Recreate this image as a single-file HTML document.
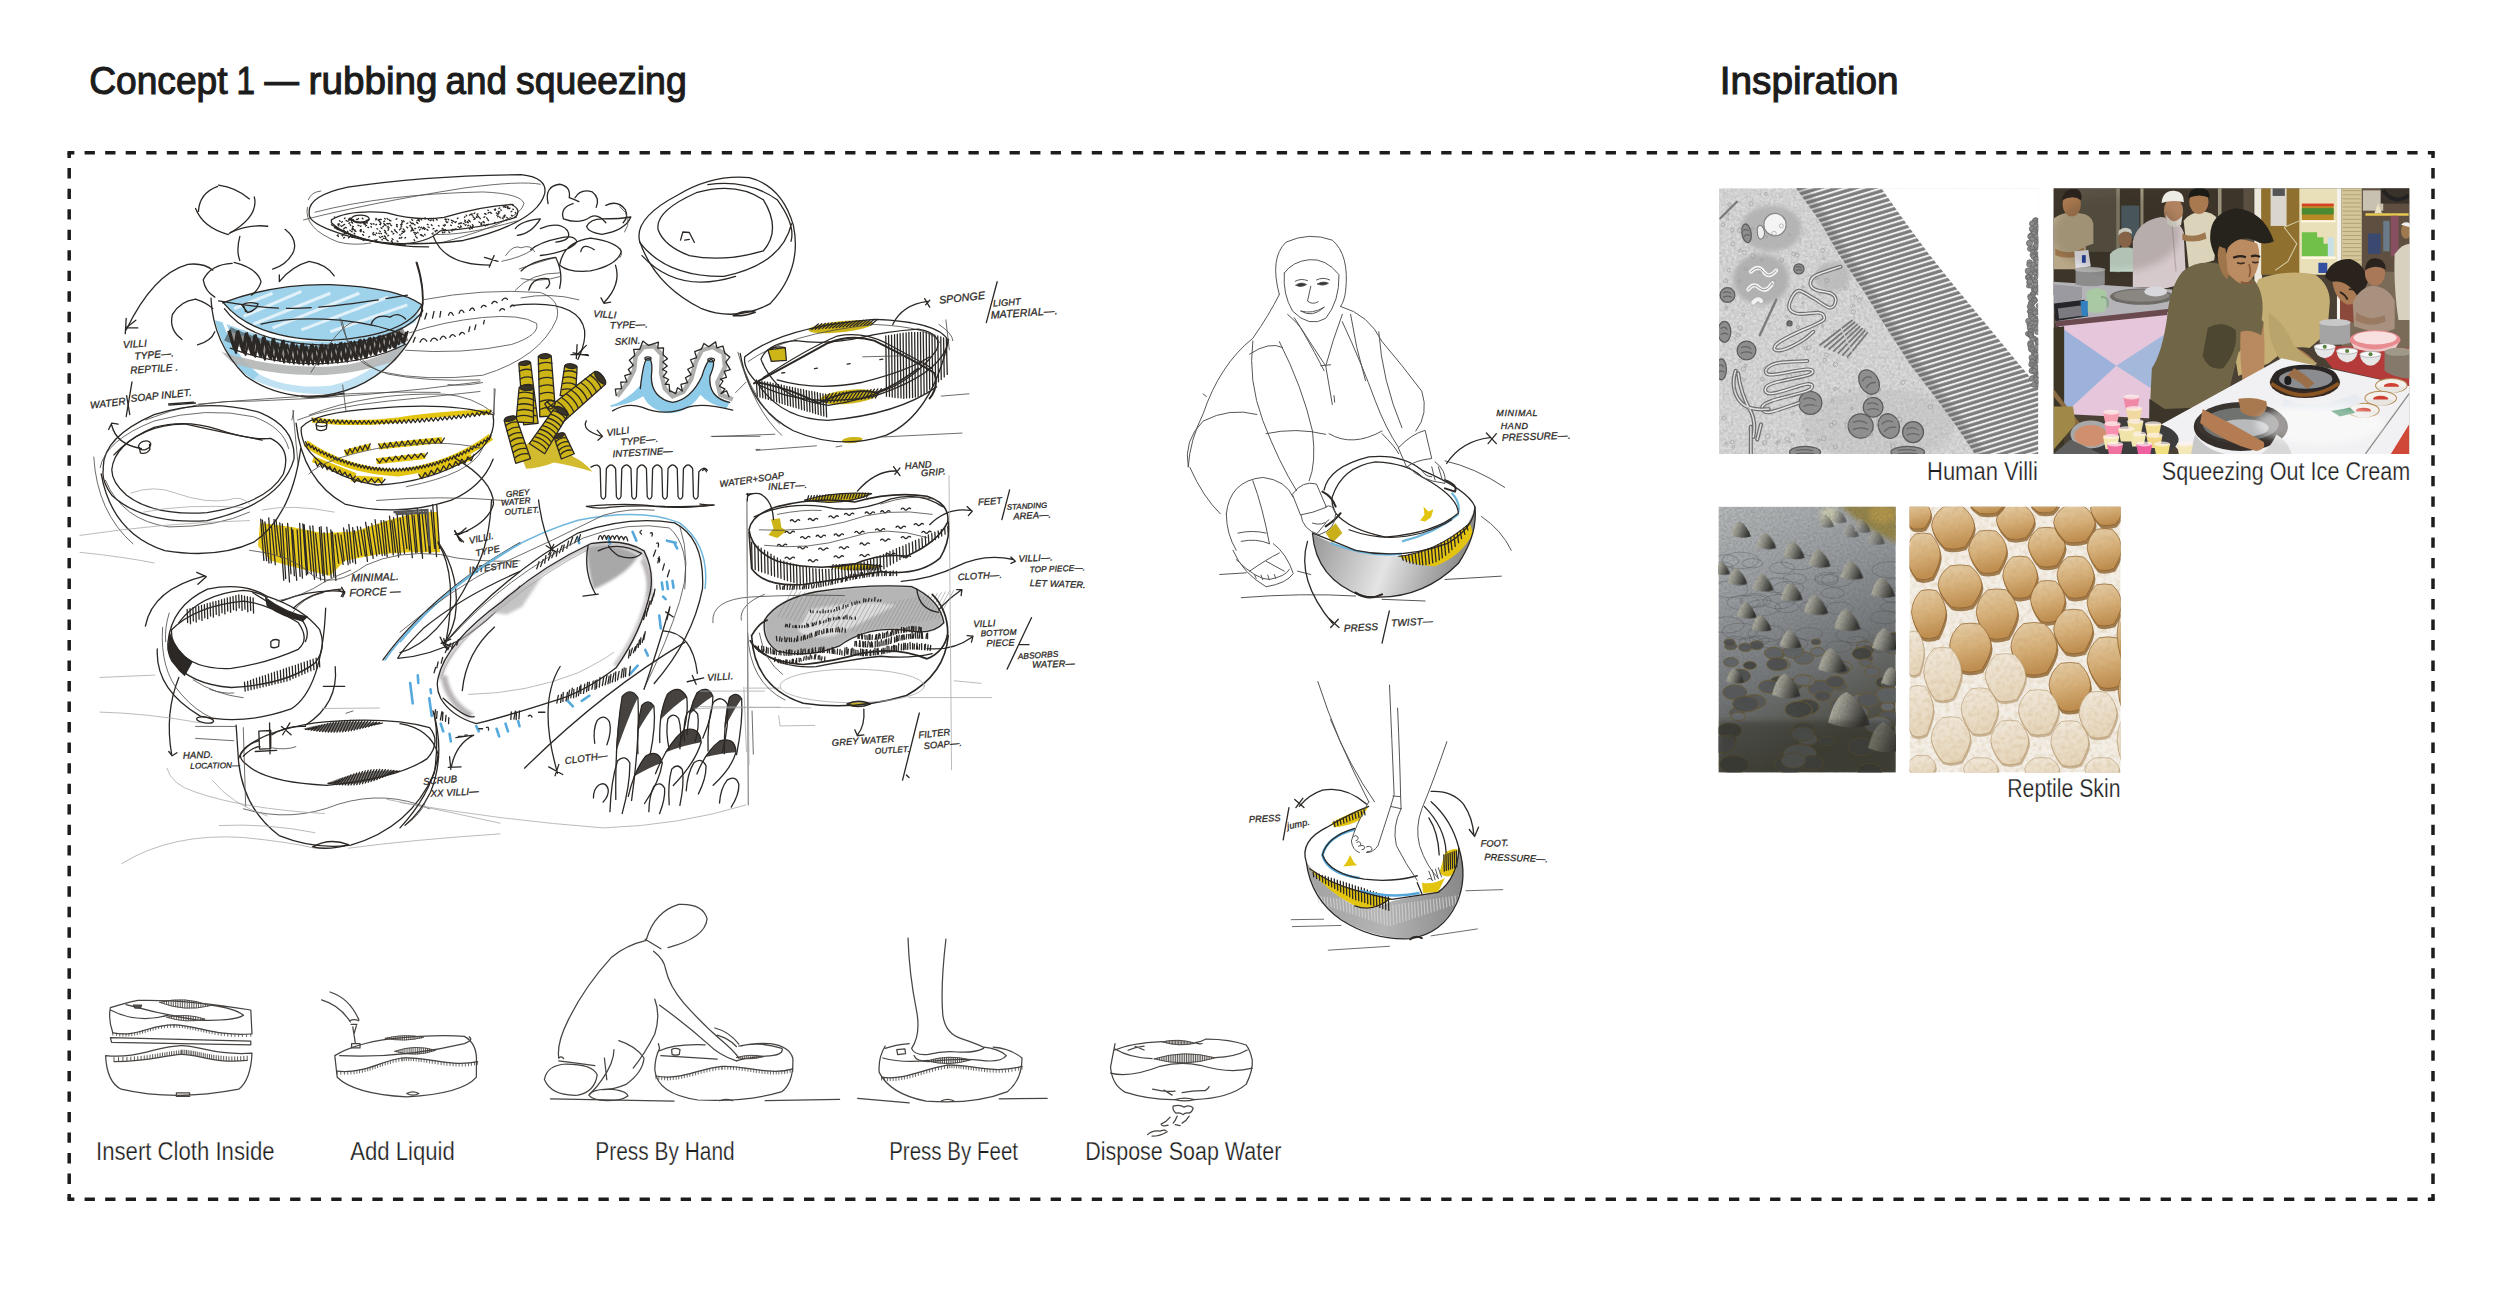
<!DOCTYPE html>
<html lang="en"><head><meta charset="utf-8"><title>Concept 1 — rubbing and squeezing</title>
<style>
html,body{margin:0;padding:0;background:#fff;}
body{width:2500px;height:1298px;overflow:hidden;font-family:"Liberation Sans",sans-serif;}
svg{display:block;}
text{font-family:"Liberation Sans",sans-serif;}
.h{font-size:39px;fill:#1c1c1c;stroke:#1c1c1c;stroke-width:1.1px;}
.c{font-size:25px;fill:#1e1e1e;stroke:#fff;stroke-width:0.25px;paint-order:fill stroke;}
.ink{fill:none;stroke:#2b2724;stroke-width:1.3;stroke-linecap:round;stroke-linejoin:round;}
.thin{fill:none;stroke:#4a4744;stroke-width:0.8;stroke-linecap:round;stroke-linejoin:round;}
.pencil{fill:none;stroke:#a4a4a4;stroke-width:0.75;stroke-linecap:round;stroke-linejoin:round;}
.pen{fill:none;stroke:#555;stroke-width:1;stroke-linecap:round;stroke-linejoin:round;}
.sk *{vector-effect:non-scaling-stroke;}
.blue{fill:#8ecbe8;stroke:none;}
.yel{fill:#cdb417;stroke:none;}
.yel2{fill:#e6c612;stroke:none;}
.gry{fill:#b4b6b6;stroke:none;}
.hw{font-family:"Liberation Sans",sans-serif;font-style:italic;fill:#2e2b28;stroke:#2e2b28;stroke-width:0.3px;letter-spacing:0.5px;}
</style></head><body>
<svg width="2500" height="1298" viewBox="0 0 2500 1298">
<rect x="0" y="0" width="2500" height="1298" fill="#ffffff"/>
<g id="frame" fill="none" stroke="#1c1c1c" stroke-width="3.5">
<path d="M69.2 152.8 H2433" stroke-dasharray="10.3 10.2548" stroke-dashoffset="5.15"/>
<path d="M69.2 1199.2 H2433" stroke-dasharray="10.3 10.2548" stroke-dashoffset="5.15"/>
<path d="M69.2 152.8 V1199.2" stroke-dasharray="10.4 10.118" stroke-dashoffset="5.2"/>
<path d="M2433 152.8 V1199.2" stroke-dasharray="10.4 10.118" stroke-dashoffset="5.2"/>
<path d="M67.45 152.8h3.5M2431.25 152.8h3.5M67.45 1199.2h3.5M2431.25 1199.2h3.5" stroke-dasharray="none"/>
</g>
<text class="h"><tspan x="89.2" y="94.4" textLength="138.4" lengthAdjust="spacingAndGlyphs">Concept</tspan> <tspan x="236.5" textLength="18.5" lengthAdjust="spacingAndGlyphs">1</tspan> <tspan x="264.4" textLength="34.4" lengthAdjust="spacingAndGlyphs">—</tspan> <tspan x="308.5" textLength="129" lengthAdjust="spacingAndGlyphs">rubbing</tspan> <tspan x="445.6" textLength="61.5" lengthAdjust="spacingAndGlyphs">and</tspan> <tspan x="516" textLength="170.8" lengthAdjust="spacingAndGlyphs">squeezing</tspan></text>
<text class="h" x="1719.7" y="94.4" textLength="179" lengthAdjust="spacingAndGlyphs">Inspiration</text>
<g class="c">
<text x="1927" y="480" textLength="110.8" lengthAdjust="spacingAndGlyphs">Human Villi</text>
<text x="2161.8" y="480" textLength="248.4" lengthAdjust="spacingAndGlyphs">Squeezing Out Ice Cream</text>
<text x="2007.3" y="796.5" textLength="113.2" lengthAdjust="spacingAndGlyphs">Reptile Skin</text>
<text x="96" y="1159.8" textLength="178.6" lengthAdjust="spacingAndGlyphs">Insert Cloth Inside</text>
<text x="350.2" y="1159.8" textLength="104.5" lengthAdjust="spacingAndGlyphs">Add Liquid</text>
<text x="595.3" y="1159.8" textLength="139.4" lengthAdjust="spacingAndGlyphs">Press By Hand</text>
<text x="889.2" y="1159.8" textLength="128.8" lengthAdjust="spacingAndGlyphs">Press By Feet</text>
<text x="1085.2" y="1159.8" textLength="196.1" lengthAdjust="spacingAndGlyphs">Dispose Soap Water</text>
</g>

<defs>
<clipPath id="cpV"><rect x="75" y="72" width="1255" height="1045"/></clipPath>
<filter id="fNoiseV" x="0" y="0" width="100%" height="100%"><feTurbulence type="fractalNoise" baseFrequency="0.09" numOctaves="3" seed="4"/><feColorMatrix type="matrix" values="0 0 0 0 0.45  0 0 0 0 0.45  0 0 0 0 0.45  0.9 0.9 0 0 -0.62"/></filter>
<filter id="fBlurV"><feGaussianBlur stdDeviation="3"/></filter>
<filter id="fBlurV2"><feGaussianBlur stdDeviation="8"/></filter>
<pattern id="pStripe" width="40" height="20.5" patternUnits="userSpaceOnUse" patternTransform="rotate(-17)">
<rect width="40" height="20.5" fill="#7b7b7b"/><rect y="6.5" width="40" height="8" fill="#f0f0f0"/></pattern>
<clipPath id="cpBand"><path d="M370 60 L470 200 L545 330 L640 470 L720 600 L830 770 L930 900 L1010 1010 L1090 1130 L1340 1130 L1340 865 L1240 745 L1120 600 L1000 455 L900 330 L800 195 L705 60Z"/></clipPath>
</defs>
<g transform="translate(1700,170) scale(0.25424)" clip-path="url(#cpV)">
<rect x="75" y="72" width="1255" height="1045" fill="#dcdcdc"/>
<g filter="url(#fBlurV2)"><ellipse cx="280" cy="230" rx="120" ry="90" fill="#b5b5b5"/><ellipse cx="240" cy="430" rx="110" ry="100" fill="#b0b0b0"/><ellipse cx="520" cy="420" rx="70" ry="60" fill="#c0c0c0"/><ellipse cx="700" cy="1000" rx="300" ry="140" fill="#cfcfcf"/></g>
<rect x="75" y="72" width="1255" height="1045" filter="url(#fNoiseV)"/>
<path d="M690 60 L1340 60 L1340 880 L1240 750 L1120 605 L1000 460 L900 335 L800 200Z" fill="#ffffff"/>
<g clip-path="url(#cpBand)"><rect x="300" y="0" width="1100" height="1200" fill="url(#pStripe)"/>
<path d="M370 60 L470 200 L545 330 L640 470 L720 600 L830 770 L930 900 L1010 1010 L1090 1130" fill="none" stroke="#666" stroke-width="70" opacity="0.35" filter="url(#fBlurV2)"/>
</g>
<circle cx="1323" cy="199" r="10" fill="#8a8a8a" stroke="#666" stroke-width="3"/>
<circle cx="1321" cy="196" r="8" fill="#8a8a8a" stroke="#666" stroke-width="3"/>
<circle cx="1317" cy="198" r="9" fill="#8a8a8a" stroke="#666" stroke-width="3"/>
<circle cx="1320" cy="214" r="10" fill="#8a8a8a" stroke="#666" stroke-width="3"/>
<circle cx="1314" cy="208" r="11" fill="#8a8a8a" stroke="#666" stroke-width="3"/>
<circle cx="1307" cy="211" r="11" fill="#8a8a8a" stroke="#666" stroke-width="3"/>
<circle cx="1333" cy="225" r="10" fill="#8a8a8a" stroke="#666" stroke-width="3"/>
<circle cx="1326" cy="217" r="11" fill="#8a8a8a" stroke="#666" stroke-width="3"/>
<circle cx="1321" cy="224" r="12" fill="#8a8a8a" stroke="#666" stroke-width="3"/>
<circle cx="1306" cy="232" r="11" fill="#8a8a8a" stroke="#666" stroke-width="3"/>
<circle cx="1321" cy="237" r="12" fill="#8a8a8a" stroke="#666" stroke-width="3"/>
<circle cx="1332" cy="229" r="9" fill="#8a8a8a" stroke="#666" stroke-width="3"/>
<circle cx="1319" cy="245" r="9" fill="#8a8a8a" stroke="#666" stroke-width="3"/>
<circle cx="1317" cy="243" r="9" fill="#8a8a8a" stroke="#666" stroke-width="3"/>
<circle cx="1314" cy="245" r="12" fill="#8a8a8a" stroke="#666" stroke-width="3"/>
<circle cx="1304" cy="259" r="12" fill="#8a8a8a" stroke="#666" stroke-width="3"/>
<circle cx="1312" cy="252" r="11" fill="#8a8a8a" stroke="#666" stroke-width="3"/>
<circle cx="1302" cy="259" r="10" fill="#8a8a8a" stroke="#666" stroke-width="3"/>
<circle cx="1328" cy="269" r="10" fill="#8a8a8a" stroke="#666" stroke-width="3"/>
<circle cx="1325" cy="262" r="11" fill="#8a8a8a" stroke="#666" stroke-width="3"/>
<circle cx="1300" cy="262" r="11" fill="#8a8a8a" stroke="#666" stroke-width="3"/>
<circle cx="1330" cy="275" r="11" fill="#8a8a8a" stroke="#666" stroke-width="3"/>
<circle cx="1306" cy="272" r="10" fill="#8a8a8a" stroke="#666" stroke-width="3"/>
<circle cx="1334" cy="279" r="9" fill="#8a8a8a" stroke="#666" stroke-width="3"/>
<circle cx="1296" cy="288" r="12" fill="#8a8a8a" stroke="#666" stroke-width="3"/>
<circle cx="1323" cy="284" r="10" fill="#8a8a8a" stroke="#666" stroke-width="3"/>
<circle cx="1334" cy="285" r="10" fill="#8a8a8a" stroke="#666" stroke-width="3"/>
<circle cx="1329" cy="294" r="11" fill="#8a8a8a" stroke="#666" stroke-width="3"/>
<circle cx="1323" cy="304" r="12" fill="#8a8a8a" stroke="#666" stroke-width="3"/>
<circle cx="1321" cy="299" r="10" fill="#8a8a8a" stroke="#666" stroke-width="3"/>
<circle cx="1312" cy="311" r="10" fill="#8a8a8a" stroke="#666" stroke-width="3"/>
<circle cx="1298" cy="310" r="10" fill="#8a8a8a" stroke="#666" stroke-width="3"/>
<circle cx="1307" cy="307" r="9" fill="#8a8a8a" stroke="#666" stroke-width="3"/>
<circle cx="1312" cy="321" r="8" fill="#8a8a8a" stroke="#666" stroke-width="3"/>
<circle cx="1317" cy="322" r="8" fill="#8a8a8a" stroke="#666" stroke-width="3"/>
<circle cx="1308" cy="322" r="8" fill="#8a8a8a" stroke="#666" stroke-width="3"/>
<circle cx="1316" cy="334" r="9" fill="#8a8a8a" stroke="#666" stroke-width="3"/>
<circle cx="1306" cy="334" r="8" fill="#8a8a8a" stroke="#666" stroke-width="3"/>
<circle cx="1332" cy="334" r="12" fill="#8a8a8a" stroke="#666" stroke-width="3"/>
<circle cx="1318" cy="344" r="9" fill="#8a8a8a" stroke="#666" stroke-width="3"/>
<circle cx="1321" cy="341" r="9" fill="#8a8a8a" stroke="#666" stroke-width="3"/>
<circle cx="1312" cy="341" r="10" fill="#8a8a8a" stroke="#666" stroke-width="3"/>
<circle cx="1334" cy="355" r="11" fill="#8a8a8a" stroke="#666" stroke-width="3"/>
<circle cx="1321" cy="351" r="11" fill="#8a8a8a" stroke="#666" stroke-width="3"/>
<circle cx="1324" cy="351" r="10" fill="#8a8a8a" stroke="#666" stroke-width="3"/>
<circle cx="1330" cy="363" r="9" fill="#8a8a8a" stroke="#666" stroke-width="3"/>
<circle cx="1297" cy="364" r="11" fill="#8a8a8a" stroke="#666" stroke-width="3"/>
<circle cx="1327" cy="363" r="11" fill="#8a8a8a" stroke="#666" stroke-width="3"/>
<circle cx="1313" cy="373" r="8" fill="#8a8a8a" stroke="#666" stroke-width="3"/>
<circle cx="1309" cy="373" r="11" fill="#8a8a8a" stroke="#666" stroke-width="3"/>
<circle cx="1294" cy="373" r="9" fill="#8a8a8a" stroke="#666" stroke-width="3"/>
<circle cx="1304" cy="390" r="9" fill="#8a8a8a" stroke="#666" stroke-width="3"/>
<circle cx="1329" cy="385" r="11" fill="#8a8a8a" stroke="#666" stroke-width="3"/>
<circle cx="1322" cy="385" r="10" fill="#8a8a8a" stroke="#666" stroke-width="3"/>
<circle cx="1317" cy="402" r="9" fill="#8a8a8a" stroke="#666" stroke-width="3"/>
<circle cx="1335" cy="402" r="12" fill="#8a8a8a" stroke="#666" stroke-width="3"/>
<circle cx="1291" cy="397" r="12" fill="#8a8a8a" stroke="#666" stroke-width="3"/>
<circle cx="1324" cy="411" r="11" fill="#8a8a8a" stroke="#666" stroke-width="3"/>
<circle cx="1301" cy="409" r="9" fill="#8a8a8a" stroke="#666" stroke-width="3"/>
<circle cx="1318" cy="406" r="8" fill="#8a8a8a" stroke="#666" stroke-width="3"/>
<circle cx="1321" cy="423" r="8" fill="#8a8a8a" stroke="#666" stroke-width="3"/>
<circle cx="1292" cy="422" r="12" fill="#8a8a8a" stroke="#666" stroke-width="3"/>
<circle cx="1292" cy="424" r="10" fill="#8a8a8a" stroke="#666" stroke-width="3"/>
<circle cx="1304" cy="428" r="9" fill="#8a8a8a" stroke="#666" stroke-width="3"/>
<circle cx="1307" cy="431" r="10" fill="#8a8a8a" stroke="#666" stroke-width="3"/>
<circle cx="1296" cy="432" r="9" fill="#8a8a8a" stroke="#666" stroke-width="3"/>
<circle cx="1296" cy="442" r="11" fill="#8a8a8a" stroke="#666" stroke-width="3"/>
<circle cx="1319" cy="439" r="10" fill="#8a8a8a" stroke="#666" stroke-width="3"/>
<circle cx="1298" cy="439" r="11" fill="#8a8a8a" stroke="#666" stroke-width="3"/>
<circle cx="1292" cy="456" r="8" fill="#8a8a8a" stroke="#666" stroke-width="3"/>
<circle cx="1301" cy="457" r="8" fill="#8a8a8a" stroke="#666" stroke-width="3"/>
<circle cx="1320" cy="451" r="10" fill="#8a8a8a" stroke="#666" stroke-width="3"/>
<circle cx="1312" cy="467" r="8" fill="#8a8a8a" stroke="#666" stroke-width="3"/>
<circle cx="1332" cy="460" r="8" fill="#8a8a8a" stroke="#666" stroke-width="3"/>
<circle cx="1332" cy="469" r="11" fill="#8a8a8a" stroke="#666" stroke-width="3"/>
<circle cx="1313" cy="473" r="9" fill="#8a8a8a" stroke="#666" stroke-width="3"/>
<circle cx="1319" cy="476" r="10" fill="#8a8a8a" stroke="#666" stroke-width="3"/>
<circle cx="1319" cy="472" r="9" fill="#8a8a8a" stroke="#666" stroke-width="3"/>
<circle cx="1310" cy="488" r="10" fill="#8a8a8a" stroke="#666" stroke-width="3"/>
<circle cx="1331" cy="483" r="9" fill="#8a8a8a" stroke="#666" stroke-width="3"/>
<circle cx="1308" cy="489" r="10" fill="#8a8a8a" stroke="#666" stroke-width="3"/>
<circle cx="1302" cy="496" r="9" fill="#8a8a8a" stroke="#666" stroke-width="3"/>
<circle cx="1309" cy="499" r="10" fill="#8a8a8a" stroke="#666" stroke-width="3"/>
<circle cx="1298" cy="497" r="9" fill="#8a8a8a" stroke="#666" stroke-width="3"/>
<circle cx="1300" cy="504" r="10" fill="#8a8a8a" stroke="#666" stroke-width="3"/>
<circle cx="1314" cy="512" r="12" fill="#8a8a8a" stroke="#666" stroke-width="3"/>
<circle cx="1316" cy="512" r="11" fill="#8a8a8a" stroke="#666" stroke-width="3"/>
<circle cx="1313" cy="515" r="11" fill="#8a8a8a" stroke="#666" stroke-width="3"/>
<circle cx="1304" cy="523" r="11" fill="#8a8a8a" stroke="#666" stroke-width="3"/>
<circle cx="1304" cy="521" r="10" fill="#8a8a8a" stroke="#666" stroke-width="3"/>
<circle cx="1308" cy="525" r="9" fill="#8a8a8a" stroke="#666" stroke-width="3"/>
<circle cx="1300" cy="525" r="8" fill="#8a8a8a" stroke="#666" stroke-width="3"/>
<circle cx="1331" cy="534" r="9" fill="#8a8a8a" stroke="#666" stroke-width="3"/>
<circle cx="1298" cy="537" r="11" fill="#8a8a8a" stroke="#666" stroke-width="3"/>
<circle cx="1305" cy="544" r="12" fill="#8a8a8a" stroke="#666" stroke-width="3"/>
<circle cx="1309" cy="544" r="8" fill="#8a8a8a" stroke="#666" stroke-width="3"/>
<circle cx="1308" cy="554" r="8" fill="#8a8a8a" stroke="#666" stroke-width="3"/>
<circle cx="1295" cy="556" r="8" fill="#8a8a8a" stroke="#666" stroke-width="3"/>
<circle cx="1318" cy="553" r="11" fill="#8a8a8a" stroke="#666" stroke-width="3"/>
<circle cx="1327" cy="560" r="10" fill="#8a8a8a" stroke="#666" stroke-width="3"/>
<circle cx="1300" cy="562" r="9" fill="#8a8a8a" stroke="#666" stroke-width="3"/>
<circle cx="1317" cy="562" r="10" fill="#8a8a8a" stroke="#666" stroke-width="3"/>
<circle cx="1313" cy="579" r="10" fill="#8a8a8a" stroke="#666" stroke-width="3"/>
<circle cx="1302" cy="571" r="11" fill="#8a8a8a" stroke="#666" stroke-width="3"/>
<circle cx="1302" cy="576" r="10" fill="#8a8a8a" stroke="#666" stroke-width="3"/>
<circle cx="1304" cy="589" r="9" fill="#8a8a8a" stroke="#666" stroke-width="3"/>
<circle cx="1330" cy="587" r="12" fill="#8a8a8a" stroke="#666" stroke-width="3"/>
<circle cx="1310" cy="584" r="11" fill="#8a8a8a" stroke="#666" stroke-width="3"/>
<circle cx="1323" cy="593" r="10" fill="#8a8a8a" stroke="#666" stroke-width="3"/>
<circle cx="1321" cy="593" r="11" fill="#8a8a8a" stroke="#666" stroke-width="3"/>
<circle cx="1292" cy="594" r="11" fill="#8a8a8a" stroke="#666" stroke-width="3"/>
<circle cx="1295" cy="608" r="9" fill="#8a8a8a" stroke="#666" stroke-width="3"/>
<circle cx="1325" cy="602" r="10" fill="#8a8a8a" stroke="#666" stroke-width="3"/>
<circle cx="1317" cy="604" r="9" fill="#8a8a8a" stroke="#666" stroke-width="3"/>
<circle cx="1300" cy="614" r="12" fill="#8a8a8a" stroke="#666" stroke-width="3"/>
<circle cx="1313" cy="619" r="10" fill="#8a8a8a" stroke="#666" stroke-width="3"/>
<circle cx="1297" cy="621" r="10" fill="#8a8a8a" stroke="#666" stroke-width="3"/>
<circle cx="1301" cy="633" r="10" fill="#8a8a8a" stroke="#666" stroke-width="3"/>
<circle cx="1301" cy="634" r="10" fill="#8a8a8a" stroke="#666" stroke-width="3"/>
<circle cx="1324" cy="626" r="11" fill="#8a8a8a" stroke="#666" stroke-width="3"/>
<circle cx="1289" cy="644" r="9" fill="#8a8a8a" stroke="#666" stroke-width="3"/>
<circle cx="1326" cy="638" r="9" fill="#8a8a8a" stroke="#666" stroke-width="3"/>
<circle cx="1301" cy="644" r="12" fill="#8a8a8a" stroke="#666" stroke-width="3"/>
<circle cx="1298" cy="649" r="10" fill="#8a8a8a" stroke="#666" stroke-width="3"/>
<circle cx="1304" cy="647" r="8" fill="#8a8a8a" stroke="#666" stroke-width="3"/>
<circle cx="1300" cy="649" r="9" fill="#8a8a8a" stroke="#666" stroke-width="3"/>
<circle cx="1304" cy="657" r="9" fill="#8a8a8a" stroke="#666" stroke-width="3"/>
<circle cx="1315" cy="662" r="9" fill="#8a8a8a" stroke="#666" stroke-width="3"/>
<circle cx="1308" cy="667" r="10" fill="#8a8a8a" stroke="#666" stroke-width="3"/>
<circle cx="1330" cy="671" r="11" fill="#8a8a8a" stroke="#666" stroke-width="3"/>
<circle cx="1330" cy="677" r="12" fill="#8a8a8a" stroke="#666" stroke-width="3"/>
<circle cx="1331" cy="677" r="9" fill="#8a8a8a" stroke="#666" stroke-width="3"/>
<circle cx="1300" cy="682" r="11" fill="#8a8a8a" stroke="#666" stroke-width="3"/>
<circle cx="1305" cy="687" r="9" fill="#8a8a8a" stroke="#666" stroke-width="3"/>
<circle cx="1300" cy="689" r="11" fill="#8a8a8a" stroke="#666" stroke-width="3"/>
<circle cx="1330" cy="695" r="9" fill="#8a8a8a" stroke="#666" stroke-width="3"/>
<circle cx="1305" cy="697" r="10" fill="#8a8a8a" stroke="#666" stroke-width="3"/>
<circle cx="1327" cy="696" r="11" fill="#8a8a8a" stroke="#666" stroke-width="3"/>
<circle cx="1302" cy="708" r="8" fill="#8a8a8a" stroke="#666" stroke-width="3"/>
<circle cx="1300" cy="702" r="9" fill="#8a8a8a" stroke="#666" stroke-width="3"/>
<circle cx="1308" cy="707" r="10" fill="#8a8a8a" stroke="#666" stroke-width="3"/>
<circle cx="1316" cy="715" r="9" fill="#8a8a8a" stroke="#666" stroke-width="3"/>
<circle cx="1332" cy="719" r="11" fill="#8a8a8a" stroke="#666" stroke-width="3"/>
<circle cx="1312" cy="719" r="9" fill="#8a8a8a" stroke="#666" stroke-width="3"/>
<circle cx="1321" cy="732" r="8" fill="#8a8a8a" stroke="#666" stroke-width="3"/>
<circle cx="1317" cy="725" r="11" fill="#8a8a8a" stroke="#666" stroke-width="3"/>
<circle cx="1322" cy="726" r="10" fill="#8a8a8a" stroke="#666" stroke-width="3"/>
<circle cx="1305" cy="738" r="11" fill="#8a8a8a" stroke="#666" stroke-width="3"/>
<circle cx="1331" cy="737" r="8" fill="#8a8a8a" stroke="#666" stroke-width="3"/>
<circle cx="1331" cy="742" r="11" fill="#8a8a8a" stroke="#666" stroke-width="3"/>
<circle cx="1329" cy="749" r="11" fill="#8a8a8a" stroke="#666" stroke-width="3"/>
<circle cx="1308" cy="752" r="10" fill="#8a8a8a" stroke="#666" stroke-width="3"/>
<circle cx="1330" cy="749" r="9" fill="#8a8a8a" stroke="#666" stroke-width="3"/>
<circle cx="1315" cy="758" r="9" fill="#8a8a8a" stroke="#666" stroke-width="3"/>
<circle cx="1307" cy="756" r="11" fill="#8a8a8a" stroke="#666" stroke-width="3"/>
<circle cx="1303" cy="765" r="10" fill="#8a8a8a" stroke="#666" stroke-width="3"/>
<circle cx="1315" cy="773" r="12" fill="#8a8a8a" stroke="#666" stroke-width="3"/>
<circle cx="1311" cy="770" r="11" fill="#8a8a8a" stroke="#666" stroke-width="3"/>
<circle cx="1318" cy="773" r="11" fill="#8a8a8a" stroke="#666" stroke-width="3"/>
<circle cx="1314" cy="785" r="10" fill="#8a8a8a" stroke="#666" stroke-width="3"/>
<circle cx="1321" cy="783" r="9" fill="#8a8a8a" stroke="#666" stroke-width="3"/>
<circle cx="1321" cy="778" r="10" fill="#8a8a8a" stroke="#666" stroke-width="3"/>
<circle cx="1320" cy="795" r="12" fill="#8a8a8a" stroke="#666" stroke-width="3"/>
<circle cx="1305" cy="790" r="11" fill="#8a8a8a" stroke="#666" stroke-width="3"/>
<circle cx="1314" cy="790" r="9" fill="#8a8a8a" stroke="#666" stroke-width="3"/>
<circle cx="1333" cy="805" r="12" fill="#8a8a8a" stroke="#666" stroke-width="3"/>
<circle cx="1326" cy="809" r="11" fill="#8a8a8a" stroke="#666" stroke-width="3"/>
<circle cx="1331" cy="809" r="10" fill="#8a8a8a" stroke="#666" stroke-width="3"/>
<circle cx="1311" cy="818" r="9" fill="#8a8a8a" stroke="#666" stroke-width="3"/>
<circle cx="1307" cy="820" r="11" fill="#8a8a8a" stroke="#666" stroke-width="3"/>
<circle cx="1320" cy="819" r="10" fill="#8a8a8a" stroke="#666" stroke-width="3"/>
<circle cx="1334" cy="823" r="9" fill="#8a8a8a" stroke="#666" stroke-width="3"/>
<circle cx="1331" cy="827" r="11" fill="#8a8a8a" stroke="#666" stroke-width="3"/>
<circle cx="1323" cy="826" r="11" fill="#8a8a8a" stroke="#666" stroke-width="3"/>
<circle cx="1324" cy="841" r="10" fill="#8a8a8a" stroke="#666" stroke-width="3"/>
<circle cx="1331" cy="842" r="11" fill="#8a8a8a" stroke="#666" stroke-width="3"/>
<circle cx="1326" cy="837" r="10" fill="#8a8a8a" stroke="#666" stroke-width="3"/>
<circle cx="1329" cy="844" r="9" fill="#8a8a8a" stroke="#666" stroke-width="3"/>
<circle cx="1314" cy="845" r="10" fill="#8a8a8a" stroke="#666" stroke-width="3"/>
<circle cx="1330" cy="846" r="9" fill="#8a8a8a" stroke="#666" stroke-width="3"/>
<g transform="translate(108,492) rotate(0)"><ellipse rx="29" ry="29" fill="#8e8e8e" stroke="#5c5c5c" stroke-width="5"/><path d="M-17 -9 Q0 -17 14 -6 M-17 9 Q0 0 17 9" stroke="#666" stroke-width="5" fill="none"/></g>
<g transform="translate(96,636) rotate(0)"><ellipse rx="25" ry="41" fill="#8e8e8e" stroke="#5c5c5c" stroke-width="5"/><path d="M-15 -12 Q0 -25 12 -8 M-15 12 Q0 0 15 12" stroke="#666" stroke-width="5" fill="none"/></g>
<g transform="translate(183,710) rotate(0)"><ellipse rx="37" ry="37" fill="#8e8e8e" stroke="#5c5c5c" stroke-width="5"/><path d="M-22 -11 Q0 -22 18 -7 M-22 11 Q0 0 22 11" stroke="#666" stroke-width="5" fill="none"/></g>
<g transform="translate(84,784) rotate(0)"><ellipse rx="20" ry="41" fill="#8e8e8e" stroke="#5c5c5c" stroke-width="5"/><path d="M-12 -12 Q0 -25 10 -8 M-12 12 Q0 0 12 12" stroke="#666" stroke-width="5" fill="none"/></g>
<g transform="translate(183,249) rotate(-10)"><ellipse rx="18" ry="37" fill="#8e8e8e" stroke="#5c5c5c" stroke-width="5"/><path d="M-11 -11 Q0 -22 9 -7 M-11 11 Q0 0 11 11" stroke="#666" stroke-width="5" fill="none"/></g>
<g transform="translate(389,389) rotate(0)"><ellipse rx="20" ry="20" fill="#8e8e8e" stroke="#5c5c5c" stroke-width="5"/><path d="M-12 -6 Q0 -12 10 -4 M-12 6 Q0 0 12 6" stroke="#666" stroke-width="5" fill="none"/></g>
<g transform="translate(434,916) rotate(0)"><ellipse rx="45" ry="45" fill="#8e8e8e" stroke="#5c5c5c" stroke-width="5"/><path d="M-27 -14 Q0 -27 23 -9 M-27 14 Q0 0 27 14" stroke="#666" stroke-width="5" fill="none"/></g>
<g transform="translate(665,834) rotate(-30)"><ellipse rx="37" ry="51" fill="#8e8e8e" stroke="#5c5c5c" stroke-width="5"/><path d="M-22 -15 Q0 -31 18 -10 M-22 15 Q0 0 22 15" stroke="#666" stroke-width="5" fill="none"/></g>
<g transform="translate(681,933) rotate(0)"><ellipse rx="39" ry="39" fill="#8e8e8e" stroke="#5c5c5c" stroke-width="5"/><path d="M-24 -12 Q0 -24 20 -8 M-24 12 Q0 0 24 12" stroke="#666" stroke-width="5" fill="none"/></g>
<g transform="translate(632,1007) rotate(0)"><ellipse rx="49" ry="48" fill="#8e8e8e" stroke="#5c5c5c" stroke-width="5"/><path d="M-30 -14 Q0 -29 25 -10 M-30 14 Q0 0 30 14" stroke="#666" stroke-width="5" fill="none"/></g>
<g transform="translate(743,1007) rotate(-20)"><ellipse rx="41" ry="49" fill="#8e8e8e" stroke="#5c5c5c" stroke-width="5"/><path d="M-25 -15 Q0 -30 20 -10 M-25 15 Q0 0 25 15" stroke="#666" stroke-width="5" fill="none"/></g>
<g transform="translate(838,1031) rotate(0)"><ellipse rx="41" ry="41" fill="#8e8e8e" stroke="#5c5c5c" stroke-width="5"/><path d="M-25 -12 Q0 -25 20 -8 M-25 12 Q0 0 25 12" stroke="#666" stroke-width="5" fill="none"/></g>
<g transform="translate(413,1110) rotate(0)"><ellipse rx="61" ry="23" fill="#8e8e8e" stroke="#5c5c5c" stroke-width="5"/><path d="M-37 -7 Q0 -14 31 -5 M-37 7 Q0 0 37 7" stroke="#666" stroke-width="5" fill="none"/></g>
<g transform="translate(817,1110) rotate(0)"><ellipse rx="66" ry="23" fill="#8e8e8e" stroke="#5c5c5c" stroke-width="5"/><path d="M-39 -7 Q0 -14 33 -5 M-39 7 Q0 0 39 7" stroke="#666" stroke-width="5" fill="none"/></g>
<g transform="translate(352,603) rotate(0)"><ellipse rx="10" ry="10" fill="#8e8e8e" stroke="#5c5c5c" stroke-width="5"/><path d="M-6 -3 Q0 -6 5 -2 M-6 3 Q0 0 6 3" stroke="#666" stroke-width="5" fill="none"/></g>
<circle cx="295" cy="215" r="44" fill="#f4f4f4" stroke="#888" stroke-width="5"/>
<path d="M225 230 q10 -25 25 0 q10 25 -5 40 q-20 10 -20 -40Z" fill="#eee" stroke="#777" stroke-width="4"/>
<path d="M200 400 q30 -30 50 0 q20 30 50 -5 M190 470 q20 -30 45 -5 q25 20 50 -20 M210 520 q20 -20 30 -5" stroke="#f2f2f2" stroke-width="16" fill="none" stroke-linecap="round"/>
<path d="M200 400 q30 -30 50 0 q20 30 50 -5 M190 470 q20 -30 45 -5 q25 20 50 -20" stroke="#777" stroke-width="3" fill="none" stroke-linecap="round"/>
<path d="M553 380 C537 386 474 404 455 415 C435 426 434 437 434 446 C434 456 440 464 455 471 C469 478 507 479 520 488 C534 496 535 512 533 520 C531 529 523 544 508 541 C494 538 466 515 446 504 C426 493 403 475 389 475 C374 475 366 492 360 504 C354 516 347 535 352 545 C356 556 369 563 389 566 C409 569 455 558 471 562 C488 565 490 579 488 586 C485 594 474 597 455 607 C435 617 397 632 372 644 C347 656 319 671 306 681 C293 691 290 702 294 706 C298 710 312 712 331 706 C349 700 386 681 405 669 C424 657 439 641 446 636 M422 751 C402 753 333 754 306 759 C279 765 265 777 261 784 C257 792 255 805 282 805 C308 805 397 784 422 784 C446 784 452 796 430 805 C408 814 319 828 290 838 C261 847 257 856 257 862 C256 869 258 882 286 879 C313 876 398 844 422 842 C445 840 449 856 426 867 C402 878 312 897 282 908 C251 919 246 925 244 933 C243 940 249 956 273 953 C297 950 369 922 389 916" stroke="#6e6e6e" stroke-width="15" fill="none" stroke-linecap="round" stroke-linejoin="round"/>
<path d="M553 380 C537 386 474 404 455 415 C435 426 434 437 434 446 C434 456 440 464 455 471 C469 478 507 479 520 488 C534 496 535 512 533 520 C531 529 523 544 508 541 C494 538 466 515 446 504 C426 493 403 475 389 475 C374 475 366 492 360 504 C354 516 347 535 352 545 C356 556 369 563 389 566 C409 569 455 558 471 562 C488 565 490 579 488 586 C485 594 474 597 455 607 C435 617 397 632 372 644 C347 656 319 671 306 681 C293 691 290 702 294 706 C298 710 312 712 331 706 C349 700 386 681 405 669 C424 657 439 641 446 636 M422 751 C402 753 333 754 306 759 C279 765 265 777 261 784 C257 792 255 805 282 805 C308 805 397 784 422 784 C446 784 452 796 430 805 C408 814 319 828 290 838 C261 847 257 856 257 862 C256 869 258 882 286 879 C313 876 398 844 422 842 C445 840 449 856 426 867 C402 878 312 897 282 908 C251 919 246 925 244 933 C243 940 249 956 273 953 C297 950 369 922 389 916" stroke="#e8e8e8" stroke-width="6" fill="none" stroke-linecap="round" stroke-linejoin="round"/>
<path d="M140 790 q-20 60 10 110 q30 50 120 40 M150 800 q10 80 50 150 q20 40 10 100 M200 1010 l0 110 M240 1000 l-15 60" stroke="#6e6e6e" stroke-width="16" fill="none" stroke-linecap="round"/>
<path d="M140 790 q-20 60 10 110 q30 50 120 40 M150 800 q10 80 50 150 q20 40 10 100 M200 1010 l0 110 M240 1000 l-15 60" stroke="#dedede" stroke-width="6" fill="none" stroke-linecap="round"/>
<path d="M80 190 L145 125 M235 650 L300 510" stroke="#7a7a7a" stroke-width="9" stroke-linecap="round"/>
<path d="M470 690 L600 590" stroke="#777" stroke-width="7"/>
<path d="M488 698 L610 598" stroke="#777" stroke-width="7"/>
<path d="M506 706 L620 606" stroke="#777" stroke-width="7"/>
<path d="M524 714 L630 614" stroke="#777" stroke-width="7"/>
<path d="M542 722 L640 622" stroke="#777" stroke-width="7"/>
<path d="M560 730 L650 630" stroke="#777" stroke-width="7"/>
<path d="M578 738 L660 638" stroke="#777" stroke-width="7"/>
<path d="M540 590 L600 720" stroke="#ccc" stroke-width="5"/>
<circle cx="107" cy="193" r="5" fill="none" stroke="#9a9a9a" stroke-width="2.5"/>
<circle cx="102" cy="541" r="6" fill="none" stroke="#9a9a9a" stroke-width="2.5"/>
<circle cx="471" cy="489" r="4" fill="none" stroke="#9a9a9a" stroke-width="2.5"/>
<circle cx="171" cy="569" r="5" fill="none" stroke="#9a9a9a" stroke-width="2.5"/>
<circle cx="200" cy="133" r="8" fill="none" stroke="#9a9a9a" stroke-width="2.5"/>
<circle cx="347" cy="891" r="6" fill="none" stroke="#9a9a9a" stroke-width="2.5"/>
<circle cx="322" cy="354" r="8" fill="none" stroke="#9a9a9a" stroke-width="2.5"/>
<circle cx="171" cy="783" r="9" fill="none" stroke="#9a9a9a" stroke-width="2.5"/>
<circle cx="109" cy="173" r="5" fill="none" stroke="#9a9a9a" stroke-width="2.5"/>
<circle cx="116" cy="136" r="7" fill="none" stroke="#9a9a9a" stroke-width="2.5"/>
<circle cx="859" cy="1025" r="9" fill="none" stroke="#9a9a9a" stroke-width="2.5"/>
<circle cx="113" cy="394" r="7" fill="none" stroke="#9a9a9a" stroke-width="2.5"/>
<circle cx="365" cy="955" r="5" fill="none" stroke="#9a9a9a" stroke-width="2.5"/>
<circle cx="458" cy="424" r="7" fill="none" stroke="#9a9a9a" stroke-width="2.5"/>
<circle cx="798" cy="836" r="8" fill="none" stroke="#9a9a9a" stroke-width="2.5"/>
<circle cx="617" cy="1031" r="6" fill="none" stroke="#9a9a9a" stroke-width="2.5"/>
<circle cx="482" cy="316" r="8" fill="none" stroke="#9a9a9a" stroke-width="2.5"/>
<circle cx="245" cy="822" r="7" fill="none" stroke="#9a9a9a" stroke-width="2.5"/>
<circle cx="533" cy="861" r="7" fill="none" stroke="#9a9a9a" stroke-width="2.5"/>
<circle cx="174" cy="324" r="8" fill="none" stroke="#9a9a9a" stroke-width="2.5"/>
<circle cx="703" cy="985" r="8" fill="none" stroke="#9a9a9a" stroke-width="2.5"/>
<circle cx="516" cy="1004" r="8" fill="none" stroke="#9a9a9a" stroke-width="2.5"/>
<circle cx="404" cy="461" r="4" fill="none" stroke="#9a9a9a" stroke-width="2.5"/>
<circle cx="467" cy="1064" r="5" fill="none" stroke="#9a9a9a" stroke-width="2.5"/>
<circle cx="158" cy="749" r="5" fill="none" stroke="#9a9a9a" stroke-width="2.5"/>
<circle cx="127" cy="237" r="7" fill="none" stroke="#9a9a9a" stroke-width="2.5"/>
<circle cx="303" cy="1076" r="5" fill="none" stroke="#9a9a9a" stroke-width="2.5"/>
<circle cx="626" cy="512" r="8" fill="none" stroke="#9a9a9a" stroke-width="2.5"/>
<circle cx="666" cy="892" r="7" fill="none" stroke="#9a9a9a" stroke-width="2.5"/>
<circle cx="263" cy="263" r="4" fill="none" stroke="#9a9a9a" stroke-width="2.5"/>
<circle cx="103" cy="1075" r="5" fill="none" stroke="#9a9a9a" stroke-width="2.5"/>
<circle cx="703" cy="864" r="8" fill="none" stroke="#9a9a9a" stroke-width="2.5"/>
<circle cx="416" cy="701" r="6" fill="none" stroke="#9a9a9a" stroke-width="2.5"/>
<circle cx="188" cy="940" r="7" fill="none" stroke="#9a9a9a" stroke-width="2.5"/>
<circle cx="603" cy="558" r="8" fill="none" stroke="#9a9a9a" stroke-width="2.5"/>
<circle cx="155" cy="437" r="6" fill="none" stroke="#9a9a9a" stroke-width="2.5"/>
<circle cx="149" cy="649" r="8" fill="none" stroke="#9a9a9a" stroke-width="2.5"/>
<circle cx="490" cy="748" r="7" fill="none" stroke="#9a9a9a" stroke-width="2.5"/>
<circle cx="288" cy="441" r="9" fill="none" stroke="#9a9a9a" stroke-width="2.5"/>
<circle cx="405" cy="524" r="4" fill="none" stroke="#9a9a9a" stroke-width="2.5"/>
<circle cx="291" cy="250" r="9" fill="none" stroke="#9a9a9a" stroke-width="2.5"/>
<circle cx="785" cy="981" r="9" fill="none" stroke="#9a9a9a" stroke-width="2.5"/>
<circle cx="674" cy="1039" r="7" fill="none" stroke="#9a9a9a" stroke-width="2.5"/>
<circle cx="486" cy="1056" r="9" fill="none" stroke="#9a9a9a" stroke-width="2.5"/>
<circle cx="363" cy="1042" r="5" fill="none" stroke="#9a9a9a" stroke-width="2.5"/>
<circle cx="173" cy="824" r="5" fill="none" stroke="#9a9a9a" stroke-width="2.5"/>
<circle cx="584" cy="738" r="4" fill="none" stroke="#9a9a9a" stroke-width="2.5"/>
<circle cx="499" cy="435" r="8" fill="none" stroke="#9a9a9a" stroke-width="2.5"/>
<circle cx="180" cy="388" r="6" fill="none" stroke="#9a9a9a" stroke-width="2.5"/>
<circle cx="155" cy="238" r="8" fill="none" stroke="#9a9a9a" stroke-width="2.5"/>
<circle cx="759" cy="1086" r="9" fill="none" stroke="#9a9a9a" stroke-width="2.5"/>
<circle cx="237" cy="401" r="6" fill="none" stroke="#9a9a9a" stroke-width="2.5"/>
<circle cx="590" cy="638" r="6" fill="none" stroke="#9a9a9a" stroke-width="2.5"/>
<circle cx="529" cy="993" r="8" fill="none" stroke="#9a9a9a" stroke-width="2.5"/>
<circle cx="368" cy="330" r="8" fill="none" stroke="#9a9a9a" stroke-width="2.5"/>
<circle cx="90" cy="215" r="7" fill="none" stroke="#9a9a9a" stroke-width="2.5"/>
<circle cx="129" cy="290" r="8" fill="none" stroke="#9a9a9a" stroke-width="2.5"/>
<circle cx="532" cy="1089" r="8" fill="none" stroke="#9a9a9a" stroke-width="2.5"/>
<circle cx="259" cy="94" r="6" fill="none" stroke="#9a9a9a" stroke-width="2.5"/>
<circle cx="382" cy="335" r="8" fill="none" stroke="#9a9a9a" stroke-width="2.5"/>
<circle cx="486" cy="348" r="4" fill="none" stroke="#9a9a9a" stroke-width="2.5"/>
<circle cx="497" cy="726" r="7" fill="none" stroke="#9a9a9a" stroke-width="2.5"/>
<circle cx="320" cy="220" r="8" fill="none" stroke="#9a9a9a" stroke-width="2.5"/>
<circle cx="351" cy="254" r="4" fill="none" stroke="#9a9a9a" stroke-width="2.5"/>
<circle cx="704" cy="1004" r="9" fill="none" stroke="#9a9a9a" stroke-width="2.5"/>
<circle cx="533" cy="765" r="9" fill="none" stroke="#9a9a9a" stroke-width="2.5"/>
<circle cx="482" cy="614" r="5" fill="none" stroke="#9a9a9a" stroke-width="2.5"/>
<circle cx="257" cy="784" r="9" fill="none" stroke="#9a9a9a" stroke-width="2.5"/>
<circle cx="611" cy="500" r="6" fill="none" stroke="#9a9a9a" stroke-width="2.5"/>
<circle cx="521" cy="907" r="6" fill="none" stroke="#9a9a9a" stroke-width="2.5"/>
<circle cx="385" cy="618" r="6" fill="none" stroke="#9a9a9a" stroke-width="2.5"/>
<circle cx="906" cy="932" r="9" fill="none" stroke="#9a9a9a" stroke-width="2.5"/>
<circle cx="637" cy="646" r="6" fill="none" stroke="#9a9a9a" stroke-width="2.5"/>
<circle cx="351" cy="811" r="9" fill="none" stroke="#9a9a9a" stroke-width="2.5"/>
<circle cx="179" cy="769" r="6" fill="none" stroke="#9a9a9a" stroke-width="2.5"/>
<circle cx="579" cy="1003" r="9" fill="none" stroke="#9a9a9a" stroke-width="2.5"/>
<circle cx="452" cy="933" r="6" fill="none" stroke="#9a9a9a" stroke-width="2.5"/>
<circle cx="343" cy="1058" r="9" fill="none" stroke="#9a9a9a" stroke-width="2.5"/>
<circle cx="388" cy="484" r="5" fill="none" stroke="#9a9a9a" stroke-width="2.5"/>
<circle cx="208" cy="338" r="9" fill="none" stroke="#9a9a9a" stroke-width="2.5"/>
<circle cx="157" cy="317" r="5" fill="none" stroke="#9a9a9a" stroke-width="2.5"/>
<circle cx="157" cy="622" r="8" fill="none" stroke="#9a9a9a" stroke-width="2.5"/>
<circle cx="354" cy="1070" r="4" fill="none" stroke="#9a9a9a" stroke-width="2.5"/>
<circle cx="340" cy="577" r="5" fill="none" stroke="#9a9a9a" stroke-width="2.5"/>
<circle cx="309" cy="1066" r="5" fill="none" stroke="#9a9a9a" stroke-width="2.5"/>
<circle cx="133" cy="862" r="5" fill="none" stroke="#9a9a9a" stroke-width="2.5"/>
<circle cx="264" cy="927" r="8" fill="none" stroke="#9a9a9a" stroke-width="2.5"/>
<circle cx="127" cy="1070" r="7" fill="none" stroke="#9a9a9a" stroke-width="2.5"/>
<circle cx="458" cy="1097" r="5" fill="none" stroke="#9a9a9a" stroke-width="2.5"/>
<circle cx="207" cy="230" r="5" fill="none" stroke="#9a9a9a" stroke-width="2.5"/>
<circle cx="422" cy="1022" r="4" fill="none" stroke="#9a9a9a" stroke-width="2.5"/>
<circle cx="266" cy="1047" r="9" fill="none" stroke="#9a9a9a" stroke-width="2.5"/>
<circle cx="424" cy="1059" r="6" fill="none" stroke="#9a9a9a" stroke-width="2.5"/>
<circle cx="101" cy="436" r="8" fill="none" stroke="#9a9a9a" stroke-width="2.5"/>
<circle cx="530" cy="634" r="6" fill="none" stroke="#9a9a9a" stroke-width="2.5"/>
<circle cx="598" cy="938" r="5" fill="none" stroke="#9a9a9a" stroke-width="2.5"/>
<circle cx="656" cy="1041" r="8" fill="none" stroke="#9a9a9a" stroke-width="2.5"/>
<circle cx="254" cy="1072" r="8" fill="none" stroke="#9a9a9a" stroke-width="2.5"/>
<circle cx="243" cy="354" r="5" fill="none" stroke="#9a9a9a" stroke-width="2.5"/>
<circle cx="131" cy="1088" r="6" fill="none" stroke="#9a9a9a" stroke-width="2.5"/>
<circle cx="94" cy="976" r="8" fill="none" stroke="#9a9a9a" stroke-width="2.5"/>
<circle cx="589" cy="869" r="4" fill="none" stroke="#9a9a9a" stroke-width="2.5"/>
<circle cx="604" cy="534" r="5" fill="none" stroke="#9a9a9a" stroke-width="2.5"/>
<circle cx="571" cy="465" r="6" fill="none" stroke="#9a9a9a" stroke-width="2.5"/>
<circle cx="428" cy="699" r="9" fill="none" stroke="#9a9a9a" stroke-width="2.5"/>
</g>
<defs>
<clipPath id="cpI"><rect x="53" y="72" width="1400" height="1045"/></clipPath>
<filter id="fB1" x="-20%" y="-20%" width="140%" height="140%"><feGaussianBlur stdDeviation="3"/></filter>
<filter id="fB2" x="-20%" y="-20%" width="140%" height="140%"><feGaussianBlur stdDeviation="7"/></filter>
<filter id="fB3" x="-20%" y="-20%" width="140%" height="140%"><feGaussianBlur stdDeviation="14"/></filter>
</defs>
<g transform="translate(2040,170) scale(0.25424)" clip-path="url(#cpI)">
<rect x="53" y="72" width="1400" height="1045" fill="#4a4034"/>
<g filter="url(#fB1)">
<rect x="53" y="72" width="800" height="420" fill="#3e352b"/>
<rect x="150" y="72" width="160" height="250" fill="#5a5245"/>
<rect x="300" y="72" width="14" height="330" fill="#8a8270"/><rect x="395" y="72" width="12" height="300" fill="#a09880"/><rect x="700" y="72" width="14" height="200" fill="#9a927a"/><rect x="800" y="72" width="40" height="330" fill="#5a5040"/>
<rect x="320" y="140" width="70" height="130" fill="#50606a"/>
<rect x="843" y="72" width="30" height="440" fill="#ece8dc"/>
<rect x="870" y="72" width="155" height="340" fill="#8f6f2e"/>
<path d="M960 225 L1010 290 L975 360 L925 395 M960 225 L1020 200" stroke="#d8cfa8" stroke-width="4" fill="none"/>
<rect x="907" y="72" width="63" height="148" fill="#dad6ce"/><rect x="915" y="72" width="48" height="30" fill="#555"/>
<rect x="1020" y="72" width="150" height="340" fill="#e9dfb8"/>
<rect x="1030" y="135" width="125" height="62" fill="#b88a28"/><rect x="1030" y="150" width="125" height="25" fill="#4a8a30"/><rect x="1030" y="132" width="125" height="10" fill="#d84020"/>
<rect x="1028" y="198" width="135" height="8" fill="#fff8e0"/>
<path d="M1030 245 h60 v20 h25 v25 h20 v50 h-105Z" fill="#70c048"/>
<rect x="1132" y="265" width="24" height="75" fill="#c8e0e8"/>
<rect x="1028" y="340" width="135" height="10" fill="#fff8e0"/><rect x="1095" y="365" width="35" height="40" fill="#3050a0"/>
<rect x="1168" y="72" width="18" height="530" fill="#f4f2ea"/>
<rect x="1186" y="72" width="80" height="340" fill="#d4c69a"/>
<rect x="1190" y="80" width="72" height="3" fill="#a89868"/>
<rect x="1190" y="96" width="72" height="3" fill="#a89868"/>
<rect x="1190" y="112" width="72" height="3" fill="#a89868"/>
<rect x="1190" y="128" width="72" height="3" fill="#a89868"/>
<rect x="1190" y="144" width="72" height="3" fill="#a89868"/>
<rect x="1190" y="160" width="72" height="3" fill="#a89868"/>
<rect x="1190" y="176" width="72" height="3" fill="#a89868"/>
<rect x="1190" y="192" width="72" height="3" fill="#a89868"/>
<rect x="1190" y="208" width="72" height="3" fill="#a89868"/>
<rect x="1190" y="224" width="72" height="3" fill="#a89868"/>
<rect x="1190" y="240" width="72" height="3" fill="#a89868"/>
<rect x="1190" y="256" width="72" height="3" fill="#a89868"/>
<rect x="1190" y="272" width="72" height="3" fill="#a89868"/>
<rect x="1190" y="288" width="72" height="3" fill="#a89868"/>
<rect x="1190" y="304" width="72" height="3" fill="#a89868"/>
<rect x="1190" y="320" width="72" height="3" fill="#a89868"/>
<rect x="1190" y="336" width="72" height="3" fill="#a89868"/>
<rect x="1190" y="352" width="72" height="3" fill="#a89868"/>
<rect x="1190" y="368" width="72" height="3" fill="#a89868"/>
<rect x="1190" y="384" width="72" height="3" fill="#a89868"/>
<rect x="1266" y="72" width="190" height="340" fill="#5e5040"/>
<rect x="1270" y="80" width="80" height="80" fill="#c8c0b0"/><rect x="1340" y="72" width="112" height="60" fill="#38302a"/><path d="M1350 80 q40 60 100 20" stroke="#222" stroke-width="14" fill="none"/>
<path d="M1280 175 h170" stroke="#e8c850" stroke-width="10"/><path d="M1330 130 l15 40 h-30z" fill="#e8e0c0"/>
<rect x="1380" y="180" width="30" height="160" fill="#885060"/><rect x="1350" y="200" width="25" height="120" fill="#6a7a88"/><rect x="1290" y="250" width="50" height="80" fill="#3a4a70"/>
<rect x="1186" y="400" width="270" height="300" fill="#7a6a58"/>
<rect x="1180" y="480" width="60" height="120" fill="#8a4a3a"/>
<path d="M55 190 q40 -30 100 -20 q50 5 55 40 l0 80 l-30 10 l5 90 l-130 0Z" fill="#b9a888"/>
<ellipse cx="125" cy="135" rx="36" ry="48" fill="#a87850"/><path d="M85 120 q10 -50 55 -45 q30 5 22 45 q-30 -25 -77 0Z" fill="#2a221c"/>
<path d="M60 310 q60 30 110 -5 l10 20 q-60 35 -120 10Z" fill="#a07850"/>
<path d="M135 320 l55 -5 l10 65 l-60 5Z" fill="#e8e8f0"/><rect x="165" y="335" width="15" height="30" fill="#2040a0"/>
<path d="M275 330 q40 -40 95 -20 l0 90 l-95 0Z" fill="#cfe4d6"/><ellipse cx="335" cy="272" rx="26" ry="34" fill="#9a7050"/><path d="M308 258 q25 -30 55 -5 l-5 -18 q-25 -18 -48 3Z" fill="#e8e8e0"/>
<path d="M365 280 q20 -80 110 -95 q70 5 90 60 l10 200 l-80 20 l-130 -5Z" fill="#d6c9cb"/>
<path d="M520 220 l15 180" stroke="#b8a8a8" stroke-width="5"/>
<ellipse cx="525" cy="160" rx="38" ry="50" fill="#b08260"/><path d="M478 130 q5 -50 50 -48 q40 3 38 45 q-45 -12 -88 3Z" fill="#ecebe4"/><path d="M495 175 q30 50 65 5 l-5 35 q-30 20 -55 -5Z" fill="#e0dcd4"/>
<path d="M565 200 q30 -40 90 -35 q40 10 50 40 l-20 150 l-100 30Z" fill="#dbd3ba"/>
<ellipse cx="625" cy="125" rx="38" ry="48" fill="#a87850"/><path d="M583 110 q5 -42 45 -40 q40 2 40 40 q-40 -20 -85 0Z" fill="#1e1a16"/>
<path d="M560 250 q40 20 90 -5 l5 25 q-50 20 -95 5Z" fill="#a07850"/>
<path d="M53 440 L520 470 L520 560 L60 600Z" fill="#b4b4b8"/>
<path d="M60 595 L520 545 L520 575 L65 620Z" fill="#6a4a50"/>
<path d="M75 615 L500 570 L500 980 L95 960Z" fill="#e6c6da"/>
<path d="M75 615 L300 770 L95 960Z" fill="#9db2da"/><path d="M500 640 L300 770 L500 900Z" fill="#a4b8dc"/>
<path d="M500 560 L520 555 L520 700 L440 980 L500 980Z" fill="#c8b0c0"/>
<path d="M140 395 h115 v55 q-55 15 -115 0Z" fill="#8c8c8c"/><ellipse cx="197" cy="392" rx="60" ry="10" fill="#b0b0b0"/>
<path d="M182 480 q40 -30 80 0 l-5 75 q-35 15 -70 0Z" fill="#a9c9a3"/><path d="M240 500 q35 -5 25 40" stroke="#88a888" stroke-width="8" fill="none"/>
<ellipse cx="400" cy="498" rx="125" ry="32" fill="#6e6a66"/><ellipse cx="400" cy="494" rx="110" ry="24" fill="#8a8682"/><ellipse cx="455" cy="478" rx="45" ry="20" fill="#d8d8dc"/>
<path d="M55 450 l110 10 l0 50 l-110 15Z" fill="#9a9aa0"/><path d="M55 525 l120 -15 l15 65 l-130 20Z" fill="#26262a"/><rect x="160" y="515" width="28" height="60" fill="#3080c0"/>
<path d="M70 545 l90 -12 l5 40 l-90 12Z" fill="#7a7a80"/>
<path d="M53 620 L95 615 L95 1117 L53 1117Z" fill="#3a3428"/>
<path d="M53 860 L160 1000 L150 1010 L53 890Z" fill="#8a6a40"/><path d="M53 930 L130 930 L140 1000 L53 1100Z" fill="#a08848"/>
<path d="M860 430 q100 -40 220 -20 q60 40 60 110 l-10 120 l-70 60 q-60 -10 -110 20 l-50 40 l-120 50 l-20 -120 q40 -150 100 -260Z" fill="#c5af75"/>
<path d="M980 690 q50 10 100 60 l-30 40 q-50 -40 -100 -50Z" fill="#a87850"/>
<path d="M1120 420 q20 -70 100 -70 q60 20 70 90 q-10 30 -40 60 q-20 -40 -60 -50 q-40 0 -70 -30Z" fill="#2a241e"/>
<path d="M1150 440 q60 -10 100 60 q-10 30 -40 30 q-50 -20 -60 -90Z" fill="#a97a52"/>
<path d="M1180 480 q20 10 30 30 M1215 470 q15 -5 30 5" stroke="#2a201a" stroke-width="7" fill="none"/>
<path d="M900 560 q60 40 100 130 q40 40 90 70 l-40 40 q-60 -40 -110 -60 q-50 -80 -40 -180Z" fill="#b9a46c"/>
<path d="M1230 520 q30 -60 80 -65 q60 5 85 60 l0 110 l-60 20 l-100 -30Z" fill="#a8917f"/>
<ellipse cx="1318" cy="405" rx="40" ry="50" fill="#a87858"/><path d="M1278 395 q5 -50 42 -48 q40 2 40 45 q-40 -25 -82 3Z" fill="#2a221c"/>
<path d="M1245 560 q50 40 110 10 l5 25 q-60 30 -120 -5Z" fill="#9a7a60"/>
<path d="M1395 330 q30 -40 60 -40 l0 300 l-45 0 q-20 -130 -15 -260Z" fill="#d9d1c0"/><ellipse cx="1440" cy="240" rx="20" ry="30" fill="#a07850"/><path d="M1420 215 q15 -15 35 -5 l0 15Z" fill="#eee"/>
<path d="M560 400 q60 -50 150 -30 l130 60 q50 60 30 170 q-40 60 -90 120 l-40 160 l-150 100 l-160 0 l10 -200 q40 -60 60 -200 q10 -120 60 -180Z" fill="#6f6647"/>
<path d="M660 620 q60 -30 110 10 q10 80 -50 150 q-60 10 -80 -50Z" fill="#4e4632"/>
<path d="M430 900 l60 40 l230 -10 l-10 60 l-240 90 l-40 -20Z" fill="#3a342a"/>
<path d="M720 400 q40 30 90 40 l40 -40 l-60 -80Z" fill="#a87850"/>
<path d="M705 300 q60 -50 150 -10 q20 60 -10 120 q-20 40 -60 35 q-60 -30 -80 -145Z" fill="#bb8c62"/>
<path d="M670 280 q-10 -110 100 -130 q110 10 150 130 q-40 20 -80 -5 q-60 -20 -100 30 q-10 40 -30 60 q-30 -30 -40 -85Z" fill="#27211c"/>
<path d="M760 345 q25 -12 50 -2 M830 340 q20 -8 35 2" stroke="#2a201a" stroke-width="9" fill="none"/>
<path d="M775 365 q15 6 30 0 M835 362 q12 5 24 0" stroke="#3a2a20" stroke-width="7" fill="none"/>
<path d="M822 370 q10 30 0 50 M790 440 q25 10 50 0" stroke="#8a5a3a" stroke-width="7" fill="none"/>
<path d="M705 300 q-15 40 5 90 q10 30 30 40 l-10 -120Z" fill="#a0744c"/>
<path d="M790 600 q50 -20 90 10 q10 150 -10 300 l-60 10 q-30 -160 -20 -320Z" fill="#b98a5e"/>
<path d="M790 900 q50 -30 100 0 q10 40 -30 60 q-50 0 -70 -60Z" fill="#a87850"/>
<path d="M800 560 q50 -10 80 40 l-10 50 q-50 -30 -90 -10Z" fill="#6f6647"/>
<path d="M460 1010 L950 740 L1452 850 L1452 1117 L560 1117Z" fill="#f1f1f3"/>
<path d="M1080 690 L1452 700 L1452 850 L1150 780Z" fill="#b53a3a"/>
<path d="M1452 1000 L1452 1117 L1380 1117Z" fill="#d04838"/>
<path d="M1280 1117 L1452 880" stroke="#8a8a88" stroke-width="5"/>
<path d="M1100 600 h120 v80 q-60 15 -120 0Z" fill="#a4a4a4"/><ellipse cx="1160" cy="600" rx="62" ry="14" fill="#c8c8c8"/>
<ellipse cx="1318" cy="668" rx="100" ry="38" fill="#e88c90"/><ellipse cx="1318" cy="660" rx="85" ry="26" fill="#f8e0e0"/><path d="M1225 680 q90 50 185 0 l-10 20 q-80 30 -165 0Z" fill="#f0c8c8"/>
<path d="M1078 695 q42 -18 84 0 q-5 40 -42 45 q-37 -5 -42 -45Z" fill="#e6e6e6"/><ellipse cx="1120" cy="695" rx="42" ry="12" fill="#f8f8f8" stroke="#aaa" stroke-width="3"/><circle cx="1120" cy="695" r="8" fill="#588040"/>
<path d="M1166 712 q42 -18 84 0 q-5 40 -42 45 q-37 -5 -42 -45Z" fill="#e6e6e6"/><ellipse cx="1208" cy="712" rx="42" ry="12" fill="#f8f8f8" stroke="#aaa" stroke-width="3"/><circle cx="1208" cy="712" r="8" fill="#588040"/>
<path d="M1258 725 q42 -18 84 0 q-5 40 -42 45 q-37 -5 -42 -45Z" fill="#e6e6e6"/><ellipse cx="1300" cy="725" rx="42" ry="12" fill="#f8f8f8" stroke="#aaa" stroke-width="3"/><circle cx="1300" cy="725" r="8" fill="#588040"/>
<path d="M1355 720 q50 -25 100 -10 l0 110 q-60 0 -100 -30Z" fill="#84796a"/><ellipse cx="1410" cy="715" rx="55" ry="16" fill="#a09888"/>
<ellipse cx="1382" cy="848" rx="62" ry="28" fill="#f4f0ec" stroke="#b08850" stroke-width="4"/><ellipse cx="1382" cy="850" rx="30" ry="12" fill="#d04030"/><path d="M1322 853 q60 50 120 0" fill="#e8e4e0"/>
<ellipse cx="1340" cy="898" rx="62" ry="28" fill="#f4f0ec" stroke="#b08850" stroke-width="4"/><ellipse cx="1340" cy="900" rx="30" ry="12" fill="#d04030"/><path d="M1280 903 q60 50 120 0" fill="#e8e4e0"/>
<ellipse cx="1272" cy="945" rx="62" ry="28" fill="#f4f0ec" stroke="#b08850" stroke-width="4"/><ellipse cx="1272" cy="947" rx="30" ry="12" fill="#d04030"/><path d="M1212 950 q60 50 120 0" fill="#e8e4e0"/>
<path d="M1140 945 l80 -10 l20 20 l-60 15Z" fill="#207848"/>
<ellipse cx="1042" cy="835" rx="138" ry="62" fill="#3a2c22"/><ellipse cx="1042" cy="818" rx="130" ry="52" fill="#2c2826"/><ellipse cx="1045" cy="822" rx="105" ry="38" fill="#8a8c90"/><path d="M910 840 q130 90 265 0" stroke="#8a5424" stroke-width="14" fill="none"/>
<path d="M960 900 q120 50 280 -20 l40 30 q-150 70 -330 20Z" fill="#e8ecf0"/>
<path d="M1000 780 q40 20 80 60 l-30 20 q-40 -40 -80 -50Z" fill="#9a6e4a"/><ellipse cx="975" cy="828" rx="14" ry="18" fill="#1a1a1a"/>
<ellipse cx="790" cy="1010" rx="185" ry="95" fill="#352e2a"/><ellipse cx="790" cy="995" rx="175" ry="82" fill="#3a3632"/><ellipse cx="790" cy="1000" rx="150" ry="65" fill="#70726f"/><ellipse cx="800" cy="1015" rx="100" ry="35" fill="#b8babc"/>
<path d="M610 1040 q40 60 120 77 l-140 0Z" fill="#c8c8c8"/><path d="M930 1040 q40 20 60 77 l-120 0 q40 -30 60 -77Z" fill="#d8d8d8"/>
<path d="M640 940 q120 60 240 130 q10 30 -30 35 q-120 -30 -220 -110Z" fill="#b47c52"/>
<path d="M780 900 q60 -10 110 10 q10 30 -20 55 q-40 15 -80 -15Z" fill="#a87850"/>
<ellipse cx="330" cy="1060" rx="215" ry="80" fill="#3c3c3e"/><ellipse cx="200" cy="1040" rx="80" ry="55" fill="#a8a8a8"/><ellipse cx="200" cy="1045" rx="65" ry="42" fill="#d09070"/>
<path d="M53 1117 L120 1060 L240 1117Z" fill="#606060"/>
<path d="M328 893 h64 l-10 50 h-44Z" fill="#f088a8"/><ellipse cx="360" cy="893" rx="32" ry="10" fill="#fff4f0" opacity="0.7"/>
<path d="M338 938 h64 l-10 50 h-44Z" fill="#f0d8a0"/><ellipse cx="370" cy="938" rx="32" ry="10" fill="#fff4f0" opacity="0.7"/>
<path d="M343 988 h64 l-10 50 h-44Z" fill="#f0e0a0"/><ellipse cx="375" cy="988" rx="32" ry="10" fill="#fff4f0" opacity="0.7"/>
<path d="M353 1038 h64 l-10 50 h-44Z" fill="#f4e8b0"/><ellipse cx="385" cy="1038" rx="32" ry="10" fill="#fff4f0" opacity="0.7"/>
<path d="M248 953 h64 l-10 50 h-44Z" fill="#f4a0b0"/><ellipse cx="280" cy="953" rx="32" ry="10" fill="#fff4f0" opacity="0.7"/>
<path d="M253 998 h64 l-10 50 h-44Z" fill="#f890b0"/><ellipse cx="285" cy="998" rx="32" ry="10" fill="#fff4f0" opacity="0.7"/>
<path d="M248 1048 h64 l-10 50 h-44Z" fill="#f4e8b0"/><ellipse cx="280" cy="1048" rx="32" ry="10" fill="#fff4f0" opacity="0.7"/>
<path d="M263 1078 h64 l-10 50 h-44Z" fill="#f070a0"/><ellipse cx="295" cy="1078" rx="32" ry="10" fill="#fff4f0" opacity="0.7"/>
<path d="M308 1018 h64 l-10 50 h-44Z" fill="#f0e4a8"/><ellipse cx="340" cy="1018" rx="32" ry="10" fill="#fff4f0" opacity="0.7"/>
<path d="M413 998 h64 l-10 50 h-44Z" fill="#f4e090"/><ellipse cx="445" cy="998" rx="32" ry="10" fill="#fff4f0" opacity="0.7"/>
<path d="M418 1043 h64 l-10 50 h-44Z" fill="#f0d888"/><ellipse cx="450" cy="1043" rx="32" ry="10" fill="#fff4f0" opacity="0.7"/>
<path d="M378 1078 h64 l-10 50 h-44Z" fill="#f060a0"/><ellipse cx="410" cy="1078" rx="32" ry="10" fill="#fff4f0" opacity="0.7"/>
<path d="M448 1078 h64 l-10 50 h-44Z" fill="#f0e080"/><ellipse cx="480" cy="1078" rx="32" ry="10" fill="#fff4f0" opacity="0.7"/>
<path d="M538 1078 h64 l-10 50 h-44Z" fill="#f4e8b8"/><ellipse cx="570" cy="1078" rx="32" ry="10" fill="#fff4f0" opacity="0.7"/>
</g>
<g filter="url(#fB3)" opacity="0.5"><ellipse cx="300" cy="250" rx="250" ry="150" fill="#2a241c" opacity="0.35"/><ellipse cx="1100" cy="1000" rx="250" ry="80" fill="#ffffff"/></g>
</g>
<defs>
<clipPath id="cpC"><rect x="80" y="72" width="767" height="1150"/></clipPath>
<clipPath id="cpS"><rect x="907" y="72" width="913" height="1150"/></clipPath>
<linearGradient id="gCroc" x1="0" y1="0" x2="0.3" y2="1"><stop offset="0" stop-color="#bcc0c2"/><stop offset="0.35" stop-color="#9ca0a6"/><stop offset="0.65" stop-color="#777b7f"/><stop offset="1" stop-color="#48483f"/></linearGradient>
<linearGradient id="gBump" x1="0" y1="0" x2="1" y2="0.3"><stop offset="0" stop-color="#dedac8"/><stop offset="0.45" stop-color="#98988e"/><stop offset="1" stop-color="#2e2e2c"/></linearGradient>
<linearGradient id="gTan" x1="0" y1="0" x2="0.2" y2="1"><stop offset="0" stop-color="#e6d0ac"/><stop offset="0.55" stop-color="#d6b07a"/><stop offset="1" stop-color="#bf8e50"/></linearGradient>
<linearGradient id="gCream" x1="0" y1="0" x2="0.2" y2="1"><stop offset="0" stop-color="#f1e9dc"/><stop offset="1" stop-color="#e6d6bc"/></linearGradient>
<filter id="fC1" x="-30%" y="-30%" width="160%" height="160%"><feGaussianBlur stdDeviation="5"/></filter>
<filter id="fC2" x="-30%" y="-30%" width="160%" height="160%"><feGaussianBlur stdDeviation="12"/></filter>
<filter id="fC0" x="-30%" y="-30%" width="160%" height="160%"><feGaussianBlur stdDeviation="2.5"/></filter>
<filter id="fNoiseC" x="0" y="0" width="100%" height="100%"><feTurbulence type="fractalNoise" baseFrequency="0.12" numOctaves="3" seed="9"/><feColorMatrix type="matrix" values="0 0 0 0 0.1  0 0 0 0 0.1  0 0 0 0 0.08  1.2 1.2 0 0 -0.85"/></filter>
<filter id="fNoiseS" x="0" y="0" width="100%" height="100%"><feTurbulence type="fractalNoise" baseFrequency="0.05" numOctaves="3" seed="2"/><feColorMatrix type="matrix" values="0 0 0 0 0.5  0 0 0 0 0.3  0 0 0 0 0.1  1.1 1.1 0 0 -0.95"/></filter>
</defs>
<g transform="translate(1700,490) scale(0.23111)">
<g clip-path="url(#cpC)">
<rect x="80" y="72" width="767" height="1150" fill="url(#gCroc)"/>
<g filter="url(#fC2)"><path d="M600 60 L860 60 L860 230 Q720 180 600 60Z" fill="#9a8848"/><ellipse cx="790" cy="105" rx="60" ry="40" fill="#b89a48"/><ellipse cx="560" cy="110" rx="40" ry="40" fill="#d0d0b8"/></g>
<ellipse cx="329" cy="711" rx="38" ry="24" fill="#54565a" stroke="#6a5a30" stroke-width="4" opacity="0.9"/>
<ellipse cx="712" cy="676" rx="35" ry="22" fill="#6a6e74" stroke="#6a5a30" stroke-width="4" opacity="0.9"/>
<ellipse cx="245" cy="672" rx="30" ry="19" fill="#4a4c4e" stroke="#6a5a30" stroke-width="4" opacity="0.9"/>
<ellipse cx="150" cy="875" rx="52" ry="32" fill="#54565a" stroke="#6a5a30" stroke-width="4" opacity="0.9"/>
<ellipse cx="810" cy="998" rx="49" ry="30" fill="#54565a" stroke="#6a5a30" stroke-width="4" opacity="0.9"/>
<ellipse cx="524" cy="858" rx="56" ry="35" fill="#54565a" stroke="#6a5a30" stroke-width="4" opacity="0.9"/>
<ellipse cx="509" cy="700" rx="31" ry="19" fill="#6a6e74" stroke="#6a5a30" stroke-width="4" opacity="0.9"/>
<ellipse cx="171" cy="805" rx="48" ry="30" fill="#4a4c4e" stroke="#6a5a30" stroke-width="4" opacity="0.9"/>
<ellipse cx="159" cy="963" rx="32" ry="20" fill="#54565a" stroke="#6a5a30" stroke-width="4" opacity="0.9"/>
<ellipse cx="502" cy="658" rx="20" ry="12" fill="#4a4c4e" stroke="#6a5a30" stroke-width="4" opacity="0.9"/>
<ellipse cx="462" cy="939" rx="54" ry="33" fill="#3e403e" stroke="#6a5a30" stroke-width="4" opacity="0.9"/>
<ellipse cx="531" cy="892" rx="34" ry="21" fill="#4a4c4e" stroke="#6a5a30" stroke-width="4" opacity="0.9"/>
<ellipse cx="618" cy="766" rx="39" ry="24" fill="#6a6e74" stroke="#6a5a30" stroke-width="4" opacity="0.9"/>
<ellipse cx="461" cy="826" rx="37" ry="23" fill="#6a6e74" stroke="#6a5a30" stroke-width="4" opacity="0.9"/>
<ellipse cx="835" cy="691" rx="31" ry="19" fill="#606468" stroke="#6a5a30" stroke-width="4" opacity="0.9"/>
<ellipse cx="197" cy="913" rx="26" ry="16" fill="#54565a" stroke="#6a5a30" stroke-width="4" opacity="0.9"/>
<ellipse cx="669" cy="964" rx="58" ry="36" fill="#606468" stroke="#6a5a30" stroke-width="4" opacity="0.9"/>
<ellipse cx="342" cy="830" rx="39" ry="24" fill="#3e403e" stroke="#6a5a30" stroke-width="4" opacity="0.9"/>
<ellipse cx="133" cy="676" rx="26" ry="16" fill="#54565a" stroke="#6a5a30" stroke-width="4" opacity="0.9"/>
<ellipse cx="127" cy="1041" rx="53" ry="33" fill="#3e403e" stroke="#6a5a30" stroke-width="4" opacity="0.9"/>
<ellipse cx="299" cy="851" rx="45" ry="28" fill="#54565a" stroke="#6a5a30" stroke-width="4" opacity="0.9"/>
<ellipse cx="804" cy="833" rx="43" ry="26" fill="#3e403e" stroke="#6a5a30" stroke-width="4" opacity="0.9"/>
<ellipse cx="125" cy="1081" rx="33" ry="21" fill="#4a4c4e" stroke="#6a5a30" stroke-width="4" opacity="0.9"/>
<ellipse cx="386" cy="1170" rx="53" ry="33" fill="#4a4c4e" stroke="#6a5a30" stroke-width="4" opacity="0.9"/>
<ellipse cx="426" cy="950" rx="58" ry="36" fill="#3e403e" stroke="#6a5a30" stroke-width="4" opacity="0.9"/>
<ellipse cx="745" cy="787" rx="34" ry="21" fill="#606468" stroke="#6a5a30" stroke-width="4" opacity="0.9"/>
<ellipse cx="606" cy="848" rx="30" ry="19" fill="#54565a" stroke="#6a5a30" stroke-width="4" opacity="0.9"/>
<ellipse cx="216" cy="759" rx="28" ry="17" fill="#3e403e" stroke="#6a5a30" stroke-width="4" opacity="0.9"/>
<ellipse cx="720" cy="729" rx="28" ry="17" fill="#4a4c4e" stroke="#6a5a30" stroke-width="4" opacity="0.9"/>
<ellipse cx="403" cy="842" rx="41" ry="26" fill="#4a4c4e" stroke="#6a5a30" stroke-width="4" opacity="0.9"/>
<ellipse cx="612" cy="929" rx="47" ry="29" fill="#54565a" stroke="#6a5a30" stroke-width="4" opacity="0.9"/>
<ellipse cx="432" cy="1143" rx="72" ry="44" fill="#6a6e74" stroke="#6a5a30" stroke-width="4" opacity="0.9"/>
<ellipse cx="382" cy="859" rx="26" ry="16" fill="#3e403e" stroke="#6a5a30" stroke-width="4" opacity="0.9"/>
<ellipse cx="128" cy="660" rx="24" ry="15" fill="#4a4c4e" stroke="#6a5a30" stroke-width="4" opacity="0.9"/>
<ellipse cx="165" cy="980" rx="30" ry="18" fill="#6a6e74" stroke="#6a5a30" stroke-width="4" opacity="0.9"/>
<ellipse cx="196" cy="681" rx="29" ry="18" fill="#54565a" stroke="#6a5a30" stroke-width="4" opacity="0.9"/>
<ellipse cx="134" cy="745" rx="32" ry="20" fill="#606468" stroke="#6a5a30" stroke-width="4" opacity="0.9"/>
<ellipse cx="816" cy="981" rx="44" ry="27" fill="#54565a" stroke="#6a5a30" stroke-width="4" opacity="0.9"/>
<ellipse cx="734" cy="1216" rx="53" ry="33" fill="#3e403e" stroke="#6a5a30" stroke-width="4" opacity="0.9"/>
<ellipse cx="320" cy="706" rx="41" ry="25" fill="#606468" stroke="#6a5a30" stroke-width="4" opacity="0.9"/>
<ellipse cx="449" cy="1035" rx="48" ry="30" fill="#4a4c4e" stroke="#6a5a30" stroke-width="4" opacity="0.9"/>
<ellipse cx="812" cy="937" rx="30" ry="19" fill="#6a6e74" stroke="#6a5a30" stroke-width="4" opacity="0.9"/>
<ellipse cx="784" cy="1075" rx="40" ry="25" fill="#54565a" stroke="#6a5a30" stroke-width="4" opacity="0.9"/>
<ellipse cx="616" cy="777" rx="32" ry="20" fill="#4a4c4e" stroke="#6a5a30" stroke-width="4" opacity="0.9"/>
<ellipse cx="354" cy="754" rx="37" ry="23" fill="#6a6e74" stroke="#6a5a30" stroke-width="4" opacity="0.9"/>
<ellipse cx="334" cy="754" rx="45" ry="28" fill="#4a4c4e" stroke="#6a5a30" stroke-width="4" opacity="0.9"/>
<ellipse cx="701" cy="1111" rx="61" ry="38" fill="#4a4c4e" stroke="#6a5a30" stroke-width="4" opacity="0.9"/>
<ellipse cx="234" cy="916" rx="51" ry="31" fill="#54565a" stroke="#6a5a30" stroke-width="4" opacity="0.9"/>
<ellipse cx="688" cy="903" rx="31" ry="19" fill="#6a6e74" stroke="#6a5a30" stroke-width="4" opacity="0.9"/>
<ellipse cx="817" cy="888" rx="57" ry="35" fill="#606468" stroke="#6a5a30" stroke-width="4" opacity="0.9"/>
<ellipse cx="815" cy="839" rx="30" ry="18" fill="#4a4c4e" stroke="#6a5a30" stroke-width="4" opacity="0.9"/>
<ellipse cx="442" cy="823" rx="38" ry="24" fill="#6a6e74" stroke="#6a5a30" stroke-width="4" opacity="0.9"/>
<ellipse cx="727" cy="908" rx="47" ry="29" fill="#54565a" stroke="#6a5a30" stroke-width="4" opacity="0.9"/>
<ellipse cx="723" cy="692" rx="30" ry="19" fill="#4a4c4e" stroke="#6a5a30" stroke-width="4" opacity="0.9"/>
<ellipse cx="448" cy="727" rx="43" ry="27" fill="#606468" stroke="#6a5a30" stroke-width="4" opacity="0.9"/>
<ellipse cx="147" cy="1188" rx="64" ry="39" fill="#3e403e" stroke="#6a5a30" stroke-width="4" opacity="0.9"/>
<ellipse cx="389" cy="1188" rx="64" ry="39" fill="#4a4c4e" stroke="#6a5a30" stroke-width="4" opacity="0.9"/>
<ellipse cx="845" cy="637" rx="33" ry="21" fill="#3e403e" stroke="#6a5a30" stroke-width="4" opacity="0.9"/>
<ellipse cx="701" cy="708" rx="43" ry="27" fill="#3e403e" stroke="#6a5a30" stroke-width="4" opacity="0.9"/>
<ellipse cx="586" cy="830" rx="40" ry="25" fill="#4a4c4e" stroke="#6a5a30" stroke-width="4" opacity="0.9"/>
<ellipse cx="96" cy="1100" rx="59" ry="37" fill="#54565a" stroke="#6a5a30" stroke-width="4" opacity="0.9"/>
<ellipse cx="485" cy="1180" rx="50" ry="31" fill="#4a4c4e" stroke="#6a5a30" stroke-width="4" opacity="0.9"/>
<ellipse cx="716" cy="747" rx="28" ry="17" fill="#606468" stroke="#6a5a30" stroke-width="4" opacity="0.9"/>
<ellipse cx="466" cy="1078" rx="42" ry="26" fill="#6a6e74" stroke="#6a5a30" stroke-width="4" opacity="0.9"/>
<ellipse cx="403" cy="699" rx="45" ry="28" fill="#606468" stroke="#6a5a30" stroke-width="4" opacity="0.9"/>
<ellipse cx="771" cy="1017" rx="59" ry="37" fill="#6a6e74" stroke="#6a5a30" stroke-width="4" opacity="0.9"/>
<ellipse cx="404" cy="1171" rx="53" ry="33" fill="#6a6e74" stroke="#6a5a30" stroke-width="4" opacity="0.9"/>
<ellipse cx="197" cy="926" rx="56" ry="35" fill="#4a4c4e" stroke="#6a5a30" stroke-width="4" opacity="0.9"/>
<ellipse cx="549" cy="1086" rx="34" ry="21" fill="#4a4c4e" stroke="#6a5a30" stroke-width="4" opacity="0.9"/>
<ellipse cx="445" cy="1055" rx="50" ry="31" fill="#606468" stroke="#6a5a30" stroke-width="4" opacity="0.9"/>
<ellipse cx="605" cy="512" rx="59" ry="27" fill="none" stroke="#4a4c50" stroke-width="3" opacity="0.5"/>
<ellipse cx="678" cy="653" rx="42" ry="19" fill="none" stroke="#4a4c50" stroke-width="3" opacity="0.5"/>
<ellipse cx="227" cy="317" rx="44" ry="20" fill="none" stroke="#4a4c50" stroke-width="3" opacity="0.5"/>
<ellipse cx="428" cy="311" rx="76" ry="34" fill="none" stroke="#4a4c50" stroke-width="3" opacity="0.5"/>
<ellipse cx="129" cy="430" rx="79" ry="36" fill="none" stroke="#4a4c50" stroke-width="3" opacity="0.5"/>
<ellipse cx="547" cy="380" rx="51" ry="23" fill="none" stroke="#4a4c50" stroke-width="3" opacity="0.5"/>
<ellipse cx="471" cy="623" rx="60" ry="27" fill="none" stroke="#4a4c50" stroke-width="3" opacity="0.5"/>
<ellipse cx="271" cy="509" rx="75" ry="34" fill="none" stroke="#4a4c50" stroke-width="3" opacity="0.5"/>
<ellipse cx="794" cy="669" rx="76" ry="34" fill="none" stroke="#4a4c50" stroke-width="3" opacity="0.5"/>
<ellipse cx="236" cy="479" rx="57" ry="25" fill="none" stroke="#4a4c50" stroke-width="3" opacity="0.5"/>
<ellipse cx="382" cy="426" rx="67" ry="30" fill="none" stroke="#4a4c50" stroke-width="3" opacity="0.5"/>
<ellipse cx="410" cy="385" rx="52" ry="23" fill="none" stroke="#4a4c50" stroke-width="3" opacity="0.5"/>
<ellipse cx="174" cy="611" rx="78" ry="35" fill="none" stroke="#4a4c50" stroke-width="3" opacity="0.5"/>
<ellipse cx="575" cy="446" rx="50" ry="23" fill="none" stroke="#4a4c50" stroke-width="3" opacity="0.5"/>
<ellipse cx="186" cy="487" rx="70" ry="31" fill="none" stroke="#4a4c50" stroke-width="3" opacity="0.5"/>
<ellipse cx="152" cy="654" rx="47" ry="21" fill="none" stroke="#4a4c50" stroke-width="3" opacity="0.5"/>
<ellipse cx="594" cy="389" rx="68" ry="31" fill="none" stroke="#4a4c50" stroke-width="3" opacity="0.5"/>
<ellipse cx="845" cy="462" rx="57" ry="26" fill="none" stroke="#4a4c50" stroke-width="3" opacity="0.5"/>
<ellipse cx="355" cy="337" rx="55" ry="25" fill="none" stroke="#4a4c50" stroke-width="3" opacity="0.5"/>
<ellipse cx="340" cy="483" rx="68" ry="31" fill="none" stroke="#4a4c50" stroke-width="3" opacity="0.5"/>
<ellipse cx="376" cy="507" rx="52" ry="23" fill="none" stroke="#4a4c50" stroke-width="3" opacity="0.5"/>
<ellipse cx="820" cy="345" rx="77" ry="35" fill="none" stroke="#4a4c50" stroke-width="3" opacity="0.5"/>
<ellipse cx="256" cy="651" rx="43" ry="20" fill="none" stroke="#4a4c50" stroke-width="3" opacity="0.5"/>
<ellipse cx="289" cy="662" rx="47" ry="21" fill="none" stroke="#4a4c50" stroke-width="3" opacity="0.5"/>
<ellipse cx="662" cy="628" rx="74" ry="33" fill="none" stroke="#4a4c50" stroke-width="3" opacity="0.5"/>
<ellipse cx="600" cy="678" rx="56" ry="25" fill="none" stroke="#4a4c50" stroke-width="3" opacity="0.5"/>
<ellipse cx="493" cy="506" rx="60" ry="27" fill="none" stroke="#4a4c50" stroke-width="3" opacity="0.5"/>
<ellipse cx="332" cy="412" rx="72" ry="32" fill="none" stroke="#4a4c50" stroke-width="3" opacity="0.5"/>
<ellipse cx="221" cy="658" rx="51" ry="23" fill="none" stroke="#4a4c50" stroke-width="3" opacity="0.5"/>
<ellipse cx="93" cy="335" rx="50" ry="23" fill="none" stroke="#4a4c50" stroke-width="3" opacity="0.5"/>
<ellipse cx="548" cy="389" rx="51" ry="23" fill="none" stroke="#4a4c50" stroke-width="3" opacity="0.5"/>
<ellipse cx="174" cy="305" rx="80" ry="36" fill="none" stroke="#4a4c50" stroke-width="3" opacity="0.5"/>
<ellipse cx="402" cy="666" rx="65" ry="29" fill="none" stroke="#4a4c50" stroke-width="3" opacity="0.5"/>
<ellipse cx="113" cy="584" rx="78" ry="35" fill="none" stroke="#4a4c50" stroke-width="3" opacity="0.5"/>
<ellipse cx="826" cy="405" rx="47" ry="21" fill="none" stroke="#4a4c50" stroke-width="3" opacity="0.5"/>
<ellipse cx="798" cy="551" rx="61" ry="28" fill="none" stroke="#4a4c50" stroke-width="3" opacity="0.5"/>
<ellipse cx="239" cy="478" rx="67" ry="30" fill="none" stroke="#4a4c50" stroke-width="3" opacity="0.5"/>
<ellipse cx="288" cy="621" rx="80" ry="36" fill="none" stroke="#4a4c50" stroke-width="3" opacity="0.5"/>
<ellipse cx="108" cy="307" rx="60" ry="27" fill="none" stroke="#4a4c50" stroke-width="3" opacity="0.5"/>
<ellipse cx="833" cy="506" rx="50" ry="22" fill="none" stroke="#4a4c50" stroke-width="3" opacity="0.5"/>
<g filter="url(#fC0)">
<path d="M134 196 Q148 140 173 134 Q206 156 220 201 Q175 214 134 196Z" fill="url(#gBump)" opacity="0.95"/>
<path d="M244 246 Q258 190 283 184 Q316 206 330 251 Q285 264 244 246Z" fill="url(#gBump)" opacity="0.95"/>
<path d="M362 289 Q376 229 403 221 Q439 245 453 293 Q405 308 362 289Z" fill="url(#gBump)" opacity="0.95"/>
<path d="M470 325 Q485 262 512 255 Q550 280 565 330 Q515 345 470 325Z" fill="url(#gBump)" opacity="0.95"/>
<path d="M608 376 Q624 311 652 304 Q691 330 707 382 Q655 397 608 376Z" fill="url(#gBump)" opacity="0.95"/>
<path d="M740 454 Q757 385 787 376 Q828 404 845 459 Q790 476 740 454Z" fill="url(#gBump)" opacity="0.95"/>
<path d="M514 154 Q524 111 543 106 Q570 123 580 158 Q545 168 514 154Z" fill="url(#gBump)" opacity="0.6"/>
<path d="M568 134 Q579 91 598 86 Q624 103 635 138 Q600 148 568 134Z" fill="url(#gBump)" opacity="0.6"/>
<path d="M616 197 Q627 149 648 143 Q677 162 688 200 Q650 212 616 197Z" fill="url(#gBump)" opacity="0.6"/>
<path d="M666 177 Q677 129 698 123 Q727 142 738 180 Q700 192 666 177Z" fill="url(#gBump)" opacity="0.6"/>
<path d="M724 228 Q736 178 758 172 Q788 192 800 232 Q760 244 724 228Z" fill="url(#gBump)" opacity="0.6"/>
<path d="M64 360 Q74 316 93 310 Q120 328 130 363 Q95 374 64 360Z" fill="url(#gBump)" opacity="0.95"/>
<path d="M120 402 Q133 345 158 338 Q192 361 205 406 Q160 420 120 402Z" fill="url(#gBump)" opacity="0.95"/>
<path d="M227 429 Q241 369 268 361 Q304 385 318 433 Q270 448 227 429Z" fill="url(#gBump)" opacity="0.95"/>
<path d="M350 470 Q365 408 392 400 Q430 425 445 475 Q395 490 350 470Z" fill="url(#gBump)" opacity="0.95"/>
<path d="M450 528 Q467 460 497 452 Q538 479 555 534 Q500 550 450 528Z" fill="url(#gBump)" opacity="0.95"/>
<path d="M581 597 Q599 522 632 513 Q677 543 695 603 Q635 621 581 597Z" fill="url(#gBump)" opacity="0.95"/>
<path d="M746 682 Q764 607 797 598 Q842 628 860 688 Q800 706 746 682Z" fill="url(#gBump)" opacity="0.95"/>
<path d="M160 546 Q173 490 198 484 Q232 506 245 551 Q200 564 160 546Z" fill="url(#gBump)" opacity="0.95"/>
<path d="M224 602 Q238 545 263 538 Q296 561 310 606 Q265 620 224 602Z" fill="url(#gBump)" opacity="0.95"/>
<path d="M345 675 Q360 612 388 605 Q425 630 440 680 Q390 695 345 675Z" fill="url(#gBump)" opacity="0.95"/>
<path d="M512 776 Q531 694 567 684 Q616 717 635 782 Q570 802 512 776Z" fill="url(#gBump)" opacity="0.95"/>
<path d="M785 835 Q800 772 828 765 Q865 790 880 840 Q830 855 785 835Z" fill="url(#gBump)" opacity="0.95"/>
<path d="M312 886 Q331 804 367 794 Q416 827 435 892 Q370 912 312 886Z" fill="url(#gBump)" opacity="0.95"/>
<path d="M554 1006 Q583 888 635 874 Q706 921 735 1016 Q640 1044 554 1006Z" fill="url(#gBump)" opacity="0.95"/>
<path d="M728 1116 Q752 1016 796 1004 Q856 1044 880 1124 Q800 1148 728 1116Z" fill="url(#gBump)" opacity="0.95"/>
<path d="M114 828 Q126 778 148 772 Q178 792 190 832 Q150 844 114 828Z" fill="url(#gBump)" opacity="0.95"/>
</g>
<rect x="80" y="72" width="767" height="1150" filter="url(#fNoiseC)" opacity="0.4"/>
<g filter="url(#fC2)"><rect x="80" y="1000" width="767" height="230" fill="#2e2c24" opacity="0.45"/></g>
</g>
<g clip-path="url(#cpS)">
<rect x="907" y="72" width="913" height="1150" fill="#f3eee6"/>
<path d="M935 204 Q969 196 1003 204 Q1042 244 1046 294 Q1046 328 1012 392 Q969 410 938 396 Q899 344 892 294 Q896 240 935 204Z" fill="#8a5e2a" opacity="0.8"/>
<path d="M932 190 Q965 182 998 190 Q1037 230 1040 280 Q1040 314 1007 378 Q965 396 935 382 Q896 330 890 280 Q893 226 932 190Z" fill="url(#gTan)" stroke="#8a5c24" stroke-width="3"/>
<path d="M1057 86 Q1099 79 1141 86 Q1190 124 1193 170 Q1193 201 1152 260 Q1099 277 1061 264 Q1012 216 1005 170 Q1008 120 1057 86Z" fill="#8a5e2a" opacity="0.8"/>
<path d="M1054 72 Q1095 65 1136 72 Q1184 110 1188 156 Q1188 187 1147 246 Q1095 263 1058 250 Q1010 202 1002 156 Q1006 106 1054 72Z" fill="url(#gTan)" stroke="#8a5c24" stroke-width="3"/>
<path d="M1212 192 Q1249 184 1286 192 Q1330 228 1333 275 Q1333 306 1296 365 Q1249 382 1215 369 Q1172 321 1165 275 Q1168 225 1212 192Z" fill="#8a5e2a" opacity="0.8"/>
<path d="M1209 178 Q1245 170 1281 178 Q1324 214 1328 261 Q1328 292 1291 351 Q1245 368 1212 355 Q1169 307 1162 261 Q1166 211 1209 178Z" fill="url(#gTan)" stroke="#8a5c24" stroke-width="3"/>
<path d="M1332 79 Q1369 73 1406 79 Q1450 109 1453 146 Q1453 172 1416 220 Q1369 234 1335 223 Q1292 184 1285 146 Q1288 106 1332 79Z" fill="#8a5e2a" opacity="0.8"/>
<path d="M1329 65 Q1365 59 1401 65 Q1444 95 1448 132 Q1448 158 1411 206 Q1365 220 1332 209 Q1289 170 1282 132 Q1286 92 1329 65Z" fill="url(#gTan)" stroke="#8a5c24" stroke-width="3"/>
<path d="M1468 179 Q1504 172 1540 179 Q1582 213 1586 256 Q1586 284 1550 339 Q1504 354 1471 342 Q1429 298 1422 256 Q1426 210 1468 179Z" fill="#8a5e2a" opacity="0.8"/>
<path d="M1465 165 Q1500 158 1535 165 Q1577 199 1580 242 Q1580 270 1545 325 Q1500 340 1468 328 Q1426 284 1420 242 Q1423 196 1465 165Z" fill="url(#gTan)" stroke="#8a5c24" stroke-width="3"/>
<path d="M1584 84 Q1624 78 1664 84 Q1712 116 1716 156 Q1716 183 1675 234 Q1624 249 1587 238 Q1540 196 1532 156 Q1536 113 1584 84Z" fill="#8a5e2a" opacity="0.8"/>
<path d="M1580 70 Q1620 64 1660 70 Q1706 102 1710 142 Q1710 169 1670 220 Q1620 235 1584 224 Q1537 182 1530 142 Q1534 99 1580 70Z" fill="url(#gTan)" stroke="#8a5c24" stroke-width="3"/>
<path d="M1720 184 Q1754 177 1788 184 Q1827 220 1830 265 Q1830 296 1797 353 Q1754 369 1723 357 Q1684 310 1678 265 Q1681 216 1720 184Z" fill="#8a5e2a" opacity="0.8"/>
<path d="M1717 170 Q1750 163 1783 170 Q1822 206 1825 251 Q1825 282 1792 339 Q1750 355 1720 343 Q1681 296 1675 251 Q1678 202 1717 170Z" fill="url(#gTan)" stroke="#8a5c24" stroke-width="3"/>
<path d="M1086 342 Q1129 334 1172 342 Q1222 378 1226 425 Q1226 456 1183 515 Q1129 532 1090 519 Q1040 471 1032 425 Q1036 375 1086 342Z" fill="#8a5e2a" opacity="0.8"/>
<path d="M1083 328 Q1125 320 1167 328 Q1216 364 1220 411 Q1220 442 1178 501 Q1125 518 1087 505 Q1038 457 1030 411 Q1034 361 1083 328Z" fill="url(#gTan)" stroke="#8a5c24" stroke-width="3"/>
<path d="M1355 304 Q1389 297 1423 304 Q1462 340 1466 385 Q1466 416 1432 473 Q1389 489 1358 477 Q1319 430 1312 385 Q1316 336 1355 304Z" fill="#8a5e2a" opacity="0.8"/>
<path d="M1352 290 Q1385 283 1418 290 Q1457 326 1460 371 Q1460 402 1427 459 Q1385 475 1355 463 Q1316 416 1310 371 Q1313 322 1352 290Z" fill="url(#gTan)" stroke="#8a5c24" stroke-width="3"/>
<path d="M1593 304 Q1629 297 1665 304 Q1707 340 1711 385 Q1711 416 1675 473 Q1629 489 1596 477 Q1554 430 1547 385 Q1551 336 1593 304Z" fill="#8a5e2a" opacity="0.8"/>
<path d="M1590 290 Q1625 283 1660 290 Q1702 326 1705 371 Q1705 402 1670 459 Q1625 475 1593 463 Q1551 416 1545 371 Q1548 322 1590 290Z" fill="url(#gTan)" stroke="#8a5c24" stroke-width="3"/>
<path d="M960 449 Q994 441 1028 449 Q1067 491 1070 544 Q1070 579 1037 646 Q994 665 963 651 Q924 596 918 544 Q921 487 960 449Z" fill="#8a5e2a" opacity="0.8"/>
<path d="M957 435 Q990 427 1023 435 Q1062 477 1065 530 Q1065 565 1032 632 Q990 651 960 637 Q921 582 915 530 Q918 473 957 435Z" fill="url(#gTan)" stroke="#8a5c24" stroke-width="3"/>
<path d="M1249 446 Q1289 438 1329 446 Q1377 490 1381 543 Q1381 580 1340 649 Q1289 668 1252 653 Q1205 597 1197 543 Q1201 485 1249 446Z" fill="#8a5e2a" opacity="0.8"/>
<path d="M1245 432 Q1285 424 1325 432 Q1371 476 1375 529 Q1375 566 1335 635 Q1285 654 1249 639 Q1202 583 1195 529 Q1199 471 1245 432Z" fill="url(#gTan)" stroke="#8a5c24" stroke-width="3"/>
<path d="M1475 409 Q1509 402 1543 409 Q1582 445 1586 490 Q1586 521 1552 578 Q1509 594 1478 582 Q1439 535 1432 490 Q1436 441 1475 409Z" fill="#8a5e2a" opacity="0.8"/>
<path d="M1472 395 Q1505 388 1538 395 Q1577 431 1580 476 Q1580 507 1547 564 Q1505 580 1475 568 Q1436 521 1430 476 Q1433 427 1472 395Z" fill="url(#gTan)" stroke="#8a5c24" stroke-width="3"/>
<path d="M1720 424 Q1754 417 1788 424 Q1827 460 1830 505 Q1830 536 1797 593 Q1754 609 1723 597 Q1684 550 1678 505 Q1681 456 1720 424Z" fill="#8a5e2a" opacity="0.8"/>
<path d="M1717 410 Q1750 403 1783 410 Q1822 446 1825 491 Q1825 522 1792 579 Q1750 595 1720 583 Q1681 536 1675 491 Q1678 442 1717 410Z" fill="url(#gTan)" stroke="#8a5c24" stroke-width="3"/>
<path d="M1134 594 Q1174 586 1214 594 Q1262 636 1266 688 Q1266 724 1225 791 Q1174 810 1137 796 Q1090 741 1082 688 Q1086 632 1134 594Z" fill="#8a5e2a" opacity="0.8"/>
<path d="M1130 580 Q1170 572 1210 580 Q1256 622 1260 674 Q1260 710 1220 777 Q1170 796 1134 782 Q1087 727 1080 674 Q1084 618 1130 580Z" fill="url(#gTan)" stroke="#8a5c24" stroke-width="3"/>
<path d="M1404 592 Q1449 582 1494 592 Q1547 636 1551 693 Q1551 731 1506 803 Q1449 823 1408 808 Q1355 749 1347 693 Q1351 632 1404 592Z" fill="#8a5e2a" opacity="0.8"/>
<path d="M1401 578 Q1445 568 1489 578 Q1541 622 1545 679 Q1545 717 1501 789 Q1445 809 1405 794 Q1353 735 1345 679 Q1349 618 1401 578Z" fill="url(#gTan)" stroke="#8a5c24" stroke-width="3"/>
<path d="M1581 534 Q1619 526 1657 534 Q1702 572 1706 620 Q1706 652 1668 713 Q1619 730 1584 716 Q1539 667 1532 620 Q1536 568 1581 534Z" fill="#8a5e2a" opacity="0.8"/>
<path d="M1578 520 Q1615 512 1652 520 Q1697 558 1700 606 Q1700 638 1663 699 Q1615 716 1581 702 Q1537 653 1530 606 Q1533 554 1578 520Z" fill="url(#gTan)" stroke="#8a5c24" stroke-width="3"/>
<path d="M1729 654 Q1769 645 1809 654 Q1857 698 1861 753 Q1861 790 1820 861 Q1769 881 1732 865 Q1685 808 1677 753 Q1681 694 1729 654Z" fill="#8a5e2a" opacity="0.8"/>
<path d="M1725 640 Q1765 631 1805 640 Q1851 684 1855 739 Q1855 776 1815 847 Q1765 867 1729 851 Q1682 794 1675 739 Q1679 680 1725 640Z" fill="url(#gTan)" stroke="#8a5c24" stroke-width="3"/>
<path d="M1564 764 Q1604 756 1644 764 Q1692 806 1696 858 Q1696 894 1655 961 Q1604 980 1567 966 Q1520 911 1512 858 Q1516 802 1564 764Z" fill="#8a5e2a" opacity="0.8"/>
<path d="M1560 750 Q1600 742 1640 750 Q1686 792 1690 844 Q1690 880 1650 947 Q1600 966 1564 952 Q1517 897 1510 844 Q1514 788 1560 750Z" fill="url(#gTan)" stroke="#8a5c24" stroke-width="3"/>
<path d="M917 64 Q944 59 971 64 Q1003 88 1005 118 Q1005 138 978 177 Q944 188 920 179 Q888 148 883 118 Q885 86 917 64Z" fill="#8a5e2a" opacity="0.8"/>
<path d="M914 50 Q940 45 966 50 Q998 74 1000 104 Q1000 124 974 163 Q940 174 916 165 Q885 134 880 104 Q882 72 914 50Z" fill="url(#gTan)" stroke="#8a5c24" stroke-width="3"/>
<path d="M1210 29 Q1244 25 1278 29 Q1317 47 1320 70 Q1320 85 1287 114 Q1244 122 1213 115 Q1174 92 1168 70 Q1171 45 1210 29Z" fill="#8a5e2a" opacity="0.8"/>
<path d="M1207 15 Q1240 11 1273 15 Q1312 33 1315 56 Q1315 71 1282 100 Q1240 108 1210 101 Q1171 78 1165 56 Q1168 31 1207 15Z" fill="url(#gTan)" stroke="#8a5c24" stroke-width="3"/>
<path d="M1465 24 Q1494 20 1523 24 Q1558 42 1560 64 Q1560 80 1531 109 Q1494 117 1467 110 Q1433 87 1428 64 Q1430 40 1465 24Z" fill="#8a5e2a" opacity="0.8"/>
<path d="M1461 10 Q1490 6 1519 10 Q1552 28 1555 50 Q1555 66 1526 95 Q1490 103 1464 96 Q1430 73 1425 50 Q1428 26 1461 10Z" fill="url(#gTan)" stroke="#8a5c24" stroke-width="3"/>
<path d="M1733 39 Q1764 34 1795 39 Q1833 65 1835 98 Q1835 120 1804 161 Q1764 173 1735 164 Q1698 130 1693 98 Q1695 62 1733 39Z" fill="#8a5e2a" opacity="0.8"/>
<path d="M1729 25 Q1760 20 1791 25 Q1827 51 1830 84 Q1830 106 1799 147 Q1760 159 1732 150 Q1696 116 1690 84 Q1693 48 1729 25Z" fill="url(#gTan)" stroke="#8a5c24" stroke-width="3"/>
<path d="M1826 554 Q1839 546 1852 554 Q1868 594 1870 644 Q1870 678 1856 742 Q1839 760 1827 746 Q1811 694 1808 644 Q1810 590 1826 554Z" fill="#8a5e2a" opacity="0.8"/>
<path d="M1822 540 Q1835 532 1848 540 Q1864 580 1865 630 Q1865 664 1852 728 Q1835 746 1823 732 Q1807 680 1805 630 Q1806 576 1822 540Z" fill="url(#gTan)" stroke="#8a5c24" stroke-width="3"/>
<path d="M1831 814 Q1844 808 1857 814 Q1873 846 1875 886 Q1875 913 1861 964 Q1844 979 1832 968 Q1816 926 1813 886 Q1815 843 1831 814Z" fill="#8a5e2a" opacity="0.8"/>
<path d="M1827 800 Q1840 794 1853 800 Q1869 832 1870 872 Q1870 899 1857 950 Q1840 965 1828 954 Q1812 912 1810 872 Q1811 829 1827 800Z" fill="url(#gTan)" stroke="#8a5c24" stroke-width="3"/>
<path d="M908 625 Q928 617 948 625 Q972 663 974 710 Q974 743 954 804 Q928 821 909 807 Q885 758 882 710 Q884 659 908 625Z" fill="#a8875a" opacity="0.55"/>
<path d="M905 615 Q925 607 945 615 Q968 653 970 700 Q970 733 950 794 Q925 811 907 797 Q884 748 880 700 Q882 649 905 615Z" fill="url(#gCream)" stroke="#b09468" stroke-width="2.5"/>
<path d="M1016 695 Q1053 686 1090 695 Q1135 741 1138 798 Q1138 838 1101 911 Q1053 932 1019 916 Q975 856 968 798 Q971 736 1016 695Z" fill="#a8875a" opacity="0.55"/>
<path d="M1014 685 Q1050 676 1086 685 Q1129 731 1132 788 Q1132 828 1096 901 Q1050 922 1017 906 Q974 846 968 788 Q971 726 1014 685Z" fill="url(#gCream)" stroke="#b09468" stroke-width="2.5"/>
<path d="M1285 722 Q1325 714 1365 722 Q1412 764 1415 815 Q1415 850 1375 915 Q1325 934 1289 919 Q1242 866 1235 815 Q1238 759 1285 722Z" fill="#a8875a" opacity="0.55"/>
<path d="M1284 712 Q1322 704 1360 712 Q1406 754 1410 805 Q1410 840 1371 905 Q1322 924 1287 909 Q1242 856 1234 805 Q1238 749 1284 712Z" fill="url(#gCream)" stroke="#b09468" stroke-width="2.5"/>
<path d="M919 860 Q948 851 977 860 Q1012 904 1015 959 Q1015 996 985 1067 Q948 1087 921 1071 Q886 1014 881 959 Q884 900 919 860Z" fill="#a8875a" opacity="0.55"/>
<path d="M916 850 Q945 841 974 850 Q1007 894 1010 949 Q1010 986 981 1057 Q945 1077 919 1061 Q885 1004 880 949 Q883 890 916 850Z" fill="url(#gCream)" stroke="#b09468" stroke-width="2.5"/>
<path d="M1177 870 Q1213 862 1249 870 Q1292 910 1295 960 Q1295 994 1259 1058 Q1213 1076 1180 1062 Q1137 1010 1131 960 Q1134 906 1177 870Z" fill="#a8875a" opacity="0.55"/>
<path d="M1175 860 Q1210 852 1245 860 Q1287 900 1290 950 Q1290 984 1255 1048 Q1210 1066 1178 1052 Q1136 1000 1130 950 Q1133 896 1175 860Z" fill="url(#gCream)" stroke="#b09468" stroke-width="2.5"/>
<path d="M1428 878 Q1468 870 1508 878 Q1555 916 1558 965 Q1558 998 1518 1061 Q1468 1078 1432 1065 Q1385 1014 1378 965 Q1381 913 1428 878Z" fill="#a8875a" opacity="0.55"/>
<path d="M1426 868 Q1465 860 1504 868 Q1549 906 1552 955 Q1552 988 1514 1051 Q1465 1068 1430 1055 Q1384 1004 1378 955 Q1381 903 1426 868Z" fill="url(#gCream)" stroke="#b09468" stroke-width="2.5"/>
<path d="M1688 885 Q1725 877 1762 885 Q1807 925 1810 975 Q1810 1009 1773 1073 Q1725 1091 1691 1077 Q1647 1025 1640 975 Q1643 921 1688 885Z" fill="#a8875a" opacity="0.55"/>
<path d="M1686 875 Q1722 867 1758 875 Q1801 915 1804 965 Q1804 999 1768 1063 Q1722 1081 1689 1067 Q1646 1015 1640 965 Q1643 911 1686 875Z" fill="url(#gCream)" stroke="#b09468" stroke-width="2.5"/>
<path d="M1049 995 Q1088 987 1127 995 Q1172 1035 1176 1085 Q1176 1119 1137 1183 Q1088 1201 1053 1187 Q1007 1135 1000 1085 Q1004 1031 1049 995Z" fill="#a8875a" opacity="0.55"/>
<path d="M1048 985 Q1085 977 1122 985 Q1167 1025 1170 1075 Q1170 1109 1133 1173 Q1085 1191 1051 1177 Q1007 1125 1000 1075 Q1003 1021 1048 985Z" fill="url(#gCream)" stroke="#b09468" stroke-width="2.5"/>
<path d="M1306 1010 Q1343 1002 1380 1010 Q1425 1048 1428 1096 Q1428 1128 1391 1189 Q1343 1206 1309 1192 Q1265 1143 1258 1096 Q1261 1044 1306 1010Z" fill="#a8875a" opacity="0.55"/>
<path d="M1304 1000 Q1340 992 1376 1000 Q1419 1038 1422 1086 Q1422 1118 1386 1179 Q1340 1196 1307 1182 Q1264 1133 1258 1086 Q1261 1034 1304 1000Z" fill="url(#gCream)" stroke="#b09468" stroke-width="2.5"/>
<path d="M1566 1012 Q1603 1005 1640 1012 Q1685 1052 1688 1100 Q1688 1133 1651 1196 Q1603 1213 1569 1200 Q1525 1149 1518 1100 Q1521 1048 1566 1012Z" fill="#a8875a" opacity="0.55"/>
<path d="M1564 1002 Q1600 995 1636 1002 Q1679 1042 1682 1090 Q1682 1123 1646 1186 Q1600 1203 1567 1190 Q1524 1139 1518 1090 Q1521 1038 1564 1002Z" fill="url(#gCream)" stroke="#b09468" stroke-width="2.5"/>
<path d="M936 1160 Q963 1156 990 1160 Q1022 1180 1025 1205 Q1025 1222 998 1254 Q963 1263 938 1256 Q906 1230 901 1205 Q904 1178 936 1160Z" fill="#a8875a" opacity="0.55"/>
<path d="M934 1150 Q960 1146 986 1150 Q1018 1170 1020 1195 Q1020 1212 994 1244 Q960 1253 936 1246 Q905 1220 900 1195 Q902 1168 934 1150Z" fill="url(#gCream)" stroke="#b09468" stroke-width="2.5"/>
<path d="M1184 1170 Q1218 1166 1252 1170 Q1292 1192 1295 1220 Q1295 1238 1261 1273 Q1218 1283 1187 1276 Q1147 1247 1141 1220 Q1144 1190 1184 1170Z" fill="#a8875a" opacity="0.55"/>
<path d="M1182 1160 Q1215 1156 1248 1160 Q1287 1182 1290 1210 Q1290 1228 1257 1263 Q1215 1273 1185 1266 Q1146 1237 1140 1210 Q1143 1180 1182 1160Z" fill="url(#gCream)" stroke="#b09468" stroke-width="2.5"/>
<path d="M1449 1170 Q1483 1166 1517 1170 Q1557 1192 1560 1220 Q1560 1238 1526 1273 Q1483 1283 1452 1276 Q1412 1247 1406 1220 Q1409 1190 1449 1170Z" fill="#a8875a" opacity="0.55"/>
<path d="M1447 1160 Q1480 1156 1513 1160 Q1552 1182 1555 1210 Q1555 1228 1522 1263 Q1480 1273 1450 1266 Q1411 1237 1405 1210 Q1408 1180 1447 1160Z" fill="url(#gCream)" stroke="#b09468" stroke-width="2.5"/>
<path d="M1709 1170 Q1743 1166 1777 1170 Q1817 1192 1820 1220 Q1820 1238 1786 1273 Q1743 1283 1712 1276 Q1672 1247 1666 1220 Q1669 1190 1709 1170Z" fill="#a8875a" opacity="0.55"/>
<path d="M1707 1160 Q1740 1156 1773 1160 Q1812 1182 1815 1210 Q1815 1228 1782 1263 Q1740 1273 1710 1266 Q1671 1237 1665 1210 Q1668 1180 1707 1160Z" fill="url(#gCream)" stroke="#b09468" stroke-width="2.5"/>
<path d="M1824 1010 Q1838 1003 1852 1010 Q1868 1046 1869 1091 Q1869 1122 1855 1179 Q1838 1195 1826 1183 Q1810 1136 1807 1091 Q1808 1042 1824 1010Z" fill="#a8875a" opacity="0.55"/>
<path d="M1822 1000 Q1835 993 1848 1000 Q1864 1036 1865 1081 Q1865 1112 1852 1169 Q1835 1185 1823 1173 Q1807 1126 1805 1081 Q1806 1032 1822 1000Z" fill="url(#gCream)" stroke="#b09468" stroke-width="2.5"/>
<rect x="907" y="72" width="913" height="1150" filter="url(#fNoiseS)" opacity="0.3"/>
</g>
</g>
<g class="sk" transform="translate(80,170) scale(0.19258)">
<!-- blue bowl fills -->
<path class="blue" d="M745 690 Q1000 590 1300 595 Q1650 610 1775 700 Q1700 860 1300 885 Q900 880 745 690Z" opacity="0.85"/>
<path d="M800 720 L1000 640 M850 760 L1150 630 M900 800 L1300 640 M1000 820 L1450 640 M1150 830 L1600 660 M1300 840 L1700 700" stroke="#fff" stroke-width="3" opacity="0.7" fill="none"/>
<path class="blue" d="M700 780 Q760 1000 900 1090 L930 1060 Q800 960 740 790Z" opacity="0.9"/>
<path class="blue" d="M900 1090 Q1100 1180 1350 1160 Q1560 1100 1700 900 L1660 900 Q1500 1080 1300 1120 Q1080 1140 930 1060Z" opacity="0.55"/>
<path class="gry" d="M735 945 Q1000 1030 1300 1020 Q1500 1010 1690 900 L1640 990 Q1400 1070 1200 1065 Q950 1060 790 1000Z" opacity="0.9"/>
<path class="blue" d="M760 800 Q1000 900 1300 890 Q1600 870 1760 740 L1740 790 Q1500 920 1250 925 Q950 920 775 835Z" opacity="0.8"/>
<!-- black scribble band -->
<path d="M770 835 L800 930 L815 840 L845 945 L860 850 L890 955 L905 860 L935 965 L950 870 L985 975 L1000 880 L1030 985 L1050 890 L1080 995 L1100 900 L1130 1000 L1150 905 L1180 1005 L1200 910 L1230 1005 L1250 910 L1280 1000 L1300 905 L1330 995 L1350 900 L1380 990 L1400 895 L1430 980 L1450 885 L1480 970 L1500 875 L1530 955 L1550 865 L1580 940 L1600 855 L1630 920 L1650 845 L1675 895 L1695 840" stroke="#2b2825" stroke-width="2.2" fill="none" stroke-linejoin="round"/>
<path d="M780 860 L810 950 L830 860 L860 960 L880 870 L910 970 L925 880 L960 985 L975 890 L1010 990 L1025 900 L1060 1000 L1075 905 L1110 1005 L1125 910 L1160 1010 L1175 915 L1210 1010 L1225 915 L1260 1005 L1275 910 L1310 1000 L1325 905 L1360 995 L1375 900 L1410 985 L1425 890 L1460 975 L1475 880 L1510 960 L1525 870 L1560 945 L1575 860 L1610 925 L1625 850 L1655 905 L1670 845" stroke="#2b2825" stroke-width="2" fill="none" stroke-linejoin="round"/>
<path d="M765 850 Q1000 960 1250 955 Q1500 940 1690 850" stroke="#2b2825" stroke-width="15" fill="none" opacity="0.5"/>
<path d="M778 831 L808 936 L823 836 L853 951 L868 846 L898 961 L913 856 L943 971 L958 866 L993 981 L1008 876 L1038 991 L1058 886 L1088 1001 L1108 896 L1138 1006 L1158 901 L1188 1011 L1208 906 L1238 1011 L1258 906 L1288 1006 L1308 901 L1338 1001 L1358 896 L1388 996 L1408 891 L1438 986 L1458 881 L1488 976 L1508 871 L1538 961 L1558 861 L1588 946 L1608 851 L1638 926 L1658 841 L1683 901 L1703 836" stroke="#2b2825" stroke-width="1.8" fill="none" stroke-linejoin="round"/>
<!-- bowl lines -->
<g class="ink">
<path d="M740 690 Q1000 590 1300 595 Q1650 610 1775 700 Q1700 860 1300 885 Q900 880 745 690"/>
<path d="M720 680 Q1000 730 1200 715 M1240 712 Q1400 700 1700 650" stroke-dasharray="60 8"/>
<path d="M750 720 Q880 905 1300 910 Q1680 880 1780 730"/>
<path d="M940 800 Q1100 760 1350 780 Q1550 800 1690 860"/>
<path d="M680 665 Q690 900 860 1070 Q1000 1170 1200 1178 Q1450 1165 1620 1000 Q1760 860 1780 690"/>
<path d="M780 925 Q1000 1010 1250 1005 Q1500 1000 1690 905"/>
<path d="M1150 1175 Q1260 1185 1370 1160" stroke-width="2"/>
<path d="M840 700 Q880 680 925 695 Q915 730 870 740 Z M850 705 L860 735"/>
<path d="M1750 480 Q1800 640 1770 760"/>
<!-- bubbles -->
<path d="M615 215 Q620 120 715 85 M720 78 Q810 90 880 150 M905 140 Q930 240 775 330 M770 335 Q640 300 600 200"/>
<path d="M780 325 Q880 280 975 292 M1065 308 Q1130 360 1110 420 Q1080 490 1000 515 M830 345 Q810 420 830 470"/>
<path d="M640 570 Q680 490 790 485 M800 480 Q920 510 940 580 Q930 620 890 650 M640 570 Q650 630 700 660"/>
<path d="M690 520 Q640 480 560 490 Q380 540 240 830"/>
<path d="M600 670 Q520 680 480 750 Q460 830 530 880 M600 670 Q660 690 690 720 M610 908 Q680 890 700 840"/>
<path d="M1035 545 L1035 580 Q1100 500 1190 475 Q1280 490 1320 550"/>
<path d="M240 770 L235 850 M238 820 L290 780 M240 820 L300 820"/>
<!-- misc lines lower -->
<path d="M340 1298 Q600 1190 900 1200 Q1500 1180 2077 1100" class="thin"/>
<path d="M1100 1298 L1110 1250 M1130 1298 Q1300 1230 1600 1200 Q1900 1170 2077 1150" class="thin"/>
<path d="M270 1100 L240 1280"/>
<path d="M460 1215 L590 1205" />
<path d="M1350 770 Q1400 1000 1600 1060 Q1800 1100 2077 1090" class="thin"/>
<path d="M1200 1050 Q1350 800 1420 790 M1360 780 L1400 940" class="thin"/>
</g>
<!-- handwriting -->
<g class="hw" style="font-size:52px">
<text x="225" y="925" transform="rotate(-4 225 925)">VILLI</text>
<text x="285" y="985" transform="rotate(-5 285 985)">TYPE—.</text>
<text x="262" y="1058" transform="rotate(-4 262 1058)">REPTILE .</text>
<text x="55" y="1240" transform="rotate(-7 55 1240)">WATER</text>
<text x="265" y="1205" transform="rotate(-6 265 1205)">SOAP INLET.</text>
</g>
</g>

<g class="sk" transform="translate(290,165) scale(0.19258)">
<path d="M248 307l4 2 M1085 226l4 -3 M742 332l5 -3 M738 356l5 -3 M1078 269l4 -3 M509 339l3 -3 M1006 311l5 2 M523 311l5 4 M1156 205l4 4 M572 333l5 -3 M409 374l4 -3 M551 282l4 -3 M324 372l4 -3 M308 278l5 -3 M657 297l4 2 M251 314l3 2 M322 300l3 2 M503 304l4 2 M689 368l4 2 M699 278l4 -3 M567 381l3 -3 M569 362l4 2 M490 312l3 -3 M844 334l5 2 M231 326l4 2 M461 354l3 2 M554 348l3 4 M556 394l4 4 M717 322l5 2 M380 392l5 -3 M859 297l4 -3 M643 350l4 2 M430 358l4 4 M667 287l5 4 M807 336l3 4 M487 294l5 -3 M743 278l3 2 M1006 296l3 4 M792 330l3 4 M804 281l5 4 M324 330l4 4 M581 299l4 -3 M495 310l3 4 M337 343l5 2 M233 322l4 4 M971 257l5 -3 M1169 267l5 4 M804 309l3 4 M839 339l3 4 M950 269l5 4 M732 277l4 2 M505 322l5 -3 M666 283l5 2 M631 332l5 -3 M590 290l3 4 M1038 245l4 2 M505 391l5 2 M887 300l5 2 M495 380l4 4 M1094 233l4 2 M679 326l4 -3 M698 276l4 4 M367 335l4 2 M441 389l5 4 M245 366l5 -3 M1028 250l4 -3 M364 340l3 -3 M324 287l5 -3 M1063 231l5 2 M796 313l5 4 M1121 286l3 2 M274 360l3 2 M365 345l4 -3 M753 343l4 4 M473 327l4 2 M464 373l5 4 M445 285l4 -3 M302 354l5 4 M530 383l5 4 M248 367l3 4 M820 281l5 4 M446 277l3 2 M809 280l3 4 M992 300l3 2 M789 332l4 -3 M931 291l5 4 M815 299l5 -3 M580 289l3 2 M1065 235l3 -3 M446 311l4 -3 M333 354l3 4 M499 355l4 4 M840 299l3 2 M278 379l5 -3 M718 281l3 4 M1118 212l5 -3 M465 294l5 4 M392 317l5 -3 M606 322l5 4 M324 325l4 4 M1042 249l5 2 M237 324l4 -3 M687 331l3 -3 M582 344l5 2 M515 303l5 2 M1013 252l5 4 M304 378l4 -3 M1007 272l5 -3 M632 333l5 2 M942 328l5 2 M644 388l3 4 M477 387l3 2 M472 355l3 2 M345 282l3 2 M632 283l5 4 M901 303l4 4 M637 302l4 2 M1002 296l4 -3 M252 333l4 2 M760 282l4 4 M941 256l4 -3 M1018 313l5 -3 M315 365l5 4 M1084 246l5 -3 M985 275l3 4 M711 335l5 4 M397 289l4 -3 M520 288l4 2 M677 362l5 4 M568 337l4 -3 M872 320l4 2 M304 282l4 -3 M906 271l3 -3 M1112 263l5 -3 M420 319l3 4 M1080 255l5 -3 M881 327l3 -3 M907 286l4 2 M1071 249l4 2 M381 346l3 4 M956 252l4 -3 M280 330l3 -3 M919 296l5 4 M628 322l4 2 M1089 270l3 4 M490 339l4 4 M1148 243l4 -3 M760 339l5 2 M791 349l3 4 M279 311l5 -3 M526 396l3 -3 M440 360l4 4 M1027 310l3 -3 M366 342l3 4 M321 374l4 2 M579 305l4 2 M300 293l4 -3 M742 286l4 4 M333 337l3 4 M579 357l4 -3 M1127 217l5 4 M680 281l3 4 M699 360l3 4 M504 277l3 4 M268 297l4 -3 M448 353l3 2 M312 310l3 4 M308 282l3 4 M955 283l4 -3 M660 288l5 -3 M645 309l4 2 M597 379l3 -3 M637 337l3 4 M362 380l3 2 M382 305l4 2 M291 288l3 2 M397 299l5 2 M476 373l5 -3 M578 378l3 -3 M366 319l3 -3 M838 286l3 4 M574 310l5 2 M451 331l5 2 M473 325l3 4 M682 362l4 4 M622 316l4 -3 M274 315l3 -3 M257 289l3 4 M506 304l5 2 M576 322l3 -3 M1115 218l4 2 M651 369l3 2 M728 289l5 -3 M1108 269l5 2 M352 281l4 -3 M695 330l4 4 M419 304l5 4 M1149 261l5 2 M485 380l3 2 M932 260l5 -3 M593 345l4 -3 M1061 301l4 -3 M1081 241l3 4 M930 329l5 4 M1011 314l4 2 M1131 226l3 -3 M281 357l4 -3 M662 349l3 4 M287 348l3 2 M944 259l5 2 M948 319l4 -3 M628 343l4 -3 M353 313l5 2 M880 303l3 2 M694 323l3 4 M856 297l3 2 M469 282l5 2 M1074 261l5 -3 M824 347l5 4 M1138 227l4 -3 M959 277l3 2 M319 345l4 2 M589 346l3 2 M915 260l3 4 M908 294l3 4 M320 296l4 4 M324 318l5 2 M586 346l5 4 M1102 275l5 4 M771 315l3 2 M493 371l4 4 M466 308l4 2 M306 303l5 -3 M377 361l5 4 M321 333l4 4 M462 282l5 2 M270 366l3 2 M337 376l4 -3 M543 336l3 2 M834 312l4 2 M491 277l4 4 M1062 231l4 -3 M623 295l3 2 M1157 229l3 2 M1126 272l3 4 M869 278l3 -3 M923 316l3 -3 M734 310l4 4 M449 391l3 -3 M845 289l5 4 M850 334l5 2 M934 316l5 4 M926 286l5 2 M647 358l5 2 M1027 234l3 2 M660 301l4 2 M991 310l4 2 M1170 246l3 4 M283 278l3 -3 M316 285l3 4 M508 368l4 -3 M607 304l5 -3 M657 377l4 2 M981 296l3 2 M404 323l4 2 M1027 284l4 4 M311 339l3 2 M363 298l5 2 M1021 275l3 4 M1107 218l4 -3 M276 338l5 2 M947 310l3 4 M991 304l5 4 M629 301l5 4 M1010 253l5 2 M503 388l3 4 M288 324l5 2 M431 353l3 -3 M921 294l5 4 M528 397l4 4 M968 271l3 -3 M713 308l4 2 M487 303l3 4 M288 355l4 2 M1114 267l3 -3 M312 280l5 2 M1127 220l5 -3 M875 306l4 -3 M535 358l4 -3 M553 317l4 4 M653 351l4 4 M810 293l4 4 M514 284l3 4 M799 336l5 2 M388 303l3 4 M324 374l3 -3 M298 344l3 4 M493 351l5 -3 M253 305l4 2 M375 276l4 4 M886 317l4 4 M390 309l3 -3 M527 344l4 4 M576 380l3 -3 M386 295l3 4 M465 342l4 4 M640 341l3 -3 M699 334l4 -3 M967 270l5 2 M545 341l5 4 M264 315l5 4 M482 321l3 -3 M432 305l5 2 M971 259l4 4 M911 313l3 -3 M230 270l5 2 M588 332l4 4 M470 305l3 -3 M457 285l5 4 M979 268l3 4 M858 334l4 -3 M490 368l5 4 M334 336l4 2 M667 325l4 -3 M311 371l5 -3 M553 309l5 2 M510 329l5 -3 M801 351l3 -3 M672 338l3 -3 M648 329l5 2" class="ink" stroke-width="1.2"/>
<g class="ink">
<path d="M100 250 Q90 160 300 115 Q700 55 1200 50 Q1340 65 1322 150 Q1280 300 900 392 Q500 440 250 352 Q90 300 100 250"/>
<path d="M130 245 Q500 150 1000 140 Q1200 148 1215 200 Q1200 290 800 400 M70 285 Q400 200 900 120 Q1200 80 1300 100" class="thin"/>
<path d="M95 180 Q110 140 160 135 M90 220 Q70 330 250 400 Q330 420 420 405" class="thin"/>
<path d="M215 285 Q300 232 500 247 Q650 292 800 272 Q1000 212 1150 205 Q1205 232 1170 272 Q1000 330 780 342 Q700 420 500 407 Q300 380 215 300Z"/>
<path d="M215 310 Q400 425 720 425 M240 330 Q400 410 600 415" />
<ellipse cx="365" cy="280" rx="46" ry="20"/><path d="M320 283 Q365 310 411 283" />
<path d="M745 372 Q800 520 1040 520 M1010 480 L1080 500 M1060 470 L1035 530"/>
<path d="M740 360 Q900 370 1180 290" class="thin"/>
<path d="M655 505 Q700 640 685 760"/>
<path d="M690 700 Q1000 640 1300 662 Q1410 700 1385 800 Q1300 1000 1000 1092 Q700 1125 480 1075 Q380 1040 350 1000" class="thin"/>
<path d="M600 962 Q900 985 1150 932 Q1300 882 1280 822 Q1200 772 1000 792 Q800 812 620 872" class="thin"/>
<path d="M420 830 Q440 770 520 790 Q560 760 600 800 M700 800 l10 -30 m30 25 l8 -35 m30 30 l5 -30 m40 20 q10 -30 25 0 m30 -10 q10 -30 25 -5 m30 -10 q15 -25 25 0 m35 -15 q10 -20 25 -5 m30 -15 q10 -20 28 -5 m25 -12 q15 -20 28 -5"/>
<path d="M640 920 l10 -25 m25 25 q15 -35 35 -5 m20 0 q15 -30 35 -5 m15 -5 q15 -30 30 -5 m20 -5 q10 -25 28 -5 m22 -8 q12 -22 26 -5 m22 -12 l6 -25 m25 15 l6 -25 m40 -5 l4 -18 m80 -50 q10 -20 25 -5 m30 -15 q8 -15 20 -5"/>
<path d="M1150 730 Q1500 690 1530 860 Q1535 920 1505 985 M1470 975 L1550 990 M1520 950 L1495 1010"/>
<path d="M1200 690 Q1350 660 1500 700" class="thin"/>
<path d="M1690 520 Q1722 620 1630 715 M1615 690 L1630 718 L1665 712"/>
<path d="M1170 650 Q1250 560 1400 560 M1190 540 Q1300 500 1380 480 M1200 590 Q1300 610 1400 580" class="thin"/>
<!-- clouds -->
<path d="M1340 200 Q1320 110 1400 100 Q1460 110 1450 170 Q1480 180 1500 190 M1480 170 Q1510 120 1570 140 Q1610 170 1590 220"/>
<path d="M1420 280 Q1400 220 1470 200 M1420 280 Q1500 310 1560 270 M1640 210 Q1700 180 1740 230 Q1760 270 1730 300 M1560 270 Q1600 250 1640 300"/>
<path d="M1170 330 Q1200 290 1300 280 Q1250 360 1180 365 M1300 330 Q1400 290 1440 340 Q1470 390 1380 400"/>
<path d="M1540 320 Q1560 280 1620 280 Q1720 280 1770 270 Q1740 340 1620 360 Q1550 350 1540 320"/>
<path d="M1250 440 Q1300 400 1400 380 Q1480 360 1490 400 Q1450 450 1300 470 M1400 520 Q1420 400 1560 380 Q1700 400 1720 450 Q1700 520 1560 550 Q1450 560 1400 520"/>
<path d="M1510 450 Q1520 400 1580 440 M1200 550 Q1250 500 1380 480 Q1420 560 1400 640 M1240 650 Q1260 580 1340 590 Q1360 620 1330 640"/>
<path d="M1120 470 Q1160 410 1200 430 Q1250 410 1270 450 M1100 500 Q1200 480 1260 440" class="thin"/>
<path d="M820 1140 Q900 1150 1000 1130" class="thin"/>
<path d="M1060 1160 L1060 1298" class="thin"/>
<path d="M100 1298 Q400 1180 800 1190 Q950 1200 1060 1290" class="thin"/>
</g>
<g class="hw" style="font-size:50px">
<text x="1575" y="790" transform="rotate(3 1575 790)">VILLI</text>
<text x="1662" y="850" transform="rotate(-2 1662 850)">TYPE—.</text>
<text x="1688" y="935" transform="rotate(-3 1688 935)">SKIN.</text>
</g>
</g>
<g class="sk" transform="translate(480,330) scale(0.15411)">
<path class="yel" d="M250 780 Q350 700 480 640 Q560 700 600 820 Q680 860 730 920 Q600 880 480 860 Q380 900 300 900Z" opacity="0.9"/>
<path class="yel" d="M377 605 L328 211 Q288 191 252 219 L283 615Z"/>
<path class="ink" d="M377 605 L328 211 Q288 191 252 219 L283 615Z"/>
<path class="ink" d="M365 557 Q323 543 285 565 M360 507 Q318 493 280 515 M355 458 Q313 444 275 466 M350 408 Q308 395 270 417 M345 359 Q303 345 265 367 M340 310 Q298 296 260 318 M335 260 Q293 246 255 268"/>
<ellipse cx="290" cy="215" rx="36" ry="14" transform="rotate(-6 290 215)" fill="#3a3426" stroke="#2b2825" stroke-width="1.2"/>
<path class="yel" d="M492 557 L462 168 Q419 144 378 172 L388 563Z"/>
<path class="ink" d="M492 557 L462 168 Q419 144 378 172 L388 563Z"/>
<path class="ink" d="M482 509 Q437 493 393 514 M480 460 Q434 445 390 465 M477 411 Q432 396 388 416 M475 363 Q429 347 385 367 M472 314 Q427 298 383 319 M470 265 Q424 250 380 270 M467 216 Q422 201 378 221"/>
<ellipse cx="420" cy="170" rx="39" ry="16" transform="rotate(-3 420 170)" fill="#3a3426" stroke="#2b2825" stroke-width="1.2"/>
<path class="yel" d="M620 435 L630 239 Q593 210 550 231 L520 425Z"/>
<path class="ink" d="M620 435 L630 239 Q593 210 550 231 L520 425Z"/>
<path class="ink" d="M616 395 Q576 373 532 387 M620 356 Q580 334 536 348 M624 317 Q584 295 540 309 M628 278 Q588 256 544 270"/>
<ellipse cx="590" cy="235" rx="38" ry="15" transform="rotate(6 590 235)" fill="#3a3426" stroke="#2b2825" stroke-width="1.2"/>
<path class="yel" d="M523 612 L815 351 Q806 288 745 269 L437 508Z"/>
<path class="ink" d="M523 612 L815 351 Q806 288 745 269 L437 508Z"/>
<path class="ink" d="M547 579 Q524 523 473 491 M577 554 Q554 498 503 466 M607 529 Q584 473 533 441 M637 504 Q614 448 563 416 M667 479 Q644 423 593 391 M697 454 Q674 398 623 366 M727 429 Q704 373 653 341 M757 404 Q734 348 683 316 M787 379 Q764 323 713 291"/>
<ellipse cx="780" cy="310" rx="51" ry="20" transform="rotate(50 780 310)" fill="#3a3426" stroke="#2b2825" stroke-width="1.2"/>
<path class="yel" d="M347 603 L346 377 Q301 346 254 373 L233 597Z"/>
<path class="ink" d="M347 603 L346 377 Q301 346 254 373 L233 597Z"/>
<path class="ink" d="M340 565 Q292 545 243 560 M342 527 Q294 507 245 523 M344 490 Q296 470 246 485 M345 452 Q297 432 248 448 M347 415 Q299 395 250 410"/>
<ellipse cx="300" cy="375" rx="43" ry="17" transform="rotate(3 300 375)" fill="#3a3426" stroke="#2b2825" stroke-width="1.2"/>
<path class="yel" d="M328 835 L233 563 Q188 551 157 587 L232 865Z"/>
<path class="ink" d="M328 835 L233 563 Q188 551 157 587 L232 865Z"/>
<path class="ink" d="M310 803 Q264 798 229 828 M299 769 Q253 764 218 794 M289 734 Q243 730 208 759 M278 700 Q232 695 197 725 M267 666 Q222 661 186 691 M257 631 Q211 627 176 656 M246 597 Q200 592 165 622"/>
<ellipse cx="195" cy="575" rx="38" ry="15" transform="rotate(-17 195 575)" fill="#3a3426" stroke="#2b2825" stroke-width="1.2"/>
<path class="yel" d="M420 803 L570 551 Q546 500 490 499 L320 737Z"/>
<path class="ink" d="M420 803 L570 551 Q546 500 490 499 L320 737Z"/>
<path class="ink" d="M429 773 Q396 730 343 718 M445 749 Q412 706 359 693 M461 724 Q428 681 375 669 M477 700 Q444 657 391 644 M493 675 Q460 632 407 620 M509 651 Q476 608 423 595 M525 626 Q492 583 439 571 M541 602 Q508 559 455 546 M557 577 Q524 534 471 522"/>
<ellipse cx="530" cy="525" rx="45" ry="18" transform="rotate(33 530 525)" fill="#3a3426" stroke="#2b2825" stroke-width="1.2"/>
<path class="yel" d="M612 803 L548 671 Q507 664 482 699 L528 837Z"/>
<path class="ink" d="M612 803 L548 671 Q507 664 482 699 L528 837Z"/>
<path class="ink" d="M594 779 Q552 776 524 807 M583 752 Q541 749 513 780 M572 725 Q530 722 502 753 M561 698 Q519 695 491 726"/>
<ellipse cx="515" cy="685" rx="34" ry="14" transform="rotate(-22 515 685)" fill="#3a3426" stroke="#2b2825" stroke-width="1.2"/>
<path class="ink" d="M420 480 Q450 440 490 470 Q480 520 440 510Z M440 470 L470 500"/>
<path d="M845 490 Q950 460 1040 360 Q1060 200 1085 185 Q1125 175 1112 300 Q1110 440 1250 470 Q1370 450 1440 300 Q1470 195 1500 190 Q1535 200 1492 300 Q1480 440 1620 470 L1600 510 Q1480 480 1430 420 Q1350 540 1220 540 Q1100 520 1060 430 Q980 480 850 500Z" class="blue" fill="#55a9dc"/>
<path d="M890 430 L960 340 L1000 260 L1010 170 L1060 110 L1130 105 L1180 160 L1175 280 L1200 380 L1250 430 L1320 400 L1370 320 L1400 210 L1440 130 L1510 110 L1580 150 L1590 240 L1540 340 L1560 420 L1640 450" stroke="#9a9a98" stroke-width="4.5" fill="none" opacity="0.8"/>
<path class="ink" d="M884 425 L878 384 L919 380 L913 339 L953 336 L939 296 L980 283 L962 256 L995 229 L969 196 L1004 165 L997 126 L1037 125 L1057 72 L1094 100 L1158 79 L1153 118 L1191 116 L1188 160 L1217 186 L1186 208 L1215 234 L1184 256 L1212 271 L1189 303 L1224 321 L1202 353 L1227 353 L1231 399 L1235 395 L1270 413 L1282 375 L1313 396 L1304 353 L1347 342 L1333 310 L1370 290 L1348 255 L1385 235 L1366 193 L1406 180 L1393 140 L1438 122 L1453 87 L1484 109 L1529 77 L1537 116 L1576 104 L1588 149 L1621 176 L1595 209 L1624 257 L1585 269 L1599 307 L1560 319 L1577 331 L1554 365 L1590 384 L1563 413 L1600 394 L1616 433"/>
<path class="ink" d="M1040 380 Q1060 200 1085 185 Q1125 175 1112 300 Q1110 440 1250 470 Q1370 450 1440 300 Q1470 195 1500 190 Q1535 200 1492 300 Q1480 440 1620 470"/>
<path class="ink" d="M860 525 Q950 470 1050 500 Q1200 565 1350 500 Q1450 470 1640 520"/>
<ellipse cx="1090" cy="185" rx="20" ry="10" class="ink" fill="#fff"/><ellipse cx="1500" cy="195" rx="22" ry="12" class="ink" fill="#fff"/>
<path class="ink" d="M720 890 Q770 860 780 900 L785 1080 Q800 1115 815 1080 L820 900 Q850 850 880 900 L885 1080 Q900 1115 915 1080 L920 900 Q950 850 980 900 L985 1080 Q1000 1115 1015 1080 L1020 900 Q1050 850 1080 900 L1085 1080 Q1100 1115 1115 1080 L1120 900 Q1150 850 1180 900 L1185 1080 Q1200 1115 1215 1080 L1220 900 Q1250 850 1280 900 L1285 1080 Q1300 1115 1315 1080 L1320 900 Q1350 850 1380 900 L1385 1080 Q1400 1115 1415 1080 L1420 920 Q1450 880 1475 910"/>
<path class="ink" d="M690 1145 Q760 1165 850 1150 Q1000 1135 1200 1145 Q1400 1150 1520 1135"/>
<path class="ink" d="M690 590 Q655 650 790 690 M760 650 L795 690 L765 715 M630 95 L625 185 M590 160 L700 160 M640 150 L690 100"/>
<path class="thin" d="M1500 690 L1817 690 M1790 775 L1817 775"/>
<g class="hw" style="font-size:62px">
<text x="825" y="690" transform="rotate(-8 825 690)">VILLI</text>
<text x="915" y="750" transform="rotate(-6 915 750)">TYPE—.</text>
<text x="862" y="825" transform="rotate(-3 862 825)">INTESTINE—</text>
<text x="170" y="1085" transform="rotate(-6 170 1085)" style="font-size:54px">GREY</text>
<text x="138" y="1140" transform="rotate(-5 138 1140)" style="font-size:54px">WATER</text>
<text x="160" y="1200" transform="rotate(-4 160 1200)" style="font-size:54px">OUTLET.</text>
</g>
</g>
<g class="sk" transform="translate(620,165) scale(0.23111)">
<ellipse class="yel" cx="955" cy="700" rx="140" ry="24" transform="rotate(-6 955 700)"/>
<ellipse class="yel" cx="990" cy="1003" rx="125" ry="30" transform="rotate(-6 990 1003)"/>
<path class="yel" d="M640 800 L715 790 L720 845 L655 850Z"/>
<ellipse class="yel" cx="1005" cy="1190" rx="45" ry="13" transform="rotate(-5 1005 1190)"/>
<path class="ink" stroke-width="1" d="M590 930 L594 1000 M602 932 L606 1004 M614 935 L618 1007 M626 938 L630 1011 M638 940 L642 1014 M650 942 L654 1018 M662 945 L666 1022 M674 948 L678 1025 M686 950 L690 1029 M698 952 L702 1032 M710 955 L714 1036 M722 958 L726 1040 M734 960 L738 1043 M746 962 L750 1047 M758 965 L762 1050 M770 968 L774 1054 M782 970 L786 1058 M794 972 L798 1061 M806 975 L810 1065 M818 978 L822 1068 M830 980 L834 1072 M842 982 L846 1076 M854 985 L858 1079 M866 988 L870 1083 M878 990 L882 1086 M890 992 L894 1090 M1150 740 L1153 1001 M1162 738 L1166 1002 M1175 736 L1178 1004 M1188 734 L1190 1006 M1200 732 L1203 1007 M1212 730 L1216 1008 M1225 728 L1228 1010 M1238 726 L1240 1008 M1250 724 L1253 1007 M1262 724 L1266 1006 M1275 724 L1278 1004 M1288 724 L1290 1002 M1300 724 L1303 1001 M1312 724 L1316 990 M1325 724 L1328 980 M1338 728 L1340 970 M1350 732 L1353 959 M1362 736 L1366 948 M1375 740 L1378 938 M1388 744 L1390 928 M1400 748 L1403 917 M1412 752 L1416 906 M830 712 L858 688 M845 711 L873 687 M860 710 L888 686 M875 708 L903 684 M890 707 L918 683 M905 706 L933 682 M920 705 L948 681 M935 704 L963 680 M950 702 L978 678 M965 701 L993 677 M980 700 L1008 676 M995 699 L1023 675 M1010 698 L1038 674 M1025 696 L1053 672 M1040 695 L1068 671 M1055 694 L1083 670 M1070 693 L1098 669 M1085 692 L1113 668 M880 1030 L906 990 M895 1028 L921 988 M910 1027 L936 987 M925 1026 L951 986 M940 1024 L966 984 M955 1022 L981 982 M970 1021 L996 981 M985 1020 L1011 980 M1000 1018 L1026 978 M1015 1016 L1041 976 M1030 1015 L1056 975 M1045 1014 L1071 974 M1060 1012 L1086 972 M1075 1010 L1101 970 M1090 1009 L1116 969 M1105 1008 L1131 968"/>
<g class="ink">
<path d="M85 330 Q60 230 250 130 Q400 40 560 55 Q700 90 750 260 Q790 450 650 600 Q500 680 350 620 Q150 520 85 330"/>
<path d="M85 335 Q200 485 450 482 Q700 430 742 255 M95 392 Q250 560 500 482 M380 85 Q550 60 680 150 Q760 260 740 330"/>
<path d="M165 280 Q150 200 330 120 Q500 70 620 150 Q700 280 620 372 Q450 422 300 392 Q190 350 165 280"/>
<path d="M262 325 L272 290 L300 292 L322 335 M280 325 L300 322"/>
<path d="M490 652 Q540 625 585 637 Q540 655 490 652" stroke-width="1.6"/>
<path d="M0 180 Q60 230 20 290 M0 360 Q15 380 0 400" class="thin"/>
<!-- sponge bowl -->
<path d="M540 830 Q700 700 1100 668 Q1380 678 1420 760 Q1400 900 1100 1000 Q800 1055 600 950 Q530 880 540 830"/>
<path d="M555 850 Q720 730 1100 690 Q1350 700 1385 770" class="thin"/>
<path d="M520 815 Q560 1050 750 1150 Q950 1235 1150 1170 Q1350 1080 1422 755"/>
<path d="M510 810 Q580 1060 700 1170 M530 870 Q600 1050 690 1120 M1410 670 L1425 800 M1380 690 Q1440 730 1440 760" class="thin"/>
<path d="M600 950 Q700 1100 900 1105 Q1200 1080 1370 960"/>
<path d="M580 945 Q720 870 900 770 Q1000 730 1100 760 Q1300 860 1360 900 Q1380 960 1340 1010" stroke-width="2"/>
<path d="M620 920 Q800 800 940 740 Q1050 720 1150 770 Q1300 850 1350 880" />
<path d="M610 840 Q640 770 760 760 Q900 780 1050 745 Q1150 720 1290 710 Q1400 730 1370 800 Q1300 900 1180 960 Q1050 1020 900 1040 Q760 1020 690 960 Q630 900 610 840"/>
<path d="M680 930 Q850 980 1050 940 Q1250 890 1340 830" />
<path d="M590 940 Q720 960 860 1030 Q1000 960 1110 985 Q1200 950 1290 880" stroke-width="1.8"/>
<path d="M640 800 L715 790 L720 845 L655 850Z M640 800 Q675 780 715 790"/>
<path d="M700 900 L1250 825" stroke-dasharray="3 30" />
<path d="M1050 830 L1250 825" class="thin"/>
<path d="M400 1175 L670 1165 M1130 1177 L1480 1160 M590 1235 L850 1215 M1390 1000 L1510 990 M935 1220 L960 1215" class="thin"/>
<path d="M1180 690 Q1220 605 1330 590 M1318 578 L1340 615 M1340 585 L1322 605"/>
<path d="M1632 505 L1585 682"/>
<path d="M500 985 L545 940" class="thin"/>
</g>
<g class="hw" style="font-size:46px">
<text x="1382" y="600" transform="rotate(-6 1382 600)">SPONGE</text>
<text x="1615" y="612" transform="rotate(-4 1615 612)" style="font-size:40px">LIGHT</text>
<text x="1605" y="665" transform="rotate(-4 1605 665)">MATERIAL—.</text>
</g>
</g>
<g class="sk" transform="translate(80,385) scale(0.21184)">
<path class="yel2" d="M850 650 L1000 670 L1150 700 L1300 690 L1450 640 L1600 600 L1690 600 L1700 790 L1550 790 L1400 800 L1250 830 L1180 900 L1050 870 L900 830 L840 760Z" opacity="0.95"/>
<path class="ink" d="M853 633 L868 828 M861 638 L881 829 M873 646 L892 840 M891 627 L903 840 M904 665 L922 848 M916 635 L930 801 M925 638 L947 812 M943 651 L962 922 M955 656 L971 913 M972 678 L989 930 M980 653 L996 891 M998 674 L1012 900 M1004 684 L1023 922 M1025 684 L1039 903 M1037 653 L1050 911 M1052 656 L1069 897 M1058 659 L1075 892 M1075 688 L1092 889 M1085 666 L1107 917 M1099 665 L1116 901 M1112 700 L1136 920 M1130 672 L1147 900 M1138 669 L1156 929 M1152 697 L1167 896 M1165 671 L1186 909 M1184 684 L1198 903 M1191 693 L1208 923 M1204 707 L1221 841 M1217 701 L1242 847 M1232 708 L1247 830 M1244 675 L1266 848 M1260 684 L1275 841 M1269 658 L1288 836 M1287 673 L1301 843 M1295 688 L1314 810 M1309 669 L1329 803 M1324 671 L1347 807 M1340 684 L1357 833 M1348 648 L1374 802 M1361 667 L1384 818 M1377 655 L1401 807 M1393 636 L1413 797 M1407 659 L1427 805 M1421 640 L1439 804 M1434 640 L1450 810 M1445 644 L1463 789 M1461 619 L1479 802 M1472 641 L1489 789 M1480 626 L1504 812 M1497 606 L1512 800 M1511 629 L1532 795 M1522 608 L1543 771 M1540 602 L1556 778 M1548 607 L1569 815 M1565 594 L1585 792 M1577 617 L1592 789 M1592 583 L1611 795 M1601 602 L1617 818 M1613 587 L1633 784 M1627 590 L1650 795 M1639 600 L1655 793 M1657 591 L1674 772 M1665 565 L1683 810 M1684 566 L1697 771"/>
<path d="M1480 600 L1640 590 L1650 760 M1490 610 L1640 602" stroke="#555" stroke-width="2.2" fill="none"/>
<path d="M1095 165 Q1300 190 1500 165 Q1750 130 1940 128" stroke="#e2c411" stroke-width="5" fill="none"/>
<path d="M1065 275 Q1250 405 1500 415 Q1750 385 1940 245" stroke="#e2c411" stroke-width="7" fill="none"/>
<path d="M1250 320 l120 -30 M1410 290 l300 -30 M1400 360 l230 -25 M1100 350 l200 80 M1600 430 l250 -90 M1280 440 l150 10" stroke="#e2c411" stroke-width="6" fill="none"/>
<path class="ink" stroke-width="0.9" d="M1095 157 L1105 174 L1115 159 L1125 175 L1136 160 L1146 177 L1156 162 L1166 178 L1176 163 L1187 180 L1197 164 L1207 181 L1217 165 L1228 182 L1238 166 L1248 182 L1258 167 L1269 183 L1279 167 L1289 184 L1300 168 L1310 184 L1320 168 L1331 184 L1341 168 L1352 184 L1362 168 L1372 184 L1383 168 L1393 184 L1404 168 L1414 184 L1425 168 L1435 184 L1446 167 L1456 183 L1467 167 L1477 182 L1488 166 L1498 182 L1509 165 L1519 181 L1530 164 L1540 180 L1551 163 L1562 179 L1572 162 L1583 177 L1594 160 L1604 176 L1615 159 L1626 174 L1636 157 L1647 172 L1658 155 L1668 171 L1679 154 L1690 169 L1701 152 L1711 166 L1722 149 L1733 164 L1744 147 L1755 162 L1765 145 L1776 159 L1787 142 L1798 157 L1809 139 L1820 154 L1831 136 L1841 151 L1852 133 L1863 148 L1874 130 L1885 145 L1896 127 L1907 141 L1918 124 L1929 138 L1940 120 M1065 268 L1073 287 L1081 277 L1089 296 L1097 287 L1105 305 L1112 295 L1120 313 L1128 304 L1136 322 L1144 312 L1152 329 L1160 319 L1168 337 L1176 326 L1184 344 L1192 333 L1200 351 L1207 340 L1215 357 L1223 346 L1231 363 L1239 352 L1247 368 L1255 357 L1263 374 L1271 362 L1279 378 L1287 367 L1295 383 L1303 371 L1311 387 L1319 375 L1326 391 L1334 378 L1342 394 L1350 381 L1358 397 L1366 384 L1374 400 L1382 387 L1390 402 L1398 389 L1406 404 L1414 390 L1422 405 L1430 392 L1438 406 L1446 393 L1454 407 L1461 393 L1469 407 L1477 393 L1485 407 L1493 393 L1501 407 L1509 393 L1517 406 L1525 392 L1533 405 L1541 390 L1549 404 L1557 389 L1565 402 L1573 387 L1581 400 L1589 384 L1597 397 L1605 382 L1613 394 L1621 378 L1629 391 L1637 375 L1645 387 L1653 371 L1661 383 L1668 367 L1676 379 L1684 362 L1692 374 L1700 357 L1708 369 L1716 352 L1724 363 L1732 346 L1740 357 L1748 340 L1756 351 L1764 334 L1772 344 L1780 327 L1788 337 L1796 320 L1804 330 L1812 312 L1820 322 L1828 304 L1836 314 L1844 296 L1852 305 L1860 287 L1868 297 L1876 278 L1884 287 L1892 269 L1900 278 L1908 259 L1916 268 L1924 249 L1932 257 L1940 238"/>
<path class="ink" stroke-width="0.9" d="M1250 308 L1262 328 L1274 300 L1286 321 L1298 294 L1310 314 L1322 288 L1334 309 L1346 282 L1358 304 L1370 278 M1410 278 L1424 300 L1437 274 L1451 297 L1465 271 L1479 294 L1493 268 L1506 290 L1520 265 L1534 288 L1548 262 L1562 285 L1577 260 L1591 283 L1605 257 L1619 280 L1633 255 L1648 278 L1662 253 L1677 276 L1691 252 L1705 275 L1720 250 M1400 350 L1415 368 L1430 345 L1445 363 L1460 341 L1475 358 L1490 336 L1505 354 L1520 332 L1535 351 L1550 329 L1565 347 L1580 326 L1595 344 L1610 323 L1625 341 L1640 320 M1110 360 L1121 384 L1133 368 L1144 392 L1156 376 L1167 400 L1179 384 L1191 408 L1202 392 L1214 417 L1226 401 L1238 426 L1251 411 L1263 435 L1275 420 L1288 445 L1300 430 M1280 440 L1296 460 L1312 440 L1328 460 L1344 441 L1360 461 L1376 442 L1392 462 L1408 443 L1424 464 L1440 445 M1600 423 L1614 442 L1629 413 L1643 432 L1658 403 L1672 422 L1687 392 L1701 411 L1716 382 L1730 401 L1744 371 L1759 390 L1773 361 L1788 379 L1802 350 L1817 369 L1831 339 L1846 358 L1860 328"/>
<g class="ink">
<path d="M110 400 Q100 250 350 140 Q600 60 850 130 Q1020 200 1010 350 Q950 560 600 640 Q300 660 150 520 Q100 450 110 400"/>
<path d="M95 390 Q120 260 350 170 Q600 100 820 150 Q960 200 985 300" class="thin"/>
<path d="M150 400 Q160 280 350 200 Q500 160 650 210 Q800 262 900 252 Q1000 300 960 420 Q880 560 600 602 Q350 620 220 520 Q150 460 150 400"/>
<path d="M160 330 Q300 180 500 185 Q700 230 860 260" />
<path d="M100 420 Q150 700 400 782 Q650 822 820 742 Q1000 620 1042 300"/>
<path d="M65 340 Q80 600 250 750 M120 450 Q200 640 420 670 Q650 670 800 600" class="thin"/>
<path d="M240 510 Q350 470 450 510 Q600 562 700 542 Q760 520 800 560 M770 578 Q500 560 300 600" class="pencil"/>
<ellipse cx="305" cy="285" rx="30" ry="20" transform="rotate(-20 305 285)"/><path d="M280 295 L285 320 Q310 330 330 305 L328 280"/>
<path d="M290 300 Q170 280 150 190 M135 210 L150 180 L180 185"/>
<path d="M220 50 L235 140 M420 95 L545 85"/>
<path d="M560 90 Q900 60 1300 40 Q1500 30 1700 35" class="thin"/>
<path d="M0 710 Q400 650 800 640 M860 590 Q1000 560 1200 600 M0 790 Q200 810 350 840" class="pencil"/>
<!-- zig bowl -->
<path d="M1045 200 Q1100 130 1400 110 Q1750 80 1950 140 Q1970 250 1850 340 Q1650 462 1400 472 Q1150 430 1060 280 Q1040 230 1045 200"/>
<path d="M1020 180 Q1050 450 1250 562 Q1500 625 1750 545 Q1900 480 1950 350" />
<path d="M1005 120 L1030 380 M1960 20 L1950 160 M1240 0 L1255 120" class="thin"/>
<path d="M1080 420 Q1150 350 1400 300 Q1700 250 1900 300 Q1850 420 1540 480" class="thin"/>
<ellipse cx="1140" cy="185" rx="25" ry="10"/><path d="M1115 187 L1118 210 Q1140 222 1163 208 L1165 187"/>
<path d="M1770 345 Q1950 450 1952 560 Q1930 650 1790 705 M1770 690 L1800 740 M1770 705 L1830 690"/>
<path d="M1400 545 Q1700 520 2000 545" class="thin"/>
<path d="M1690 740 Q1800 900 1770 1100 Q1750 1180 1720 1215 M1700 1190 L1725 1240 M1705 1220 L1750 1200"/>
<path d="M800 780 Q1000 800 1100 900 Q1200 960 1350 850 Q1500 780 1700 800 Q1850 840 2077 830" class="thin"/>
<path d="M950 1020 Q1100 960 1250 975 M1235 955 L1250 980 L1240 1000"/>
<path d="M1000 1080 Q1050 1000 1150 980" class="thin"/>
<path d="M2077 745 Q1800 900 1600 1100 Q1500 1200 1430 1298 M2077 880 Q1800 1000 1620 1150 Q1520 1250 1500 1290 Q1650 1280 1800 1200 Q1950 1100 2077 950" />
<path d="M2077 750 Q1800 910 1600 1110 Q1500 1210 1440 1298" stroke="#6fb6dc" stroke-width="1.6"/>
</g>
<g class="hw" style="font-size:50px">
<text x="1280" y="928" transform="rotate(-2 1280 928)">MINIMAL.</text>
<text x="1272" y="998" transform="rotate(-2 1272 998)">FORCE —</text>
<text x="1840" y="750" transform="rotate(-12 1840 750)" style="font-size:44px">VILLI.</text>
<text x="1870" y="810" transform="rotate(-12 1870 810)" style="font-size:44px">TYPE</text>
<text x="1838" y="890" transform="rotate(-8 1838 890)" style="font-size:44px">INTESTINE</text>
</g>
</g>
<g class="sk" transform="translate(100,570) scale(0.23881)">
<path class="ink" d="M365 165 L367 220 M377 162 L379 225 M389 158 L391 213 M401 155 L403 218 M413 151 L415 206 M425 148 L427 211 M437 145 L439 200 M449 141 L451 204 M461 138 L463 193 M473 134 L475 197 M485 131 L487 186 M497 128 L499 191 M509 124 L511 179 M521 121 L523 184 M533 117 L535 172 M545 114 L547 177 M557 111 L559 166 M569 107 L571 170 M581 104 L583 159 M593 106 L595 169 M605 109 L607 164 M617 112 L619 175 M629 114 L631 169 M641 117 L643 180 M605 470 L608 507 M618 466 L620 504 M630 462 L633 501 M642 457 L646 498 M655 453 L658 495 M668 449 L670 492 M680 445 L683 489 M692 441 L696 486 M705 436 L708 483 M718 432 L720 480 M730 428 L733 477 M742 424 L746 474 M755 420 L758 471 M768 415 L770 468 M780 411 L783 465 M792 407 L796 460 M805 403 L808 454 M818 399 L820 449 M830 394 L833 444 M842 390 L846 438 M855 386 L858 433 M868 382 L870 427 M880 378 L883 422 M892 373 L896 417 M905 369 L908 411 M918 365 L920 406 M860 667 L882 663 M872 669 L894 659 M884 671 L906 656 M896 672 L918 652 M908 674 L930 649 M920 676 L942 646 M932 677 L954 643 M944 678 L966 640 M956 679 L978 637 M968 679 L990 635 M980 679 L1002 633 M992 679 L1014 632 M1004 678 L1026 630 M1016 678 L1038 630 M1028 676 L1050 629 M1040 675 L1062 629 M1052 673 L1074 629 M1064 671 L1086 629 M1076 668 L1098 630 M1088 665 L1110 631 M1100 662 L1122 632 M1112 659 L1134 634 M1124 656 L1146 636 M1136 652 L1158 637 M1148 649 L1170 639 M1160 645 L1182 641 M955 894 L979 890 M967 895 L991 884 M979 897 L1003 879 M991 898 L1015 873 M1003 899 L1027 868 M1015 900 L1039 863 M1027 900 L1051 858 M1039 901 L1063 854 M1051 900 L1075 850 M1063 900 L1087 847 M1075 899 L1099 844 M1087 897 L1111 841 M1099 895 L1123 839 M1111 892 L1135 837 M1123 889 L1147 836 M1135 886 L1159 836 M1147 882 L1171 835 M1159 878 L1183 836 M1171 873 L1195 836 M1183 868 L1207 837 M1195 863 L1219 838 M1207 857 L1231 839 M1219 852 L1243 841 M1231 846 L1255 842"/>
<path d="M850 665 Q1000 622 1170 642 Q1000 698 850 665Z M950 893 Q1100 830 1240 842 Q1100 915 950 893Z" fill="#2b2825" opacity="0.6"/>
<path d="M290 255 Q320 340 388 385 L355 445 Q300 400 283 335Z M690 112 Q780 178 872 195 L850 216 Q765 200 698 152Z" fill="#2b2825"/>
<g class="ink">
<path d="M285 300 Q300 150 450 80 Q600 50 700 110 Q850 160 920 250 Q950 330 900 390 Q780 480 550 492 Q380 480 300 380 Q280 340 285 300"/>
<path d="M300 250 Q400 150 600 130 Q700 140 830 220 Q880 290 830 332 Q700 390 550 412 Q400 420 330 340 Q295 290 300 250"/>
<path d="M330 220 Q420 100 600 85 Q660 90 700 115 M640 95 Q760 170 850 215 Q880 260 860 300"/>
<path d="M240 330 Q230 500 420 612 Q600 652 800 582 Q930 500 945 160"/>
<path d="M262 240 Q250 420 340 520 Q400 590 470 620 M290 180 Q270 240 275 300" class="thin"/>
<path d="M190 235 Q220 80 440 25 M405 10 L445 28 L410 60"/>
<path d="M330 450 Q270 600 300 772 M288 760 L302 778 L322 765"/>
<ellipse cx="440" cy="628" rx="36" ry="12" transform="rotate(8 440 628)"/>
<path d="M715 300 Q730 285 750 295 L748 320 Q730 330 716 322Z"/>
<path d="M390 460 Q480 520 600 535 M460 500 Q520 520 560 515" class="thin"/>
<path d="M810 160 Q880 90 1010 80 M1000 85 L1020 95 L1010 110"/>
<path d="M740 130 Q850 110 940 50 Q1000 20 1050 0" class="thin"/>
<!-- lower bowl -->
<path d="M590 770 Q650 680 900 640 Q1200 610 1380 660 Q1430 720 1370 790 Q1250 872 950 902 Q700 890 620 820 Q580 790 590 770"/>
<path d="M570 650 L580 800 Q600 1000 750 1112 Q900 1172 1050 1152 Q1300 1080 1400 850 Q1420 720 1400 600"/>
<path d="M600 660 L610 990 M400 655 L570 655 M400 705 L560 715" class="thin"/>
<path d="M580 790 Q600 730 665 715 M600 780 Q640 740 670 740"/>
<path d="M665 675 L715 672 L715 748 L668 750Z M710 640 L712 770 M650 760 L740 755"/>
<path d="M760 655 L800 690 M795 640 L765 690 M720 690 Q780 650 860 655"/>
<path d="M720 745 Q780 755 820 740" class="thin"/>
<path d="M890 1160 Q960 1120 1040 1150 Q960 1175 890 1160" stroke-width="1.5"/>
<path d="M600 1000 Q800 1060 1000 980 Q1200 920 1380 1000 M1290 1060 Q1340 1020 1360 980" class="thin"/>
<path d="M985 405 Q1000 560 860 650" />
<path d="M935 487 L1025 487"/>
<path d="M1030 600 L1060 590" class="thin"/>
<!-- ground -->
<path d="M0 450 L230 440 M0 595 Q200 600 420 640 M930 580 L1170 578 M90 1230 Q300 1100 600 1120 Q800 1140 900 1165 M280 830 Q300 900 400 930 Q600 1000 940 1020 M470 880 Q550 980 700 1030 M500 1070 Q700 1060 900 1100 M1040 1165 Q1300 1130 1675 1105 M1200 960 Q1450 1010 1675 1060" class="pencil"/>
</g>
<g class="hw" style="font-size:40px">
<text x="348" y="790" transform="rotate(-2 348 790)">HAND.</text>
<text x="378" y="832" transform="rotate(-1 378 832)" style="font-size:34px">LOCATION—</text>
<text x="1355" y="900" transform="rotate(-5 1355 900)">SCRUB</text>
<text x="1385" y="950" transform="rotate(-3 1385 950)">XX VILLI—</text>
</g>
</g>
<g class="sk" transform="translate(400,500) scale(0.25419)">
<defs><filter id="fG1" x="-20%" y="-20%" width="140%" height="140%"><feGaussianBlur stdDeviation="6"/></filter></defs>
<path d="M735 185 Q840 160 940 215 Q900 290 760 352 Q735 260 735 185Z" fill="#a8a8a8" filter="url(#fG1)"/>
<path d="M350 440 Q450 350 560 300 L480 420 L420 450Z" fill="#c4c4c4" filter="url(#fG1)"/>
<path d="M160 690 Q170 790 270 860 L290 840 Q200 790 185 690Z M960 230 Q1000 300 990 380 L970 380 Q980 300 945 240Z" fill="#b8b4b6" filter="url(#fG1)"/>
<path d="M158 705 Q185 570 405 408 Q560 270 750 180 Q880 158 952 205 Q992 280 978 360 Q945 515 845 652" fill="none" stroke="#b9b6b8" stroke-width="3.5" filter="url(#fG1)" opacity="0.9"/>
<path d="M40 720 L50 800 M70 690 L72 720 M115 780 L125 850 M120 745 L122 760 M160 880 L170 910 M195 920 L200 950 M300 890 L310 910 M380 900 L390 930 M415 880 L425 910 M465 870 L470 890 M660 790 L680 812 M715 790 L745 770 M905 685 L935 652 M965 590 L975 612 M1020 455 L1026 505 M1030 325 L1034 352 M1050 322 L1054 350 M1072 318 L1076 345 M1035 380 L1045 390 M1050 160 L1085 168 M1080 170 L1090 190 M700 150 L705 170 M820 150 L826 172 M915 125 L930 160" stroke="#55a9dc" stroke-width="2.6" fill="none" stroke-linecap="round"/>
<path d="M0 560 Q300 200 700 80 Q950 30 1100 90 Q1220 180 1200 350" stroke="#6fb6dc" stroke-width="1.5" fill="none"/>
<path class="ink" stroke-width="1" d="M538 271 l9 -28 M553 262 l10 -28 M569 248 l5 -29 M584 237 l10 -30 M597 227 l11 -26 M615 221 l5 -29 M627 208 l11 -29 M640 202 l6 -25 M656 190 l7 -28 M669 177 l10 -30 M687 168 l11 -25 M702 162 l8 -26 M958 470 l8 -32 M969 457 l5 -31 M973 439 l9 -31 M977 423 l7 -26 M987 410 l6 -28 M992 396 l6 -29 M998 378 l5 -27 M899 621 l5 -31 M906 612 l8 -29 M918 601 l8 -24 M925 593 l9 -27 M937 580 l5 -30 M945 568 l3 -26 M953 560 l8 -32 M959 549 l6 -31 M617 799 l6 -30 M632 796 l3 -30 M641 793 l1 -36 M653 790 l6 -33 M661 784 l6 -36 M672 778 l6 -38 M683 778 l1 -33 M693 774 l5 -36 M702 770 l6 -37 M711 761 l1 -34 M722 761 l5 -37 M734 754 l4 -36 M742 749 l3 -32 M755 744 l5 -31 M767 745 l1 -34 M773 740 l2 -32 M784 736 l3 -38 M796 730 l6 -36 M807 727 l7 -37 M818 723 l5 -30 M826 720 l4 -34 M835 716 l7 -35 M847 713 l2 -37 M856 708 l6 -34 M870 699 l5 -34 M879 697 l3 -36 M887 694 l2 -32 M902 691 l4 -36 M134 680 l6 -21 M145 660 l5 -23 M162 642 l6 -23 M136 852 l4 -27 M144 859 l2 -27 M159 865 l6 -32 M167 867 l2 -31 M179 871 l2 -24 M191 880 l1 -24 M436 863 l2 -29 M448 862 l6 -31 M457 864 l1 -29 M468 861 l2 -31 M178 600 l10 -21 M189 588 l9 -24 M203 583 l7 -20 M223 571 l7 -22 M997 221 l9 -24 M1014 247 l6 -24 M1033 276 l7 -25 M1052 302 l8 -26"/>
<path class="ink" d="M780 155 q8 -30 16 0 q8 -32 16 0 q8 -30 16 0 q8 -28 16 0 q10 -30 18 2 q8 -28 18 0 q8 -28 16 4 M950 120 q-12 5 0 14 M985 130 q12 -5 6 12 M1010 170 q10 -5 6 14 M1015 230 q10 -5 5 14"/>
<path d="M814 963 Q834 910 824 873 Q803 839 776 867 Q758 902 766 957" fill="#fff" class="ink"/>
<path d="M911 1182 Q944 940 936 777 Q907 735 874 773 Q846 934 849 1178" fill="#fff" class="ink"/>
<path d="M936 777 Q907 735 874 773 Q854 894 849 995 Q900 848 936 777Z" fill="#2b2825" opacity="0.88"/>
<path d="M984 1002 Q1007 889 999 812 Q977 779 951 808 Q931 883 936 998" fill="#fff" class="ink"/>
<path d="M999 812 Q977 779 951 808 Q936 864 934 912 Q972 844 999 812Z" fill="#2b2825" opacity="0.88"/>
<path d="M1098 966 Q1138 855 1128 776 Q1098 721 1052 764 Q1018 837 1022 954" fill="#fff" class="ink"/>
<path d="M1128 776 Q1098 721 1052 764 Q1028 818 1022 866 Q1085 804 1128 776Z" fill="#2b2825" opacity="0.88"/>
<path d="M1191 937 Q1232 843 1231 772 Q1210 726 1169 758 Q1136 819 1129 923" fill="#fff" class="ink"/>
<path d="M1231 772 Q1210 726 1169 758 Q1146 804 1136 846 Q1193 795 1231 772Z" fill="#2b2825" opacity="0.88"/>
<path d="M1268 993 Q1296 881 1288 803 Q1264 764 1232 797 Q1208 871 1212 987" fill="#fff" class="ink"/>
<path d="M1324 1002 Q1350 871 1344 782 Q1323 749 1296 778 Q1274 865 1276 998" fill="#fff" class="ink"/>
<path d="M1344 782 Q1323 749 1296 778 Q1280 843 1276 898 Q1316 820 1344 782Z" fill="#2b2825" opacity="0.88"/>
<path d="M1101 979 Q1110 907 1096 859 Q1074 833 1054 861 Q1044 909 1059 981" fill="#fff" class="ink"/>
<path d="M1161 952 Q1179 887 1171 842 Q1152 813 1129 838 Q1113 881 1119 948" fill="#fff" class="ink"/>
<path d="M874 1234 Q906 1116 904 1034 Q885 999 856 1026 Q830 1104 826 1226" fill="#fff" class="ink"/>
<path d="M799 1188 Q823 1162 819 1138 Q810 1105 781 1122 Q761 1138 761 1172" fill="#fff" class="ink"/>
<path d="M962 1194 Q1022 1106 1032 1034 Q1018 979 968 1006 Q922 1062 898 1166" fill="#fff" class="ink"/>
<path d="M1032 1034 Q1018 979 968 1006 Q937 1048 918 1089 Q987 1049 1032 1034Z" fill="#2b2825" opacity="0.88"/>
<path d="M1075 1123 Q1161 1034 1185 953 Q1179 885 1115 907 Q1051 962 1005 1077" fill="#fff" class="ink"/>
<path d="M1185 953 Q1179 885 1115 907 Q1072 948 1042 993 Q1130 961 1185 953Z" fill="#2b2825" opacity="0.88"/>
<path d="M1101 1201 Q1119 1118 1111 1061 Q1092 1033 1069 1059 Q1053 1114 1059 1199" fill="#fff" class="ink"/>
<path d="M1232 1122 Q1304 1056 1322 992 Q1318 929 1258 948 Q1204 988 1168 1078" fill="#fff" class="ink"/>
<path d="M1322 992 Q1318 929 1258 948 Q1222 978 1198 1012 Q1274 993 1322 992Z" fill="#2b2825" opacity="0.88"/>
<path d="M1174 1156 Q1205 1094 1204 1046 Q1188 1010 1156 1034 Q1131 1074 1126 1144" fill="#fff" class="ink"/>
<path d="M1303 1208 Q1335 1158 1333 1118 Q1320 1080 1287 1102 Q1261 1134 1257 1192" fill="#fff" class="ink"/>
<path d="M1021 1234 Q1044 1176 1041 1134 Q1025 1104 999 1126 Q980 1164 979 1226" fill="#fff" class="ink"/>
<g class="ink">
<path d="M150 700 Q180 560 400 400 Q560 260 750 172 Q880 150 960 200 Q1000 280 985 360 Q950 520 850 660 Q720 760 600 792 Q420 850 300 880 Q200 850 160 780 Q140 740 150 700"/>
<path d="M165 690 Q200 570 410 415 Q570 280 750 190 Q870 168 940 210" class="pencil"/>
<path d="M170 570 Q400 300 700 130 Q900 60 1080 90 Q1200 150 1190 350 Q1150 550 1000 722"/>
<path d="M1100 100 Q1150 250 1100 400 Q1050 560 960 742" class="thin"/>
<path d="M200 540 Q420 300 720 150 Q900 80 1060 110 Q1140 180 1120 350" class="thin"/>
<path d="M245 750 Q260 600 372 500 M170 780 Q260 862 292 852"/>
<path d="M740 180 Q720 280 770 372 M720 378 L780 370 M780 200 Q860 160 950 210 Q920 240 860 220 Q830 200 820 180"/>
<path d="M270 765 Q500 760 700 680 Q800 630 840 600" class="pencil"/>
<path d="M545 0 Q560 120 600 200 M575 180 L615 205 M605 175 L585 215"/>
<path d="M150 170 Q230 300 180 562 M165 560 L200 575 M172 545 L185 590"/>
<path d="M215 120 L235 160 M225 140 L260 110 M228 142 L250 165"/>
<path d="M0 600 Q150 560 280 300 Q350 200 360 0" />
<path d="M0 520 Q200 350 400 250 Q600 160 800 60 Q900 30 1000 40" class="thin"/>
<path d="M1035 515 Q1150 520 1170 682 M1130 715 L1195 700 M1150 690 L1165 725"/>
<path d="M630 655 Q540 800 620 1075 M585 1050 L640 1080 M625 1040 L610 1085"/>
<path d="M290 925 Q220 960 202 1050 M195 1010 L200 1060 M190 1052 L240 1050 M220 935 L290 925" />
<path d="M490 1055 Q800 750 1120 560 M960 745 Q1010 600 1062 420 M1045 440 L1075 460 M1050 470 L1060 430"/>
<path d="M1365 0 L1370 1200 M1385 830 L1390 1000" class="thin"/>
<path d="M0 1190 Q400 1260 800 1290 Q1100 1280 1360 1200 M1360 740 L1495 740 M1160 820 L1495 815" class="pencil"/>
<path d="M0 880 Q120 900 150 1000 Q130 1150 0 1290 M130 830 Q180 1000 120 1150 Q80 1230 20 1280" />
<path d="M310 900 l15 0 M340 895 q10 -5 8 10 M505 850 q10 -8 14 4 M545 835 l25 0 M230 930 l20 0 M255 925 l10 0"/>
<path d="M735 25 Q900 10 1000 25 Q1100 35 1230 20" />
</g>
<g class="hw" style="font-size:38px">
<text x="1210" y="712" transform="rotate(-4 1210 712)">VILLI.</text>
<text x="650" y="1040" transform="rotate(-8 650 1040)">CLOTH—</text>
</g>
</g>
<g class="sk" transform="translate(700,455) scale(0.25803)">
<defs><filter id="fH1" x="-20%" y="-20%" width="140%" height="140%"><feGaussianBlur stdDeviation="5"/></filter></defs>
<path d="M250 640 Q300 560 450 530 Q650 500 820 510 Q930 560 945 650 Q900 700 800 680 Q650 660 540 740 Q420 790 300 760 Q240 720 250 640Z" fill="#a9a9a9" opacity="0.85" filter="url(#fH1)"/>
<path d="M420 600 Q600 560 760 580 Q650 640 520 700 Q420 720 380 680Z" fill="#e8e8e8" opacity="0.8" filter="url(#fH1)"/>
<path class="yel" d="M405 175 Q520 140 665 150 Q560 200 405 175Z M505 435 Q600 410 705 432 Q600 460 505 435Z M275 250 L310 245 L315 280 L335 295 L300 322 L265 310 L285 285Z M570 965 Q610 945 655 962 Q610 980 570 965Z"/>
<path class="ink" stroke-width="1" d="M200 338 L202 440 M212 346 L214 444 M225 353 L227 449 M237 361 L239 453 M250 369 L252 457 M262 376 L264 461 M275 384 L277 466 M287 392 L289 470 M300 399 L302 474 M312 407 L314 478 M325 411 L327 483 M337 415 L339 487 M350 419 L352 491 M362 423 L364 495 M374 426 L376 500 M387 430 L389 504 M399 433 L401 503 M412 435 L414 501 M424 438 L426 499 M437 440 L439 497 M449 441 L451 494 M462 442 L464 492 M474 443 L476 490 M487 443 L489 488 M499 443 L501 485 M511 442 L513 483 M524 441 L526 481 M536 439 L538 479 M549 437 L551 476 M561 435 L563 474 M574 432 L576 472 M586 429 L588 469 M599 426 L601 467 M611 422 L613 465 M624 418 L626 463 M636 414 L638 460 M649 410 L651 458 M661 406 L663 456 M673 401 L675 454 M686 395 L688 451 M698 390 L700 448 M711 385 L713 441 M723 379 L725 433 M736 374 L738 426 M748 369 L750 419 M761 363 L763 412 M773 358 L775 405 M786 353 L788 398 M798 347 L800 391 M810 342 L812 384 M823 337 L825 377 M835 331 L837 370 M848 326 L850 363 M860 321 L862 356 M873 315 L875 349 M885 310 L887 342 M898 305 L900 335 M910 299 L912 328 M923 294 L925 321 M935 289 L937 314 M948 283 L950 307 M960 278 L962 300 M415 180 L421 158 M426 179 L432 158 M437 178 L443 157 M448 178 L454 156 M459 177 L465 156 M470 176 L476 156 M481 175 L487 155 M492 174 L498 154 M503 174 L509 154 M514 173 L520 154 M525 172 L531 153 M536 171 L542 152 M547 170 L553 152 M558 170 L564 152 M569 169 L575 151 M580 168 L586 150 M591 167 L597 150 M602 166 L608 150 M613 166 L619 149 M624 165 L630 148 M635 164 L641 148 M646 163 L652 148 M512 445 L516 425 M524 445 L528 425 M536 445 L540 425 M548 445 L552 425 M560 445 L564 425 M572 445 L576 425 M584 445 L588 425 M596 445 L600 425 M608 445 L612 425 M620 445 L624 425 M632 445 L636 425 M644 445 L648 425 M656 445 L660 425 M668 445 L672 425 M680 445 L684 425 M692 445 L696 425"/>
<path class="ink" stroke-width="0.9" d="M350 255 q6 -8 12 0 q6 8 12 0 q6 -8 12 -2 M420 250 q6 -8 12 0 q6 8 12 0 q6 -8 12 -2 M500 240 q6 -8 12 0 q6 8 12 0 q6 -8 12 -2 M560 230 q6 -8 12 0 q6 8 12 0 q6 -8 12 -2 M640 225 q6 -8 12 0 q6 8 12 0 q6 -8 12 -2 M700 220 q6 -8 12 0 q6 8 12 0 q6 -8 12 -2 M780 210 q6 -8 12 0 q6 8 12 0 q6 -8 12 -2 M330 300 q6 -8 12 0 q6 8 12 0 q6 -8 12 -2 M390 320 q6 -8 12 0 q6 8 12 0 q6 -8 12 -2 M450 315 q6 -8 12 0 q6 8 12 0 q6 -8 12 -2 M520 310 q6 -8 12 0 q6 8 12 0 q6 -8 12 -2 M600 300 q6 -8 12 0 q6 8 12 0 q6 -8 12 -2 M680 290 q6 -8 12 0 q6 8 12 0 q6 -8 12 -2 M760 280 q6 -8 12 0 q6 8 12 0 q6 -8 12 -2 M830 270 q6 -8 12 0 q6 8 12 0 q6 -8 12 -2 M300 350 q6 -8 12 0 q6 8 12 0 q6 -8 12 -2 M380 360 q6 -8 12 0 q6 8 12 0 q6 -8 12 -2 M460 365 q6 -8 12 0 q6 8 12 0 q6 -8 12 -2 M540 360 q6 -8 12 0 q6 8 12 0 q6 -8 12 -2 M620 345 q6 -8 12 0 q6 8 12 0 q6 -8 12 -2 M700 330 q6 -8 12 0 q6 8 12 0 q6 -8 12 -2 M780 320 q6 -8 12 0 q6 8 12 0 q6 -8 12 -2 M860 300 q6 -8 12 0 q6 8 12 0 q6 -8 12 -2 M330 400 q6 -8 12 0 q6 8 12 0 q6 -8 12 -2 M420 410 q6 -8 12 0 q6 8 12 0 q6 -8 12 -2 M520 395 q6 -8 12 0 q6 8 12 0 q6 -8 12 -2 M620 390 q6 -8 12 0 q6 8 12 0 q6 -8 12 -2 M720 385 q6 -8 12 0 q6 8 12 0 q6 -8 12 -2 M780 395 q6 -8 12 0 q6 8 12 0 q6 -8 12 -2"/>
<path class="ink" stroke-width="1.1" d="M227 760 l-1 -19 M240 762 l-1 -21 M245 764 l2 -21 M257 766 l1 -21 M264 768 l0 -19 M275 770 l-2 -22 M283 771 l0 -20 M288 772 l-0 -14 M296 774 l-1 -17 M306 774 l3 -15 M314 775 l-1 -15 M326 776 l-2 -16 M334 776 l1 -20 M342 776 l2 -20 M349 776 l-1 -22 M356 775 l-0 -19 M366 774 l2 -14 M377 774 l3 -16 M381 773 l-1 -17 M391 772 l1 -21 M397 771 l3 -17 M409 770 l-2 -19 M419 769 l1 -14 M423 768 l0 -16 M433 767 l2 -18 M439 766 l-2 -14 M448 766 l-1 -19 M460 765 l2 -18 M467 765 l2 -20 M475 765 l1 -17 M481 765 l-1 -21 M494 766 l1 -14 M502 767 l-1 -16 M512 768 l-0 -22 M517 769 l-1 -21 M523 770 l-1 -15 M532 772 l1 -20 M541 773 l2 -20 M550 775 l0 -16 M560 777 l2 -19 M560 770 l2 -22 M569 771 l0 -25 M573 772 l2 -20 M585 773 l1 -21 M588 774 l2 -25 M597 775 l-1 -23 M604 776 l0 -20 M613 777 l-1 -20 M621 777 l2 -26 M628 777 l2 -24 M633 778 l2 -23 M642 777 l2 -23 M648 777 l-1 -23 M659 777 l-0 -20 M662 776 l-1 -21 M672 775 l0 -19 M679 775 l-1 -26 M687 773 l-1 -22 M692 772 l-2 -23 M704 771 l-0 -19 M710 769 l0 -20 M716 768 l1 -19 M725 766 l-0 -25 M733 765 l-1 -23 M740 763 l3 -21 M748 762 l2 -24 M754 760 l1 -22 M761 759 l0 -19 M768 757 l2 -26 M780 756 l1 -23 M788 755 l2 -26 M791 754 l0 -18 M798 753 l-2 -23 M805 753 l0 -22 M815 752 l-1 -26 M824 752 l0 -22 M830 752 l1 -19 M839 752 l2 -23 M843 752 l-2 -19 M850 753 l1 -19 M859 754 l-0 -23 M870 754 l1 -19 M872 755 l2 -22 M882 756 l2 -20 M892 757 l2 -19 M600 740 l1 -18 M607 741 l-1 -19 M617 742 l2 -23 M621 743 l-1 -21 M631 743 l0 -21 M635 744 l0 -19 M642 744 l-1 -22 M649 744 l3 -23 M659 744 l-1 -18 M663 744 l2 -21 M669 744 l-2 -18 M679 743 l0 -21 M687 742 l0 -24 M694 741 l-0 -17 M701 739 l2 -23 M709 738 l1 -17 M717 736 l1 -19 M724 734 l-1 -20 M731 732 l1 -20 M739 730 l3 -22 M741 728 l1 -23 M754 726 l0 -20 M760 723 l2 -23 M765 721 l-1 -20 M770 719 l2 -21 M779 717 l2 -17 M786 716 l0 -19 M792 714 l-1 -17 M799 713 l2 -18 M809 712 l-0 -17 M817 711 l-2 -17 M823 710 l-1 -23 M827 710 l2 -17 M836 710 l-1 -23 M844 710 l-1 -24 M850 710 l2 -23 M858 710 l1 -23 M863 711 l-2 -23 M876 711 l2 -18 M882 712 l-0 -22 M612 710 l1 -15 M617 711 l0 -16 M627 712 l-1 -20 M629 713 l1 -15 M640 714 l-1 -16 M648 715 l-1 -15 M655 715 l0 -19 M659 715 l0 -19 M667 715 l1 -17 M679 715 l3 -18 M685 714 l-0 -19 M691 713 l3 -22 M698 711 l-0 -16 M708 710 l0 -21 M714 708 l1 -17 M722 706 l0 -18 M729 704 l-2 -20 M736 701 l3 -14 M741 699 l3 -20 M749 697 l-1 -17 M756 694 l1 -14 M762 692 l1 -17 M770 690 l-2 -14 M780 689 l1 -21 M789 687 l-0 -18 M794 686 l0 -14 M801 685 l1 -16 M811 684 l-1 -19 M819 684 l1 -19 M826 684 l-1 -20 M828 684 l1 -18 M837 685 l0 -20 M847 685 l2 -19 M855 686 l-2 -17 M858 687 l-1 -18 M298 720 l-2 -17 M308 721 l2 -16 M316 722 l2 -11 M330 723 l-2 -17 M335 723 l3 -14 M347 723 l-1 -14 M355 723 l-1 -14 M365 723 l2 -12 M374 722 l3 -13 M379 720 l-1 -18 M392 718 l1 -13 M401 716 l1 -15 M408 714 l-2 -16 M416 711 l2 -13 M426 708 l-0 -15 M434 705 l-2 -15 M446 702 l2 -16 M452 699 l2 -16 M461 696 l1 -16 M473 693 l-2 -11 M480 691 l-0 -16 M490 689 l2 -16 M496 687 l-2 -13 M506 686 l-0 -12 M514 685 l-1 -12 M526 685 l2 -14 M534 685 l2 -18 M541 686 l-0 -12 M550 686 l2 -16 M563 687 l0 -13 M331 665 l2 -9 M338 666 l0 -9 M346 667 l2 -12 M360 668 l-0 -6 M369 669 l-0 -8 M374 669 l-2 -9 M385 669 l0 -8 M395 669 l1 -8 M406 668 l-1 -7 M415 667 l-1 -13 M421 665 l-2 -9 M435 663 l0 -12 M440 661 l3 -10 M449 658 l3 -11 M463 655 l1 -12 M468 652 l-2 -7 M478 650 l2 -7 M488 647 l1 -8 M498 644 l-0 -12 M506 642 l-2 -9 M517 639 l2 -10 M527 638 l1 -7 M535 636 l1 -9 M542 635 l-2 -7 M555 635 l1 -7 M561 634 l2 -10 M570 635 l-1 -14 M580 635 l2 -10 M588 636 l0 -6 M602 637 l-0 -10 M429 610 l-1 -9 M438 611 l0 -7 M454 611 l1 -7 M466 612 l-1 -6 M477 612 l0 -13 M486 611 l0 -6 M496 610 l2 -8 M509 608 l-1 -7 M519 606 l2 -7 M531 603 l-2 -12 M540 599 l-1 -11 M554 595 l2 -14 M566 591 l-1 -8 M573 587 l-0 -7 M590 583 l-2 -11 M601 579 l-1 -10 M609 576 l-1 -10 M619 573 l-1 -6 M634 570 l1 -13 M642 568 l1 -9 M652 567 l3 -11 M665 566 l1 -7 M677 566 l1 -14 M689 567 l2 -6 M699 567 l2 -6 M289 800 l2 -16 M301 802 l3 -10 M305 805 l1 -12 M314 807 l-2 -13 M323 808 l1 -11 M332 809 l1 -15 M338 810 l-1 -16 M348 810 l0 -14 M356 809 l2 -18 M361 808 l1 -16 M371 806 l1 -11 M375 804 l-1 -16 M385 801 l-1 -14 M392 799 l-2 -11 M401 796 l3 -14 M411 794 l1 -14 M419 792 l-0 -10 M425 791 l3 -17 M433 790 l-0 -11 M443 790 l2 -15 M446 790 l3 -16 M458 791 l1 -12 M465 793 l-1 -15 M471 795 l2 -13 M483 797 l1 -15 M298 520 l0 -15 M311 520 l-2 -18 M320 520 l2 -12 M326 521 l2 -16 M338 521 l1 -17 M348 521 l3 -20 M357 521 l3 -13 M364 520 l2 -13 M375 520 l1 -18 M387 520 l-1 -14 M397 519 l3 -13 M403 519 l3 -13 M412 518 l-0 -17 M421 517 l1 -17 M434 516 l-2 -15 M440 514 l3 -12 M451 513 l2 -17 M461 511 l-1 -13 M469 510 l-1 -18 M478 508 l-0 -15 M488 506 l-2 -17 M497 504 l3 -13 M507 502 l3 -19 M514 500 l-1 -18 M524 498 l1 -13 M534 495 l-0 -16 M547 493 l1 -12 M552 491 l1 -15 M564 489 l2 -19 M570 486 l-1 -14 M582 484 l0 -20 M593 482 l3 -20 M603 480 l0 -19 M607 478 l2 -14 M619 477 l2 -20 M631 475 l-1 -19 M637 474 l-0 -13 M647 472 l0 -14 M656 471 l-0 -17 M667 470 l3 -13 M673 469 l-0 -14 M685 469 l2 -12 M692 468 l1 -18 M705 468 l-1 -19 M715 467 l1 -15 M722 467 l-1 -19 M735 467 l2 -14 M739 467 l-2 -16 M748 467 l1 -18 M762 467 l-1 -16"/>
<path d="M300 630 l60 -110 M316 633 l60 -110 M332 636 l60 -110 M348 639 l60 -110 M364 642 l60 -110 M380 645 l60 -110 M396 648 l60 -110 M412 651 l60 -110 M428 654 l60 -110 M444 657 l60 -110 M460 660 l60 -110 M476 663 l60 -110 M492 666 l60 -110 M508 669 l60 -110 M524 672 l60 -110 M540 675 l60 -110 M556 678 l60 -110 M572 681 l60 -110 M588 684 l60 -110 M604 687 l60 -110 M620 690 l60 -110 M636 687 l60 -110 M652 684 l60 -110 M668 681 l60 -110 M684 678 l60 -110 M700 675 l60 -110 M716 672 l60 -110 M732 669 l60 -110 M748 666 l60 -110 M764 663 l60 -110 M780 660 l60 -110 M796 657 l60 -110 M812 654 l60 -110 M828 651 l60 -110 M844 648 l60 -110 M860 645 l60 -110 M876 642 l60 -110 M892 639 l60 -110 M908 636 l60 -110 M924 633 l60 -110" stroke="#8c8c8c" stroke-width="0.8" fill="none" opacity="0.7"/>
<g class="ink">
<path d="M190 290 Q200 230 300 200 Q450 160 600 182 Q750 140 880 160 Q970 190 960 260 Q920 340 800 392 Q700 380 600 422 Q450 452 300 412 Q200 370 190 290" stroke-width="1.6"/>
<path d="M190 300 L200 440 Q250 512 400 502 Q550 482 700 452 Q850 470 930 400 Q972 330 962 260" stroke-width="1.6"/>
<path d="M210 240 Q330 180 480 200 Q600 230 740 170 Q850 140 940 200" />
<path d="M230 290 Q400 300 560 260 Q720 200 900 230 M250 350 Q420 370 580 320 Q720 270 880 320 M700 190 Q820 150 900 170 M300 230 Q400 210 470 215" class="thin"/>
<path d="M405 175 Q520 140 665 150 Q560 200 405 175Z M505 435 Q600 410 705 432"/>
<path d="M285 250 Q280 170 230 150 Q200 145 185 160 M185 150 L183 178 M180 152 L205 150"/>
<path d="M610 140 Q680 60 760 62 M750 45 L775 80 M775 50 L755 75"/>
<path d="M890 270 Q960 200 1050 215 M1035 200 L1055 218 L1040 235"/>
<path d="M1200 135 L1170 250"/>
<path d="M780 490 Q900 480 1000 430 Q1100 380 1215 405 M1205 395 L1222 412 L1205 420"/>
<!-- bottom piece -->
<path d="M250 640 Q300 560 450 530 Q650 500 820 510 Q930 560 945 650 Q900 700 800 680 Q650 660 540 740 Q420 790 300 760 Q240 720 250 640" />
<path d="M200 700 Q230 650 260 640 M195 720 Q240 800 400 812 Q520 800 620 770 Q760 740 880 790 Q950 760 960 690 Q960 600 900 540" stroke-width="1.7"/>
<path d="M215 740 Q300 830 450 820 Q600 790 700 780 Q820 790 900 770" />
<path d="M200 700 Q210 900 400 962 Q600 992 800 932 Q950 850 962 700" stroke-width="1.6"/>
<path d="M185 690 Q190 880 330 950 M230 690 Q250 800 320 850" class="thin"/>
<ellipse cx="590" cy="895" rx="280" ry="65" class="pencil"/>
<path d="M840 520 Q850 600 925 610 M925 600 Q960 560 1010 525 M995 522 L1015 522 L1012 545"/>
<path d="M880 750 Q980 760 1055 705 M1035 700 L1058 702 L1052 725"/>
<path d="M50 650 Q40 560 200 550 Q400 540 560 545 M160 640 Q150 580 250 540" class="thin"/>
<path d="M1285 630 L1190 830 M1235 735 L1275 735"/>
<path d="M570 965 Q610 945 655 962 M570 965 Q610 985 660 965" stroke-width="1.5"/>
<path d="M635 985 Q640 1050 610 1085 M600 1065 L610 1088 L635 1085"/>
<path d="M850 1000 L785 1260 M800 1240 L810 1250"/>
<path d="M180 170 L190 1200 M965 80 L975 1220 M170 900 L180 1150" class="pencil"/>
<path d="M0 975 L430 980 M810 940 L1130 940 M985 875 L1090 885 M305 1010 L310 1050 L445 1048 M0 915 L250 915" class="pencil"/>
<path d="M0 190 L50 195 M10 60 q10 -10 15 5"/>
</g>
<g class="hw" style="font-size:36px">
<text x="78" y="125" transform="rotate(-8 78 125)">WATER+SOAP</text>
<text x="265" y="135" transform="rotate(-3 265 135)">INLET—.</text>
<text x="795" y="55" transform="rotate(-4 795 55)">HAND</text>
<text x="858" y="82" transform="rotate(-4 858 82)">GRIP.</text>
<text x="1078" y="195" transform="rotate(-4 1078 195)">FEET</text>
<text x="1190" y="212" transform="rotate(-3 1190 212)" style="font-size:30px">STANDING</text>
<text x="1215" y="250" transform="rotate(-3 1215 250)">AREA—.</text>
<text x="1235" y="415" transform="rotate(-3 1235 415)">VILLI—.</text>
<text x="1000" y="485" transform="rotate(-3 1000 485)">CLOTH—.</text>
<text x="1278" y="455" transform="rotate(-2 1278 455)" style="font-size:32px">TOP PIECE—.</text>
<text x="1278" y="508" transform="rotate(2 1278 508)">LET WATER.</text>
<text x="1060" y="668" transform="rotate(-3 1060 668)">VILLI</text>
<text x="1088" y="702" transform="rotate(-2 1088 702)" style="font-size:32px">BOTTOM</text>
<text x="1110" y="742" transform="rotate(-2 1110 742)">PIECE</text>
<text x="1232" y="792" transform="rotate(-4 1232 792)" style="font-size:32px">ABSORBS</text>
<text x="1288" y="825" transform="rotate(-2 1288 825)">WATER—</text>
<text x="512" y="1128" transform="rotate(-4 512 1128)">GREY WATER</text>
<text x="678" y="1158" transform="rotate(-3 678 1158)" style="font-size:32px">OUTLET.</text>
<text x="848" y="1098" transform="rotate(-6 848 1098)">FILTER</text>
<text x="868" y="1140" transform="rotate(-5 868 1140)">SOAP—.</text>
</g>
</g>
<g class="sk" transform="translate(1170,215) scale(0.33133)">
<defs><linearGradient id="gBowlW" x1="0" y1="0" x2="1" y2="0.2"><stop offset="0" stop-color="#8e8e8e"/><stop offset="0.3" stop-color="#bdbdbd"/><stop offset="0.55" stop-color="#e4e4e4"/><stop offset="0.8" stop-color="#b0b0b0"/><stop offset="1" stop-color="#8a8a8a"/></linearGradient>
<filter id="fW1" x="-10%" y="-10%" width="120%" height="120%"><feGaussianBlur stdDeviation="2"/></filter></defs>
<path d="M432 962 Q440 1100 580 1150 Q750 1172 870 1052 Q930 962 920 882 Q900 960 820 1000 Q700 1050 560 1015 Q470 985 432 962Z" fill="url(#gBowlW)" filter="url(#fW1)"/>
<path d="M690 1030 Q800 1020 905 930 L915 960 Q880 1030 800 1060 Q740 1060 690 1030Z" fill="#e2c411"/>
<path d="M470 960 L500 930 L520 960 L490 990Z" fill="#c9b01a"/>
<path class="ink" stroke-width="0.9" d="M700 1029 L704 1042 M710 1028 L714 1046 M720 1026 L724 1050 M730 1024 L734 1052 M740 1021 L744 1054 M750 1019 L754 1055 M759 1016 L763 1056 M769 1012 L773 1055 M779 1008 L783 1053 M789 1004 L793 1050 M799 1000 L803 1046 M809 995 L813 1041 M818 990 L822 1035 M828 985 L832 1027 M838 979 L842 1019 M847 973 L851 1010 M857 967 L861 1000 M867 960 L871 989 M876 953 L880 977 M886 946 L890 964 M895 938 L899 951"/>
<path d="M485 990 Q600 1035 700 1022 M700 985 Q800 960 868 905 Q880 870 850 838" stroke="#6fb6dc" stroke-width="2.2" fill="none"/>
<path d="M490 850 Q520 760 620 745 Q720 750 760 790 Q870 850 870 900 Q800 960 650 972 Q540 950 500 900 Q485 870 490 850Z" fill="#fff"/>
<path d="M765 880 L780 895 L795 888 L788 912 L770 925 L755 922 L768 905Z" fill="#e2c411"/>
<g class="ink" stroke-width="1.5">
<path d="M465 830 Q480 760 600 730 Q700 720 760 770 Q900 830 920 880 Q920 940 840 990 Q700 1042 560 1012 Q470 975 430 960"/>
<path d="M490 850 Q520 760 620 745 Q720 750 760 790 Q870 850 870 900 Q800 960 650 972 Q540 950 500 900 Q485 870 490 850"/>
<path d="M430 960 Q440 1100 580 1150 Q750 1172 870 1052 Q930 962 920 880"/>
<path d="M560 1140 Q600 1165 640 1145" stroke-width="2.2"/>
<path d="M690 1030 Q800 1020 905 930 M540 950 Q650 990 760 960 Q820 940 850 920" stroke-width="1.1"/>
<path d="M830 800 Q870 815 860 835 L830 825 M460 835 Q490 850 500 880 M470 940 Q500 920 515 900" stroke-width="2"/>
</g>
<g class="pen" stroke="#4a4744" stroke-width="0.9">
<path d="M330 240 Q300 130 350 82 Q420 50 490 76 Q542 120 530 230 Q526 260 515 276"/>
<path d="M345 175 Q340 240 370 290 Q420 342 470 312 Q512 260 510 180 Q470 130 420 135 Q370 140 345 175"/>
<path d="M380 212 Q395 200 412 210 Q395 220 380 212 M445 208 Q462 198 478 206 Q462 216 445 208" fill="#333"/>
<path d="M378 200 Q395 190 415 198 M442 196 Q462 186 482 196"/>
<path d="M425 215 L415 260 Q430 272 447 262 M395 290 Q430 300 466 278 Q430 312 395 290"/>
<path d="M330 240 Q300 300 250 372 Q150 452 100 600 Q60 680 55 760"/>
<path d="M515 276 Q600 300 640 382 Q700 452 760 532 Q782 600 742 652"/>
<path d="M375 310 Q420 380 470 456 M520 300 Q490 380 470 456 L490 572 M455 455 L485 452 M495 545 L497 565"/>
<path d="M355 300 Q390 330 400 350 M400 350 Q440 420 465 470 M545 300 Q560 400 590 500"/>
<path d="M250 380 Q235 500 280 620 Q330 750 382 832 M330 382 Q400 520 430 652 Q442 750 420 802"/>
<path d="M240 420 Q300 380 340 400"/>
<path d="M370 842 Q400 800 442 812 L472 882 Q430 900 395 905 Z M395 905 Q400 950 450 965 Q500 950 500 900 Q490 870 470 880 M430 930 Q460 940 480 920 M445 960 L470 930"/>
<path d="M520 322 Q580 452 620 562 Q650 642 690 702 M630 352 Q640 500 700 642"/>
<path d="M690 702 Q730 660 770 650 L790 735 Q740 740 715 760 Z M720 760 Q750 800 830 810 Q835 770 800 745 M760 770 Q770 790 790 790 M790 760 L800 800 M810 760 L822 800"/>
<path d="M480 660 Q550 702 640 652 M290 660 Q380 640 470 662 M640 660 Q680 700 690 720"/>
<path d="M55 760 Q40 680 100 622 Q180 580 262 602 M60 762 Q100 852 152 902 M100 540 L110 548"/>
<path d="M170 902 Q180 802 280 792 Q350 800 372 852 M170 902 Q170 962 200 1012 M250 802 Q280 882 300 992 M205 960 Q250 950 290 960 M215 985 Q260 975 300 992"/>
<path d="M190 1012 Q220 1082 290 1122 Q352 1112 372 1082 Q352 1022 312 992 M200 1040 Q260 1100 300 1100 Q350 1090 360 1070 M240 1075 Q290 1040 330 1020 M290 1045 L345 1075 M255 1085 l5 12 m15 -10 l5 14 m15 -14 l5 14 m15 -16 l4 12"/>
<path d="M150 1085 L230 1080 M215 1155 Q400 1140 560 1150 M640 1160 L770 1165 M830 1100 L1000 1090 M940 910 Q1000 950 1030 1012 M830 742 Q920 762 1010 822 M385 1075 L425 1085"/>
</g>
<g class="ink">
<path d="M835 750 Q880 682 965 672 M955 658 L985 690 M985 660 L960 690"/>
<path d="M415 985 Q380 1100 490 1232 M480 1218 L510 1245 M508 1220 L485 1245"/>
<path d="M662 1195 L640 1292"/>
</g>
<g class="hw" style="font-size:30px">
<text x="985" y="607" style="font-size:27px;letter-spacing:2px">MINIMAL</text>
<text x="998" y="647" style="font-size:27px;letter-spacing:2px">HAND</text>
<text x="1002" y="682" transform="rotate(-2 1002 682)">PRESSURE—.</text>
<text x="525" y="1258" transform="rotate(-3 525 1258)">PRESS</text>
<text x="668" y="1242" transform="rotate(-3 668 1242)">TWIST—</text>
</g>
</g>
<g class="sk" transform="translate(1230,670) scale(0.23118)">
<defs><linearGradient id="gBowlF" x1="0" y1="0" x2="1" y2="0"><stop offset="0" stop-color="#a2a2a2"/><stop offset="0.5" stop-color="#b4b4b4"/><stop offset="1" stop-color="#888"/></linearGradient></defs>
<path d="M330 830 Q360 1000 500 1090 Q650 1170 800 1160 Q950 1120 1000 950 Q1020 850 990 770 Q980 900 900 960 Q780 980 700 1000 Q600 1050 540 1020 Q420 960 330 830Z" fill="url(#gBowlF)"/>
<path d="M380 976 l4 32 M394 978 l4 35 M407 980 l4 38 M420 982 l4 40 M434 984 l4 42 M448 986 l4 45 M461 988 l4 48 M474 990 l4 50 M488 992 l4 52 M502 994 l4 55 M515 996 l4 58 M528 998 l4 60 M542 1000 l4 62 M556 1002 l4 65 M569 1004 l4 68 M582 1006 l4 70 M596 1008 l4 72 M610 1010 l4 75 M623 1012 l4 78 M636 1014 l4 80 M650 1016 l4 82 M664 1018 l4 85 M677 1020 l4 88 M690 1018 l4 90 M704 1016 l4 88 M718 1014 l4 85 M731 1012 l4 82 M744 1010 l4 80 M758 1008 l4 78 M772 1006 l4 75 M785 1004 l4 72 M798 1002 l4 70 M812 1000 l4 68 M826 998 l4 65 M839 996 l4 62 M852 994 l4 60 M866 992 l4 58 M880 990 l4 55 M893 988 l4 52 M906 986 l4 50 M920 984 l4 48 M934 982 l4 45 M947 980 l4 42 M960 978 l4 40 M974 976 l4 38 M988 974 l4 35" stroke="#d8d8d8" stroke-width="1.2" fill="none" opacity="0.7"/>
<path d="M345 860 Q430 920 540 950 Q620 975 700 990 Q620 1050 540 1020 Q420 960 345 860Z M440 660 Q510 620 600 590 L560 650 Q500 680 450 680Z M930 790 Q960 770 985 775 L975 870 Q950 910 905 880Z M830 920 Q880 930 930 900 L900 960 L835 965Z" fill="#e2c411"/>
<path class="ink" stroke-width="0.9" d="M360 875 l2 20 M373 879 l2 23 M386 883 l2 26 M399 888 l2 29 M412 892 l2 32 M425 896 l2 35 M438 900 l2 38 M451 904 l2 41 M464 909 l2 44 M477 913 l2 47 M490 917 l2 50 M503 921 l2 53 M516 925 l2 56 M529 930 l2 59 M542 934 l2 60 M555 938 l2 60 M568 942 l2 60 M581 946 l2 60 M594 951 l2 60 M607 955 l2 60 M620 959 l2 60 M633 963 l2 60 M646 967 l2 60 M659 972 l2 60 M672 976 l2 60 M685 980 l2 60 M450 655 l4 22 M463 650 l4 22 M476 645 l4 22 M489 640 l4 22 M502 635 l4 22 M515 630 l4 22 M528 625 l4 22 M541 620 l4 22 M554 615 l4 22 M567 610 l4 22 M580 605 l4 22 M925 800 l2 70 M934 797 l2 70 M943 794 l2 70 M952 791 l2 70 M961 788 l2 70 M970 785 l2 70 M979 782 l2 70"/>
<path d="M540 690 Q420 720 400 800 Q420 880 560 900 M560 955 Q700 990 820 965" stroke="#55a9dc" stroke-width="2.6" fill="none"/>
<path d="M520 800 L535 830 L550 845 L490 850 L505 830Z" fill="#e2c411"/>
<g class="ink" stroke-width="1.4">
<path d="M330 830 Q300 740 420 680 Q520 620 600 590 M870 570 Q960 650 990 770 Q1030 900 980 1010 Q920 1140 780 1162 Q620 1170 480 1080 Q350 990 330 830"/>
<path d="M345 860 Q430 922 540 952 Q620 975 700 992 Q780 980 900 962 Q985 900 990 770"/>
<path d="M400 800 Q420 720 540 685 M400 800 Q430 880 580 905 Q700 920 810 890"/>
<path d="M840 590 Q930 680 935 790 M860 640 Q900 700 905 800" />
<path d="M780 1165 Q800 1145 830 1160" stroke-width="2"/>
<path d="M810 920 L830 968 M690 990 Q620 1050 540 1020"/>
</g>
<g class="pen" stroke="#4a4744" stroke-width="0.95">
<path d="M380 50 Q460 300 600 570 M435 215 Q520 420 625 570"/>
<path d="M690 65 Q700 300 710 540 L695 590 M725 165 Q735 400 738 545 L740 600 M705 545 L738 548 M695 590 L740 600"/>
<path d="M938 310 Q880 480 830 600 Q800 680 820 760 Q850 850 900 900"/>
<path d="M740 600 Q700 680 720 760 Q760 840 810 910"/>
<path d="M695 590 Q660 700 640 760 Q620 790 590 790 M600 570 Q540 680 525 740 Q530 780 560 790"/>
<path d="M535 720 q10 -10 18 2 q5 14 -8 16 M548 745 q10 -8 18 4 q2 14 -10 14 M565 760 q12 -6 18 6 q0 12 -12 12 M590 765 q18 -8 24 8 q0 14 -20 12"/>
<path d="M860 870 l15 40 m0 -45 l12 42 m2 -46 l12 42 m0 -48 l14 40 M855 905 q10 -10 20 5"/>
</g>
<g class="ink">
<path d="M590 580 Q500 500 400 520 Q340 540 300 590 M280 560 L320 595 M315 555 L285 595"/>
<path d="M870 525 Q960 520 1010 580 Q1050 640 1055 715 M1035 690 L1058 720 L1075 680"/>
<path d="M255 595 L230 735"/>
<path d="M265 1080 L405 1078 M270 1110 L480 1105 M425 1212 L690 1195 M1020 955 L1180 950 M870 1150 L1070 1120" class="thin"/>
</g>
<g class="hw" style="font-size:40px">
<text x="82" y="660" transform="rotate(-3 82 660)">PRESS</text>
<text x="250" y="690" transform="rotate(-12 250 690)">jump.</text>
<text x="1085" y="765" transform="rotate(-2 1085 765)">FOOT.</text>
<text x="1100" y="822" transform="rotate(2 1100 822)">PRESSURE—.</text>
</g>
</g>
<g class="sk" transform="translate(90,890) scale(0.24)" fill="none" stroke="#474441" stroke-width="1.25" stroke-linecap="round" stroke-linejoin="round">
<path d="M85 490 Q150 470 200 460 Q400 455 670 500 L675 600 M95 595 Q75 540 85 490 M150 478 Q300 520 450 542 Q600 547 640 522 Q600 492 500 480 M85 500 Q200 560 330 520"/>
<path d="M290 468 Q395.0 441.0 500 482 Q395.0 509.0 290 468 M300 466 L300 471 M309 464 L309 474 M319 463 L319 477 M328 461 L328 480 M338 460 L338 482 M347 459 L347 485 M357 458 L357 487 M366 458 L366 489 M376 457 L376 490 M385 458 L385 491 M395 458 L395 492 M405 459 L405 492 M414 460 L414 493 M424 461 L424 492 M433 463 L433 492 M443 465 L443 491 M452 468 L452 490 M462 470 L462 489 M471 473 L471 487 M481 476 L481 486 M490 479 L490 484 M320 530 Q400.0 512.0 480 538 Q400.0 556.0 320 530 M330 528 L330 533 M340 527 L340 535 M350 525 L350 538 M360 524 L360 540 M370 523 L370 542 M380 523 L380 543 M390 523 L390 544 M400 523 L400 545 M410 524 L410 545 M420 525 L420 545 M430 526 L430 545 M440 528 L440 544 M450 530 L450 543 M460 533 L460 541 M470 535 L470 540" stroke-width="0.9"/>
<path d="M95 595 C200 615 250 560 350 562 C450 564 520 610 670 600"/>
<path d="M95 595 l0 10 M110 597 l0 10 M124 599 l0 10 M137 599 l0 10 M150 599 l0 10 M162 598 l0 10 M174 597 l0 10 M186 595 l0 10 M197 593 l0 10 M208 590 l0 10 M219 587 l0 10 M230 584 l0 10 M241 580 l0 10 M252 577 l0 10 M263 574 l0 10 M274 571 l0 10 M286 568 l0 10 M298 566 l0 10 M310 564 l0 10 M323 563 l0 10 M336 562 l0 10 M350 562 l0 10 M350 562 l0 10 M362 562 l0 10 M373 563 l0 10 M385 564 l0 10 M396 566 l0 10 M407 568 l0 10 M418 570 l0 10 M429 572 l0 10 M440 574 l0 10 M451 577 l0 10 M463 579 l0 10 M474 582 l0 10 M485 584 l0 10 M497 587 l0 10 M509 589 l0 10 M521 592 l0 10 M534 594 l0 10 M547 596 l0 10 M560 597 l0 10 M574 599 l0 10 M589 600 l0 10 M604 601 l0 10 M619 601 l0 10 M635 601 l0 10 M652 601 l0 10 M670 600 l0 10" stroke-width="0.8"/>
<path d="M180 480 L215 480 L210 492 L188 492Z" fill="#4e4b48"/>
<path d="M85 615 L670 630 L670 645 L90 635 Z"/>
<path d="M65 690 C200 705 280 650 380 648 C450 646 520 690 675 680 M100 715 C250 715 300 690 380 685 C450 684 520 725 655 710 M65 690 Q70 800 130 830 Q350 882 620 830 Q670 790 675 680 M360 845 L415 845 L415 860 L360 860Z"/>
<path d="M100 712 l0 -14 M119 712 l0 -14 M137 711 l0 -14 M154 711 l0 -14 M170 710 l0 -14 M185 709 l0 -14 M199 708 l0 -14 M213 707 l0 -14 M226 705 l0 -14 M238 704 l0 -14 M250 702 l0 -14 M261 700 l0 -14 M272 699 l0 -14 M282 697 l0 -14 M292 695 l0 -14 M302 693 l0 -14 M312 692 l0 -14 M321 690 l0 -14 M331 689 l0 -14 M340 687 l0 -14 M350 686 l0 -14 M360 685 l0 -14 M370 684 l0 -14 M380 683 l0 -14 M380 683 l0 -16 M387 683 l0 -16 M395 683 l0 -16 M402 684 l0 -16 M409 685 l0 -16 M417 686 l0 -16 M424 687 l0 -16 M432 688 l0 -16 M439 690 l0 -16 M447 691 l0 -16 M455 693 l0 -16 M463 694 l0 -16 M472 696 l0 -16 M480 698 l0 -16 M489 700 l0 -16 M498 701 l0 -16 M507 703 l0 -16 M516 704 l0 -16 M526 706 l0 -16 M536 707 l0 -16 M546 708 l0 -16 M557 709 l0 -16 M568 710 l0 -16 M579 711 l0 -16 M591 711 l0 -16 M603 711 l0 -16 M615 711 l0 -16 M628 710 l0 -16 M641 709 l0 -16 M655 708 l0 -16" stroke-width="0.9"/>
<path d="M1020 690 Q1100 640 1250 620 Q1450 600 1560 610 Q1615 640 1610 720 M1020 690 L1030 780 Q1100 850 1320 862 Q1550 850 1610 780 L1610 720 M1040 690 Q1300 702 1560 640 Q1600 625 1580 612"/>
<path d="M1030 755 C1150 765 1200 715 1300 700 C1380 690 1500 740 1615 715"/>
<path d="M1030 755 l0 12 M1045 756 l0 12 M1060 756 l0 12 M1074 756 l0 12 M1087 755 l0 12 M1100 754 l0 12 M1112 752 l0 12 M1123 750 l0 12 M1135 748 l0 12 M1146 745 l0 12 M1157 742 l0 12 M1167 739 l0 12 M1178 735 l0 12 M1188 732 l0 12 M1198 728 l0 12 M1209 724 l0 12 M1219 721 l0 12 M1230 717 l0 12 M1241 714 l0 12 M1252 711 l0 12 M1263 707 l0 12 M1275 705 l0 12 M1287 702 l0 12 M1300 700 l0 12 M1300 700 l0 12 M1309 699 l0 12 M1318 699 l0 12 M1328 699 l0 12 M1338 699 l0 12 M1348 700 l0 12 M1359 701 l0 12 M1370 702 l0 12 M1380 703 l0 12 M1392 705 l0 12 M1403 707 l0 12 M1415 709 l0 12 M1426 710 l0 12 M1438 712 l0 12 M1450 714 l0 12 M1463 716 l0 12 M1475 717 l0 12 M1487 719 l0 12 M1500 720 l0 12 M1513 721 l0 12 M1525 722 l0 12 M1538 722 l0 12 M1551 722 l0 12 M1564 722 l0 12 M1577 721 l0 12 M1589 719 l0 12 M1602 717 l0 12 M1615 715 l0 12" stroke-width="0.8"/>
<path d="M1230 618 Q1310.0 598.0 1390 614 Q1310.0 634.0 1230 618 M1239 616 L1239 619 M1248 614 L1248 621 M1257 613 L1257 622 M1266 611 L1266 623 M1274 610 L1274 624 M1283 609 L1283 624 M1292 608 L1292 625 M1301 607 L1301 625 M1310 607 L1310 625 M1319 607 L1319 625 M1328 607 L1328 624 M1337 608 L1337 623 M1346 608 L1346 622 M1354 609 L1354 621 M1363 610 L1363 619 M1372 611 L1372 618 M1381 613 L1381 616 M1270 672 Q1355.0 642.0 1440 668 Q1355.0 698.0 1270 672 M1278 670 L1278 674 M1287 667 L1287 676 M1296 665 L1296 678 M1304 663 L1304 679 M1312 661 L1312 681 M1321 659 L1321 682 M1330 658 L1330 683 M1338 657 L1338 684 M1346 656 L1346 684 M1355 656 L1355 684 M1364 656 L1364 684 M1372 656 L1372 683 M1380 657 L1380 682 M1389 658 L1389 681 M1398 659 L1398 679 M1406 661 L1406 677 M1414 662 L1414 675 M1423 664 L1423 673 M1432 666 L1432 670" stroke-width="0.9"/>
<path d="M1090 640 L1125 640 L1125 658 L1090 658Z M1000 425 Q1080 450 1120 540 M965 458 Q1040 480 1085 550 M1082 545 Q1100 535 1120 545 M1088 560 L1112 560 M1095 570 L1105 635 M1110 565 L1100 600 M1320 848 Q1345 835 1370 848 Q1345 862 1320 848"/>
</g>
<g class="sk" transform="translate(530,890) scale(0.24)" fill="none" stroke="#474441" stroke-width="1.25" stroke-linecap="round" stroke-linejoin="round">
<path d="M485 205 Q520 90 620 60 Q720 55 738 120 Q730 200 575 240"/>
<path d="M485 210 Q400 230 340 280 Q230 400 160 540 Q110 640 120 700 M480 205 L545 245 M515 255 Q560 290 565 330"/>
<path d="M565 330 Q580 400 640 470 Q720 560 790 620 Q850 670 870 700 M540 480 Q650 560 740 640 Q790 690 860 712 M770 575 Q830 590 870 642 M780 605 Q830 620 860 652"/>
<path d="M520 455 Q545 520 520 600 Q480 680 430 742 M370 628 Q440 650 475 700 Q470 760 400 810 Q350 832 300 832 M350 665 Q350 720 300 790 Q280 820 250 850 M310 700 L320 790 M120 700 Q130 690 140 702 M120 712 Q200 722 270 732"/>
<path d="M60 790 Q70 730 150 725 Q260 725 280 770 Q270 840 200 855 Q90 860 60 790 M245 855 Q260 830 330 830 Q400 835 408 858 Q380 878 320 878 Q260 876 245 855"/>
<path d="M85 870 L600 880 M980 878 L1290 872 M1365 868 L1580 887 M1955 870 L2155 868"/>
<path d="M535 640 L540 660 Q520 700 520 750 Q530 850 700 875 Q900 885 1050 840 Q1100 800 1095 700 Q1080 650 1000 640 Q930 635 880 650 M540 670 Q600 640 730 645 M545 690 Q700 700 780 705 M870 650 Q960 630 1050 660 Q1060 690 980 692 Q900 700 860 712"/>
<path d="M525 775 C620 795 700 745 800 735 C900 730 1000 775 1095 745"/>
<path d="M525 775 l0 12 M537 777 l0 12 M549 779 l0 12 M561 779 l0 12 M573 780 l0 12 M585 779 l0 12 M597 778 l0 12 M609 777 l0 12 M620 775 l0 12 M632 773 l0 12 M643 770 l0 12 M655 768 l0 12 M666 765 l0 12 M678 762 l0 12 M690 759 l0 12 M701 755 l0 12 M713 752 l0 12 M725 749 l0 12 M737 746 l0 12 M749 743 l0 12 M762 741 l0 12 M774 738 l0 12 M787 737 l0 12 M800 735 l0 12 M800 735 l0 12 M812 735 l0 12 M824 735 l0 12 M836 735 l0 12 M848 736 l0 12 M860 737 l0 12 M872 738 l0 12 M884 740 l0 12 M896 741 l0 12 M908 743 l0 12 M920 745 l0 12 M932 747 l0 12 M943 749 l0 12 M955 750 l0 12 M967 752 l0 12 M979 753 l0 12 M991 754 l0 12 M1002 755 l0 12 M1014 755 l0 12 M1026 755 l0 12 M1037 755 l0 12 M1049 754 l0 12 M1061 753 l0 12 M1072 751 l0 12 M1084 748 l0 12 M1095 745 l0 12" stroke-width="0.8"/>
<path d="M860 698 Q917.5 682.0 975 694 Q917.5 710.0 860 698 M868 696 L868 699 M876 694 L876 700 M885 693 L885 702 M893 691 L893 702 M901 690 L901 703 M909 689 L909 703 M918 689 L918 703 M926 689 L926 703 M934 689 L934 702 M942 690 L942 701 M950 690 L950 699 M959 692 L959 698 M967 693 L967 696" stroke-width="0.9"/>
<path d="M590 665 Q605 655 625 665 L622 685 Q605 692 592 685Z M790 878 Q815 866 845 878"/>
<path d="M1575 200 Q1580 350 1610 500 Q1630 600 1590 660 Q1600 690 1660 685 Q1720 670 1780 675 Q1850 680 1890 660 M1733 205 Q1710 400 1720 520 Q1730 600 1800 620 Q1860 640 1890 655 Q1950 660 1985 690 Q1960 720 1880 710 Q1800 700 1660 715 Q1610 715 1600 690"/>
<path d="M1480 650 Q1450 700 1455 760 Q1500 850 1650 880 Q1850 895 1990 840 Q2050 790 2050 700 Q2000 660 1930 655 M1480 660 Q1520 645 1580 640 M1470 700 Q1550 722 1660 710 M1528 665 L1562 662 L1565 682 L1532 686Z M1715 878 Q1740 866 1765 878"/>
<path d="M1465 780 C1560 795 1640 745 1740 730 C1820 722 1920 770 2050 735"/>
<path d="M1465 780 l0 12 M1477 782 l0 12 M1489 783 l0 12 M1501 783 l0 12 M1513 782 l0 12 M1525 782 l0 12 M1537 780 l0 12 M1549 778 l0 12 M1560 776 l0 12 M1572 774 l0 12 M1583 771 l0 12 M1595 768 l0 12 M1606 765 l0 12 M1618 761 l0 12 M1630 758 l0 12 M1641 754 l0 12 M1653 751 l0 12 M1665 747 l0 12 M1677 744 l0 12 M1689 740 l0 12 M1702 737 l0 12 M1714 735 l0 12 M1727 732 l0 12 M1740 730 l0 12 M1740 730 l0 12 M1749 729 l0 12 M1758 729 l0 12 M1767 729 l0 12 M1777 730 l0 12 M1787 730 l0 12 M1796 731 l0 12 M1806 733 l0 12 M1817 734 l0 12 M1827 736 l0 12 M1838 737 l0 12 M1848 739 l0 12 M1859 740 l0 12 M1871 742 l0 12 M1882 743 l0 12 M1894 745 l0 12 M1905 746 l0 12 M1917 747 l0 12 M1930 747 l0 12 M1942 748 l0 12 M1955 748 l0 12 M1968 748 l0 12 M1981 747 l0 12 M1994 746 l0 12 M2008 744 l0 12 M2022 741 l0 12 M2036 739 l0 12 M2050 735 l0 12" stroke-width="0.8"/>
<path d="M1655 712 Q1745.0 684.0 1835 708 Q1745.0 736.0 1655 712 M1664 710 L1664 714 M1673 708 L1673 716 M1682 705 L1682 717 M1691 704 L1691 719 M1700 702 L1700 720 M1709 700 L1709 721 M1718 699 L1718 722 M1727 698 L1727 723 M1736 697 L1736 723 M1745 697 L1745 723 M1754 697 L1754 723 M1763 697 L1763 722 M1772 698 L1772 721 M1781 699 L1781 720 M1790 700 L1790 718 M1799 701 L1799 716 M1808 703 L1808 715 M1817 704 L1817 712 M1826 706 L1826 710" stroke-width="1"/>
</g>
<g class="sk" transform="translate(1090,1020) scale(0.10015)" fill="none" stroke="#474441" stroke-width="1.25" stroke-linecap="round" stroke-linejoin="round">
<path d="M250 235 L205 470 Q220 650 350 720 Q600 800 850 795 M1040 795 Q1400 780 1560 640 Q1630 500 1620 400 Q1600 300 1560 250 Q1400 190 1160 190 Q1100 222 1050 226 M250 300 Q400 230 720 215 M250 290 Q400 380 620 386 M1250 375 Q1450 370 1570 300 M1050 226 Q1100 245 1120 235"/>
<path d="M720 218 Q885.0 181.0 1050 232 Q885.0 269.0 720 218 M735 216 L735 222 M750 213 L750 225 M765 211 L765 229 M780 209 L780 232 M795 207 L795 236 M810 205 L810 238 M825 204 L825 241 M840 203 L840 243 M855 203 L855 245 M870 203 L870 246 M885 203 L885 247 M900 204 L900 247 M915 205 L915 247 M930 207 L930 247 M945 209 L945 246 M960 212 L960 245 M975 214 L975 243 M990 218 L990 241 M1005 221 L1005 239 M1020 225 L1020 237 M1035 228 L1035 234 M640 388 Q945.0 293.0 1250 378 Q945.0 473.0 640 388 M658 384 L658 392 M676 379 L676 396 M694 375 L694 399 M712 371 L712 403 M730 366 L730 407 M748 363 L748 410 M766 359 L766 413 M784 355 L784 416 M801 352 L801 419 M819 349 L819 421 M837 347 L837 423 M855 344 L855 425 M873 342 L873 426 M891 341 L891 427 M909 339 L909 428 M927 338 L927 428 M945 338 L945 428 M963 338 L963 428 M981 338 L981 427 M999 339 L999 425 M1017 340 L1017 424 M1035 341 L1035 422 M1053 343 L1053 419 M1071 345 L1071 417 M1089 347 L1089 414 M1106 350 L1106 411 M1124 353 L1124 407 M1142 356 L1142 403 M1160 359 L1160 400 M1178 363 L1178 395 M1196 367 L1196 391 M1214 370 L1214 387 M1232 374 L1232 382" stroke-width="0.9"/>
<path d="M205 530 Q400 580 700 462 Q900 412 1100 452 Q1400 540 1620 480 M380 302 Q450 270 540 262 M450 262 L540 300 M625 690 Q750 720 850 710 M740 700 L820 750 M920 725 Q1050 700 1150 705 Q1180 690 1190 665 M850 795 Q945 765 1040 795 Q945 820 850 795"/>
<path d="M830 860 Q900 840 940 870 Q1000 840 1030 880 Q1020 920 990 930 Q950 920 930 945 Q900 920 860 930 Q820 900 830 860 M800 970 Q760 1020 710 1040 Q720 1070 780 1050 M870 960 Q850 1010 830 1030 M990 960 Q960 1010 920 1030 M850 1045 L900 1055 M575 1145 Q620 1100 700 1110 Q740 1090 760 1105 M620 1160 Q700 1160 770 1115"/>
</g>
</svg>
</body></html>
